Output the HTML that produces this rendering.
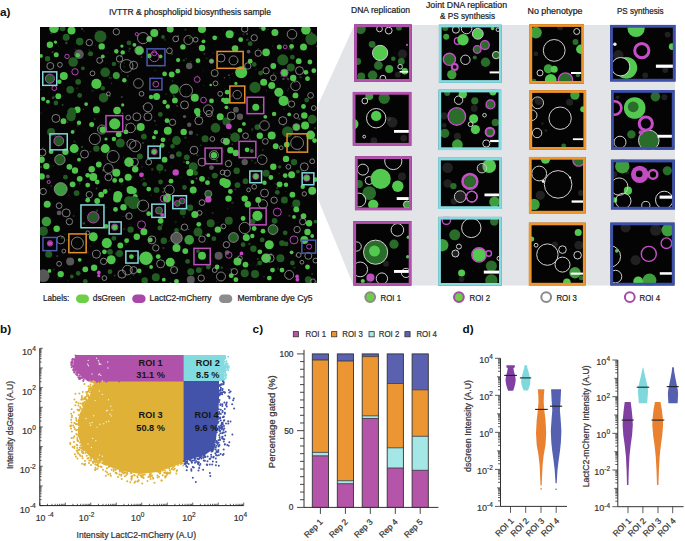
<!DOCTYPE html>
<html><head><meta charset="utf-8"><style>
html,body{margin:0;padding:0;background:#fff;width:685px;height:541px;overflow:hidden}
svg{display:block}
</style></head><body>
<svg width="685" height="541" viewBox="0 0 685 541" font-family="&apos;Liberation Sans&apos;, sans-serif"><text x="0" y="16" font-size="11.8" font-weight="bold" fill="#111" >a)</text>
<text x="109" y="14.5" font-size="8.8" textLength="162" lengthAdjust="spacingAndGlyphs" fill="#222" stroke="#222" stroke-width="0.22" >IVTTR &amp; phospholipid biosynthesis sample</text>
<polygon points="354.5,25 318,105 318,199 353.5,285.5 675,285.5 675,25" fill="#e3e4e8"/>
<text x="351" y="13.1" font-size="8.8" textLength="59" lengthAdjust="spacingAndGlyphs" fill="#222" stroke="#222" stroke-width="0.22" >DNA replication</text>
<text x="426" y="8" font-size="8.8" textLength="81" lengthAdjust="spacingAndGlyphs" fill="#222" stroke="#222" stroke-width="0.22" >Joint DNA replication</text>
<text x="440" y="19" font-size="8.8" textLength="55" lengthAdjust="spacingAndGlyphs" fill="#222" stroke="#222" stroke-width="0.22" >&amp; PS synthesis</text>
<text x="527.5" y="14" font-size="8.8" textLength="55" lengthAdjust="spacingAndGlyphs" fill="#222" stroke="#222" stroke-width="0.22" >No phenotype</text>
<text x="617" y="14" font-size="8.8" textLength="46.5" lengthAdjust="spacingAndGlyphs" fill="#222" stroke="#222" stroke-width="0.22" >PS synthesis</text>
<defs>
<clipPath id="tc00"><rect x="354.1" y="24.3" width="57.70" height="57.50"/></clipPath>
<clipPath id="tc01"><rect x="352.7" y="91.9" width="58.80" height="53.80"/></clipPath>
<clipPath id="tc02"><rect x="354.9" y="156.2" width="56.90" height="54.10"/></clipPath>
<clipPath id="tc03"><rect x="353.3" y="221.1" width="58.20" height="64.60"/></clipPath>
<clipPath id="tc10"><rect x="438.8" y="24.6" width="63.00" height="58.30"/></clipPath>
<clipPath id="tc11"><rect x="438.4" y="89.6" width="62.90" height="60.50"/></clipPath>
<clipPath id="tc12"><rect x="438.1" y="157.6" width="63.80" height="51.40"/></clipPath>
<clipPath id="tc13"><rect x="438.1" y="216.8" width="63.70" height="69.00"/></clipPath>
<clipPath id="tc20"><rect x="529.4" y="24.1" width="54.60" height="59.70"/></clipPath>
<clipPath id="tc21"><rect x="529.4" y="90.1" width="56.80" height="59.70"/></clipPath>
<clipPath id="tc22"><rect x="528.9" y="156.9" width="56.90" height="56.70"/></clipPath>
<clipPath id="tc23"><rect x="528.8" y="222.5" width="56.90" height="63.10"/></clipPath>
<clipPath id="tc30"><rect x="610.1" y="24.9" width="65.50" height="56.70"/></clipPath>
<clipPath id="tc31"><rect x="611.0" y="90.0" width="63.60" height="59.70"/></clipPath>
<clipPath id="tc32"><rect x="610.9" y="159.6" width="64.00" height="50.00"/></clipPath>
<clipPath id="tc33"><rect x="610.3" y="222.5" width="64.30" height="63.10"/></clipPath>
<filter id="blr" x="-20%" y="-20%" width="140%" height="140%"><feGaussianBlur stdDeviation="0.45"/></filter><filter id="blr2" x="0" y="0" width="100%" height="100%"><feGaussianBlur stdDeviation="0.35"/></filter>
</defs>
<g clip-path="url(#tc00)">
<rect x="354.1" y="24.3" width="57.70" height="57.50" fill="#040404"/>
<g filter="url(#blr)">
<circle cx="360.6" cy="28.9" r="5.2" fill="#2a6c2b"/>
<circle cx="372.1" cy="44.3" r="3.4" fill="#2a6c2b"/>
<circle cx="380.1" cy="52.9" r="7.4" fill="#52c94f"/>
<circle cx="380.1" cy="52.9" r="7.6" fill="none" stroke="#cfcfcf" stroke-width="1.0"/>
<circle cx="357.7" cy="61.5" r="3.4" fill="#2a6c2b"/>
<circle cx="378.4" cy="65.5" r="4.4" fill="#2a6c2b"/>
<circle cx="389.2" cy="69.0" r="4.0" fill="#3c9e3a"/>
<circle cx="372.6" cy="75.3" r="4.8" fill="#2a6c2b"/>
<circle cx="361.2" cy="76.4" r="4.0" fill="#2a6c2b"/>
<circle cx="404.7" cy="71.3" r="3.2" fill="#52c94f"/>
<circle cx="401.3" cy="61.5" r="3.4" fill="#2a6c2b"/>
<circle cx="393.3" cy="58.7" r="2.3" fill="#2a6c2b"/>
<circle cx="388.7" cy="30.6" r="3.4" fill="none" stroke="#cfcfcf" stroke-width="1.0"/>
<circle cx="379.5" cy="28.9" r="2.9" fill="none" stroke="#cfcfcf" stroke-width="1.0"/>
<circle cx="397.8" cy="74.7" r="2.9" fill="#8a8a8a" opacity="0.22"/>
<circle cx="407.0" cy="44.9" r="1.1" fill="#c24cc4"/>
<circle cx="402.4" cy="54.1" r="4.6" fill="#8a8a8a" opacity="0.22"/>
<circle cx="400.1" cy="66.7" r="2.3" fill="none" stroke="#cfcfcf" stroke-width="1.0"/>
<circle cx="382.9" cy="78.2" r="2.9" fill="none" stroke="#cfcfcf" stroke-width="1.0"/>
<circle cx="399.0" cy="27.7" r="2.9" fill="#2a6c2b"/>
</g>
<rect x="399.6" y="71.0" width="8.6" height="1.6" fill="#fff"/>
</g>
<rect x="355.50" y="25.70" width="54.90" height="54.70" fill="none" stroke="#b450ae" stroke-width="2.8"/>
<g clip-path="url(#tc01)">
<rect x="352.7" y="91.9" width="58.80" height="53.80" fill="#040404"/>
<g filter="url(#blr)">
<circle cx="369.3" cy="95.9" r="4.0" fill="#3c9e3a"/>
<circle cx="384.2" cy="98.2" r="5.7" fill="#2a6c2b"/>
<circle cx="364.8" cy="101.0" r="2.9" fill="none" stroke="#cfcfcf" stroke-width="1.0"/>
<circle cx="376.2" cy="118.2" r="9.7" fill="#060606"/>
<circle cx="376.2" cy="118.2" r="9.7" fill="none" stroke="#cfcfcf" stroke-width="1.0"/>
<circle cx="376.2" cy="115.9" r="5.2" fill="#52c94f"/>
<circle cx="353.3" cy="124.0" r="5.2" fill="#52c94f"/>
<circle cx="388.8" cy="118.8" r="2.3" fill="#8a8a8a" opacity="0.22"/>
<circle cx="392.3" cy="122.2" r="5.2" fill="#8a8a8a" opacity="0.22"/>
<circle cx="403.7" cy="138.3" r="3.4" fill="#8a8a8a" opacity="0.22"/>
<circle cx="364.2" cy="136.6" r="1.4" fill="none" stroke="#cfcfcf" stroke-width="1.0"/>
<circle cx="373.9" cy="140.6" r="3.4" fill="#8a8a8a" opacity="0.22"/>
</g>
<rect x="394.0" y="130.0" width="14.9" height="2.8" fill="#fff"/>
</g>
<rect x="354.10" y="93.30" width="56.00" height="51.00" fill="none" stroke="#b450ae" stroke-width="2.8"/>
<g clip-path="url(#tc02)">
<rect x="354.9" y="156.2" width="56.90" height="54.10" fill="#040404"/>
<g filter="url(#blr)">
<circle cx="362.9" cy="169.6" r="5.5" fill="none" stroke="#cfcfcf" stroke-width="1.0"/>
<circle cx="369.2" cy="180.5" r="4.0" fill="none" stroke="#cfcfcf" stroke-width="1.0"/>
<circle cx="358.9" cy="183.9" r="4.0" fill="#2a6c2b"/>
<circle cx="369.2" cy="193.1" r="6.9" fill="#2a6c2b"/>
<circle cx="380.7" cy="178.8" r="10.1" fill="#52c94f"/>
<circle cx="397.8" cy="186.2" r="5.7" fill="#52c94f"/>
<circle cx="393.3" cy="161.0" r="8.6" fill="none" stroke="#cfcfcf" stroke-width="1.0"/>
<circle cx="401.9" cy="176.5" r="4.0" fill="#8a8a8a" opacity="0.22"/>
<circle cx="358.9" cy="200.0" r="6.9" fill="none" stroke="#cfcfcf" stroke-width="1.0"/>
<circle cx="373.2" cy="204.6" r="5.2" fill="#52c94f"/>
<circle cx="407.0" cy="204.6" r="3.4" fill="#3c9e3a"/>
<circle cx="407.0" cy="204.6" r="3.6" fill="none" stroke="#cfcfcf" stroke-width="1.0"/>
</g>
<rect x="396.7" y="197.1" width="12.0" height="2.9" fill="#fff"/>
</g>
<rect x="356.30" y="157.60" width="54.10" height="51.30" fill="none" stroke="#b450ae" stroke-width="2.8"/>
<g clip-path="url(#tc03)">
<rect x="353.3" y="221.1" width="58.20" height="64.60" fill="#040404"/>
<g filter="url(#blr)">
<circle cx="375.6" cy="252.2" r="12.0" fill="#2a6c2b"/>
<circle cx="375.6" cy="252.2" r="12.1" fill="none" stroke="#cfcfcf" stroke-width="1.0"/>
<circle cx="374.5" cy="251.1" r="5.5" fill="#52c94f"/>
<circle cx="397.4" cy="229.9" r="6.3" fill="none" stroke="#cfcfcf" stroke-width="1.0"/>
<circle cx="394.0" cy="244.2" r="4.6" fill="#2a6c2b"/>
<circle cx="356.7" cy="246.5" r="4.6" fill="none" stroke="#cfcfcf" stroke-width="1.0"/>
<circle cx="408.3" cy="237.3" r="1.7" fill="#52c94f"/>
<circle cx="407.7" cy="256.8" r="1.7" fill="#52c94f"/>
<circle cx="360.2" cy="269.4" r="7.4" fill="none" stroke="#cfcfcf" stroke-width="1.0"/>
<circle cx="386.0" cy="263.7" r="2.9" fill="#8a8a8a" opacity="0.22"/>
<circle cx="406.0" cy="272.9" r="4.6" fill="none" stroke="#cfcfcf" stroke-width="1.0"/>
<circle cx="381.9" cy="278.6" r="5.7" fill="none" stroke="#cfcfcf" stroke-width="1.0"/>
<circle cx="370.5" cy="277.4" r="4.0" fill="#c24cc4"/>
<circle cx="369.3" cy="279.7" r="3.4" fill="#8a8a8a" opacity="0.22"/>
<circle cx="362.8" cy="281.0" r="2.1" fill="#52c94f"/>
</g>
<rect x="394.0" y="270.0" width="14.9" height="2.9" fill="#fff"/>
</g>
<rect x="354.70" y="222.50" width="55.40" height="61.80" fill="none" stroke="#b450ae" stroke-width="2.8"/>
<g clip-path="url(#tc10)">
<rect x="438.8" y="24.6" width="63.00" height="58.30" fill="#040404"/>
<g filter="url(#blr)">
<circle cx="445.3" cy="27.9" r="3.0" fill="#2a6c2b"/>
<circle cx="446.2" cy="36.8" r="3.0" fill="#3c9e3a"/>
<circle cx="457.7" cy="40.9" r="3.3" fill="none" stroke="#c64fc8" stroke-width="1.35"/>
<circle cx="463.0" cy="39.7" r="5.7" fill="#52c94f"/>
<circle cx="477.8" cy="33.8" r="5.3" fill="#52c94f"/>
<circle cx="477.8" cy="33.8" r="5.4" fill="none" stroke="#cfcfcf" stroke-width="1.0"/>
<circle cx="455.9" cy="29.7" r="3.5" fill="none" stroke="#cfcfcf" stroke-width="1.0"/>
<circle cx="466.6" cy="28.5" r="5.3" fill="none" stroke="#cfcfcf" stroke-width="1.0"/>
<circle cx="484.9" cy="45.1" r="4.1" fill="#2a6c2b"/>
<circle cx="484.9" cy="45.1" r="4.4" fill="none" stroke="#c64fc8" stroke-width="1.35"/>
<circle cx="477.2" cy="49.4" r="3.5" fill="#2a6c2b"/>
<circle cx="477.2" cy="49.4" r="3.8" fill="none" stroke="#c64fc8" stroke-width="1.35"/>
<circle cx="449.4" cy="59.3" r="5.9" fill="#2a6c2b"/>
<circle cx="449.4" cy="59.3" r="6.1" fill="none" stroke="#c64fc8" stroke-width="1.35"/>
<circle cx="454.7" cy="66.9" r="3.3" fill="none" stroke="#c64fc8" stroke-width="1.35"/>
<circle cx="454.7" cy="66.9" r="2.6" fill="none" stroke="#c64fc8" stroke-width="1.35"/>
<circle cx="451.8" cy="74.6" r="4.7" fill="#3c9e3a"/>
<circle cx="465.4" cy="59.8" r="4.7" fill="none" stroke="#cfcfcf" stroke-width="1.0"/>
<circle cx="485.5" cy="62.2" r="4.7" fill="#2a6c2b"/>
<circle cx="496.1" cy="55.1" r="3.5" fill="#2a6c2b"/>
<circle cx="496.1" cy="55.1" r="3.7" fill="none" stroke="#cfcfcf" stroke-width="1.0"/>
<circle cx="492.6" cy="28.5" r="1.8" fill="#52c94f"/>
<circle cx="497.9" cy="29.7" r="1.8" fill="none" stroke="#cfcfcf" stroke-width="1.0"/>
<circle cx="474.8" cy="57.5" r="2.1" fill="#2a6c2b"/>
</g>
<rect x="489.6" y="71.4" width="9.5" height="2.0" fill="#fff"/>
</g>
<rect x="440.20" y="26.00" width="60.20" height="55.50" fill="none" stroke="#84dbe0" stroke-width="2.8"/>
<g clip-path="url(#tc11)">
<rect x="438.4" y="89.6" width="62.90" height="60.50" fill="#040404"/>
<g filter="url(#blr)">
<circle cx="447.2" cy="93.0" r="3.0" fill="#2a6c2b"/>
<circle cx="462.8" cy="94.2" r="4.2" fill="#52c94f"/>
<circle cx="458.6" cy="100.2" r="4.2" fill="none" stroke="#cfcfcf" stroke-width="1.0"/>
<circle cx="474.8" cy="100.8" r="3.6" fill="#2a6c2b"/>
<circle cx="456.8" cy="116.4" r="8.6" fill="#2a6c2b"/>
<circle cx="456.8" cy="116.4" r="8.8" fill="none" stroke="#c64fc8" stroke-width="1.35"/>
<circle cx="474.2" cy="108.4" r="3.4" fill="#8a8a8a" opacity="0.22"/>
<circle cx="490.5" cy="104.4" r="4.2" fill="#2a6c2b"/>
<circle cx="490.5" cy="104.4" r="4.4" fill="none" stroke="#c64fc8" stroke-width="1.35"/>
<circle cx="487.5" cy="106.8" r="2.4" fill="#8a8a8a" opacity="0.22"/>
<circle cx="492.9" cy="91.8" r="3.6" fill="#52c94f"/>
<circle cx="444.2" cy="115.8" r="3.6" fill="#8a8a8a" opacity="0.22"/>
<circle cx="473.6" cy="118.8" r="4.6" fill="#52c94f"/>
<circle cx="475.4" cy="129.6" r="4.6" fill="#52c94f"/>
<circle cx="495.3" cy="122.4" r="3.6" fill="#2a6c2b"/>
<circle cx="489.9" cy="132.1" r="4.3" fill="#2a6c2b"/>
<circle cx="489.9" cy="132.1" r="4.6" fill="none" stroke="#c64fc8" stroke-width="1.35"/>
<circle cx="489.9" cy="132.1" r="4.1" fill="none" stroke="#c64fc8" stroke-width="1.35"/>
<circle cx="444.8" cy="133.3" r="4.6" fill="#2a6c2b"/>
<circle cx="444.2" cy="125.4" r="2.4" fill="#8a8a8a" opacity="0.22"/>
<circle cx="457.4" cy="136.3" r="3.6" fill="#8a8a8a" opacity="0.22"/>
<circle cx="457.4" cy="144.7" r="5.4" fill="#3c9e3a"/>
<circle cx="486.3" cy="143.5" r="3.6" fill="none" stroke="#cfcfcf" stroke-width="1.0"/>
<circle cx="484.5" cy="115.2" r="1.8" fill="none" stroke="#cfcfcf" stroke-width="1.0"/>
<circle cx="470.6" cy="124.2" r="2.4" fill="none" stroke="#cfcfcf" stroke-width="1.0"/>
</g>
<rect x="490.1" y="139.9" width="8.8" height="2.2" fill="#fff"/>
</g>
<rect x="439.80" y="91.00" width="60.10" height="57.70" fill="none" stroke="#84dbe0" stroke-width="2.8"/>
<g clip-path="url(#tc12)">
<rect x="438.1" y="157.6" width="63.80" height="51.40" fill="#040404"/>
<g filter="url(#blr)">
<circle cx="489.2" cy="166.1" r="6.9" fill="#52c94f"/>
<circle cx="481.9" cy="168.2" r="4.7" fill="none" stroke="#cfcfcf" stroke-width="1.0"/>
<circle cx="481.3" cy="168.7" r="4.2" fill="#8a8a8a" opacity="0.22"/>
<circle cx="447.6" cy="167.7" r="5.3" fill="#8a8a8a" opacity="0.22"/>
<circle cx="469.9" cy="181.4" r="7.2" fill="none" stroke="#c64fc8" stroke-width="3.0"/>
<circle cx="469.9" cy="181.4" r="5.8" fill="#2a6c2b"/>
<circle cx="447.6" cy="183.5" r="4.2" fill="#8a8a8a" opacity="0.22"/>
<circle cx="453.4" cy="186.1" r="3.2" fill="#2a6c2b"/>
<circle cx="460.2" cy="196.6" r="5.8" fill="none" stroke="#cfcfcf" stroke-width="1.0"/>
<circle cx="460.2" cy="196.6" r="5.3" fill="#8a8a8a" opacity="0.22"/>
<circle cx="471.8" cy="196.6" r="5.3" fill="none" stroke="#cfcfcf" stroke-width="1.0"/>
<circle cx="471.8" cy="196.6" r="5.4" fill="none" stroke="#c64fc8" stroke-width="1.35"/>
<circle cx="494.5" cy="201.9" r="5.3" fill="#3c9e3a"/>
<circle cx="453.9" cy="201.4" r="3.2" fill="#8a8a8a" opacity="0.22"/>
</g>
<rect x="484.5" y="193.5" width="14.5" height="2.8" fill="#fff"/>
</g>
<rect x="439.50" y="159.00" width="61.00" height="48.60" fill="none" stroke="#84dbe0" stroke-width="2.8"/>
<g clip-path="url(#tc13)">
<rect x="438.1" y="216.8" width="63.70" height="69.00" fill="#040404"/>
<g filter="url(#blr)">
<circle cx="471.3" cy="227.9" r="9.7" fill="none" stroke="#cfcfcf" stroke-width="1.0"/>
<circle cx="454.7" cy="234.8" r="5.5" fill="#2a6c2b"/>
<circle cx="442.2" cy="245.2" r="6.2" fill="#3c9e3a"/>
<circle cx="455.4" cy="253.5" r="3.5" fill="#8a8a8a" opacity="0.22"/>
<circle cx="455.4" cy="253.5" r="3.5" fill="none" stroke="#cfcfcf" stroke-width="1.0"/>
<circle cx="479.0" cy="254.9" r="6.9" fill="#52c94f"/>
<circle cx="479.0" cy="254.9" r="7.2" fill="none" stroke="#c64fc8" stroke-width="1.35"/>
<circle cx="488.7" cy="253.5" r="2.8" fill="none" stroke="#c64fc8" stroke-width="1.35"/>
<circle cx="491.4" cy="266.0" r="5.5" fill="#2a6c2b"/>
<circle cx="461.6" cy="272.9" r="3.5" fill="#52c94f"/>
<circle cx="461.6" cy="279.2" r="2.8" fill="#8a8a8a" opacity="0.22"/>
<circle cx="491.4" cy="280.5" r="6.2" fill="#2a6c2b"/>
<circle cx="494.2" cy="221.6" r="4.2" fill="#2a6c2b"/>
<circle cx="446.4" cy="220.2" r="4.2" fill="none" stroke="#c64fc8" stroke-width="1.35"/>
<circle cx="499.1" cy="258.4" r="2.1" fill="none" stroke="#cfcfcf" stroke-width="1.0"/>
<circle cx="458.9" cy="246.6" r="2.5" fill="none" stroke="#cfcfcf" stroke-width="1.0"/>
</g>
<rect x="483.8" y="270.6" width="15.7" height="3.0" fill="#fff"/>
</g>
<rect x="439.50" y="218.20" width="60.90" height="66.20" fill="none" stroke="#84dbe0" stroke-width="2.8"/>
<g clip-path="url(#tc20)">
<rect x="529.4" y="24.1" width="54.60" height="59.70" fill="#040404"/>
<g filter="url(#blr)">
<circle cx="535.9" cy="32.6" r="5.9" fill="#3c9e3a"/>
<circle cx="554.2" cy="50.4" r="10.9" fill="none" stroke="#cfcfcf" stroke-width="1.0"/>
<circle cx="580.8" cy="49.2" r="4.7" fill="#52c94f"/>
<circle cx="575.5" cy="42.1" r="3.0" fill="#2a6c2b"/>
<circle cx="548.3" cy="68.7" r="4.5" fill="#3c9e3a"/>
<circle cx="554.2" cy="69.3" r="3.5" fill="#52c94f"/>
<circle cx="550.7" cy="80.0" r="5.9" fill="#52c94f"/>
<circle cx="565.5" cy="80.0" r="7.1" fill="#2a6c2b"/>
<circle cx="565.5" cy="80.0" r="7.2" fill="none" stroke="#c64fc8" stroke-width="1.35"/>
<circle cx="560.1" cy="27.3" r="3.0" fill="#8a8a8a" opacity="0.22"/>
<circle cx="576.7" cy="31.5" r="3.0" fill="none" stroke="#cfcfcf" stroke-width="1.0"/>
<circle cx="540.0" cy="72.9" r="3.0" fill="none" stroke="#cfcfcf" stroke-width="1.0"/>
<circle cx="535.9" cy="53.9" r="2.4" fill="#8a8a8a" opacity="0.22"/>
<circle cx="577.9" cy="75.2" r="2.1" fill="#2a6c2b"/>
<circle cx="534.1" cy="81.2" r="2.4" fill="#2a6c2b"/>
</g>
<rect x="571.0" y="72.0" width="10.4" height="2.0" fill="#fff"/>
</g>
<rect x="530.80" y="25.50" width="51.80" height="56.90" fill="none" stroke="#f0952a" stroke-width="2.8"/>
<g clip-path="url(#tc21)">
<rect x="529.4" y="90.1" width="56.80" height="59.70" fill="#040404"/>
<g filter="url(#blr)">
<circle cx="560.1" cy="118.2" r="11.2" fill="none" stroke="#cfcfcf" stroke-width="1.0"/>
<circle cx="574.9" cy="95.1" r="4.7" fill="#3c9e3a"/>
<circle cx="583.2" cy="109.3" r="3.0" fill="#52c94f"/>
<circle cx="537.6" cy="102.8" r="5.9" fill="none" stroke="#cfcfcf" stroke-width="1.0"/>
<circle cx="538.8" cy="101.0" r="4.1" fill="#8a8a8a" opacity="0.22"/>
<circle cx="531.7" cy="115.2" r="5.3" fill="none" stroke="#cfcfcf" stroke-width="1.0"/>
<circle cx="537.1" cy="133.0" r="4.7" fill="none" stroke="#cfcfcf" stroke-width="1.0"/>
<circle cx="569.6" cy="102.2" r="3.5" fill="#8a8a8a" opacity="0.22"/>
<circle cx="563.7" cy="146.0" r="2.4" fill="#2a6c2b"/>
<circle cx="542.4" cy="123.5" r="1.2" fill="#8a8a8a" opacity="0.22"/>
<circle cx="545.9" cy="130.6" r="1.4" fill="#8a8a8a" opacity="0.22"/>
</g>
<rect x="572.9" y="138.3" width="10.3" height="1.8" fill="#fff"/>
</g>
<rect x="530.80" y="91.50" width="54.00" height="56.90" fill="none" stroke="#f0952a" stroke-width="2.8"/>
<g clip-path="url(#tc22)">
<rect x="528.9" y="156.9" width="56.90" height="56.70" fill="#040404"/>
<g filter="url(#blr)">
<circle cx="558.1" cy="184.4" r="13.8" fill="none" stroke="#cfcfcf" stroke-width="1.0"/>
<circle cx="539.2" cy="173.5" r="7.4" fill="none" stroke="#cfcfcf" stroke-width="1.0"/>
<circle cx="534.0" cy="204.4" r="5.7" fill="#3c9e3a"/>
<circle cx="545.5" cy="159.2" r="4.6" fill="#52c94f"/>
<circle cx="578.7" cy="160.3" r="5.7" fill="#2a6c2b"/>
<circle cx="578.7" cy="160.3" r="5.8" fill="none" stroke="#c64fc8" stroke-width="1.35"/>
<circle cx="540.3" cy="195.3" r="4.6" fill="#8a8a8a" opacity="0.22"/>
<circle cx="581.0" cy="193.0" r="2.9" fill="#8a8a8a" opacity="0.22"/>
<circle cx="543.2" cy="181.5" r="1.4" fill="#eeeeee"/>
<circle cx="570.1" cy="177.5" r="1.1" fill="#eeeeee"/>
</g>
<rect x="571.6" y="200.4" width="11.7" height="2.3" fill="#fff"/>
</g>
<rect x="530.30" y="158.30" width="54.10" height="53.90" fill="none" stroke="#f0952a" stroke-width="2.8"/>
<g clip-path="url(#tc23)">
<rect x="528.8" y="222.5" width="56.90" height="63.10" fill="#040404"/>
<g filter="url(#blr)">
<circle cx="547.4" cy="254.6" r="10.7" fill="none" stroke="#cfcfcf" stroke-width="1.0"/>
<circle cx="562.5" cy="264.6" r="7.5" fill="none" stroke="#cfcfcf" stroke-width="1.0"/>
<circle cx="562.5" cy="249.6" r="3.8" fill="none" stroke="#cfcfcf" stroke-width="1.0"/>
<circle cx="554.9" cy="244.5" r="3.1" fill="#8a8a8a" opacity="0.22"/>
<circle cx="578.2" cy="232.6" r="3.5" fill="#52c94f"/>
<circle cx="575.0" cy="272.8" r="5.7" fill="#3c9e3a"/>
<circle cx="573.8" cy="271.6" r="3.1" fill="#8a8a8a" opacity="0.22"/>
<circle cx="577.6" cy="255.2" r="3.8" fill="none" stroke="#cfcfcf" stroke-width="1.0"/>
<circle cx="578.8" cy="245.2" r="4.4" fill="#8a8a8a" opacity="0.22"/>
<circle cx="531.7" cy="238.9" r="2.5" fill="#52c94f"/>
<circle cx="566.9" cy="282.2" r="3.8" fill="#52c94f"/>
<circle cx="536.1" cy="245.2" r="1.9" fill="none" stroke="#cfcfcf" stroke-width="1.0"/>
<circle cx="581.3" cy="277.8" r="2.5" fill="#2a6c2b"/>
</g>
<rect x="570.6" y="272.6" width="12.6" height="2.1" fill="#fff"/>
</g>
<rect x="530.20" y="223.90" width="54.10" height="60.30" fill="none" stroke="#f0952a" stroke-width="2.8"/>
<g clip-path="url(#tc30)">
<rect x="610.1" y="24.9" width="65.50" height="56.70" fill="#040404"/>
<g filter="url(#blr)">
<circle cx="636.1" cy="28.3" r="8.6" fill="#52c94f"/>
<circle cx="618.3" cy="55.2" r="5.2" fill="#8a8a8a" opacity="0.22"/>
<circle cx="626.3" cy="67.8" r="10.9" fill="#52c94f"/>
<circle cx="620.6" cy="66.7" r="9.2" fill="#060606"/>
<circle cx="620.6" cy="66.7" r="9.2" fill="none" stroke="#cfcfcf" stroke-width="1.0"/>
<circle cx="641.8" cy="50.6" r="7.1" fill="none" stroke="#c64fc8" stroke-width="3.0"/>
<circle cx="614.9" cy="44.3" r="1.7" fill="#eeeeee"/>
<circle cx="672.2" cy="46.6" r="3.4" fill="#52c94f"/>
<circle cx="667.6" cy="34.6" r="2.9" fill="#8a8a8a" opacity="0.22"/>
<circle cx="645.2" cy="75.3" r="2.9" fill="#8a8a8a" opacity="0.22"/>
<circle cx="665.3" cy="70.1" r="2.9" fill="#8a8a8a" opacity="0.22"/>
</g>
<rect x="655.9" y="64.6" width="17.4" height="3.2" fill="#fff"/>
</g>
<rect x="611.50" y="26.30" width="62.70" height="53.90" fill="none" stroke="#3d50aa" stroke-width="2.8"/>
<g clip-path="url(#tc31)">
<rect x="611.0" y="90.0" width="63.60" height="59.70" fill="#040404"/>
<g filter="url(#blr)">
<circle cx="634.7" cy="108.0" r="10.8" fill="#52c94f"/>
<circle cx="633.2" cy="106.8" r="5.4" fill="#2a6c2b"/>
<circle cx="614.6" cy="108.0" r="6.6" fill="none" stroke="#c64fc8" stroke-width="3.0"/>
<circle cx="614.6" cy="108.0" r="5.4" fill="#060606"/>
<circle cx="655.4" cy="96.6" r="4.8" fill="#2a6c2b"/>
<circle cx="631.4" cy="134.4" r="4.2" fill="#2a6c2b"/>
<circle cx="648.8" cy="140.4" r="10.2" fill="#2a6c2b"/>
<circle cx="648.8" cy="140.4" r="10.3" fill="none" stroke="#cfcfcf" stroke-width="1.0"/>
<circle cx="620.0" cy="142.2" r="6.0" fill="none" stroke="#cfcfcf" stroke-width="1.0"/>
<circle cx="664.4" cy="97.2" r="3.0" fill="#8a8a8a" opacity="0.22"/>
<circle cx="641.0" cy="132.6" r="2.4" fill="#c24cc4"/>
<circle cx="617.6" cy="97.2" r="1.8" fill="#8a8a8a" opacity="0.22"/>
<circle cx="645.8" cy="123.6" r="6.6" fill="none" stroke="#c64fc8" stroke-width="3.0"/>
</g>
<rect x="657.5" y="134.8" width="14.8" height="2.9" fill="#fff"/>
</g>
<rect x="612.40" y="91.40" width="60.80" height="56.90" fill="none" stroke="#3d50aa" stroke-width="2.8"/>
<g clip-path="url(#tc32)">
<rect x="610.9" y="159.6" width="64.00" height="50.00" fill="#040404"/>
<g filter="url(#blr)">
<circle cx="622.3" cy="166.2" r="7.2" fill="#3c9e3a"/>
<circle cx="627.9" cy="190.7" r="4.1" fill="#52c94f"/>
<circle cx="614.6" cy="199.9" r="2.6" fill="#52c94f"/>
<circle cx="619.2" cy="186.6" r="8.7" fill="none" stroke="#cfcfcf" stroke-width="1.0"/>
<circle cx="623.3" cy="200.9" r="7.7" fill="none" stroke="#cfcfcf" stroke-width="1.0"/>
<circle cx="639.7" cy="174.4" r="8.7" fill="#c24cc4"/>
<circle cx="639.2" cy="173.9" r="3.3" fill="#060606"/>
<circle cx="653.0" cy="174.4" r="4.1" fill="none" stroke="#c64fc8" stroke-width="3.0"/>
<circle cx="653.0" cy="174.4" r="3.1" fill="#060606"/>
<circle cx="667.3" cy="170.8" r="4.6" fill="#2a6c2b"/>
<circle cx="664.2" cy="199.9" r="8.7" fill="none" stroke="#cfcfcf" stroke-width="1.0"/>
<circle cx="645.8" cy="205.5" r="4.1" fill="none" stroke="#cfcfcf" stroke-width="1.0"/>
<circle cx="614.1" cy="174.4" r="3.1" fill="#8a8a8a" opacity="0.22"/>
<circle cx="626.9" cy="172.3" r="2.0" fill="#8a8a8a" opacity="0.22"/>
</g>
<rect x="659.6" y="195.6" width="12.6" height="3.1" fill="#fff"/>
</g>
<rect x="612.30" y="161.00" width="61.20" height="47.20" fill="none" stroke="#3d50aa" stroke-width="2.8"/>
<g clip-path="url(#tc33)">
<rect x="610.3" y="222.5" width="64.30" height="63.10" fill="#040404"/>
<g filter="url(#blr)">
<circle cx="648.8" cy="253.9" r="7.5" fill="none" stroke="#c64fc8" stroke-width="1.4"/>
<circle cx="666.4" cy="243.2" r="5.3" fill="none" stroke="#c64fc8" stroke-width="1.35"/>
<circle cx="667.7" cy="230.1" r="6.3" fill="#3c9e3a"/>
<circle cx="609.9" cy="256.4" r="10.7" fill="none" stroke="#cfcfcf" stroke-width="1.0"/>
<circle cx="616.8" cy="250.8" r="1.9" fill="#52c94f"/>
<circle cx="615.5" cy="276.6" r="6.3" fill="none" stroke="#cfcfcf" stroke-width="1.0"/>
<circle cx="649.5" cy="280.3" r="6.9" fill="#3c9e3a"/>
<circle cx="638.2" cy="281.6" r="5.0" fill="#52c94f"/>
<circle cx="655.8" cy="230.1" r="5.7" fill="#8a8a8a" opacity="0.22"/>
<circle cx="625.6" cy="227.5" r="5.0" fill="#8a8a8a" opacity="0.22"/>
<circle cx="635.6" cy="260.2" r="5.0" fill="#8a8a8a" opacity="0.22"/>
</g>
<rect x="659.8" y="272.2" width="13.3" height="2.5" fill="#fff"/>
</g>
<rect x="611.70" y="223.90" width="61.50" height="60.30" fill="none" stroke="#3d50aa" stroke-width="2.8"/>
<svg x="40" y="27" width="277" height="256" viewBox="40 27 277 256" overflow="hidden">
<rect x="40" y="27" width="277" height="256" fill="#050505"/>
<g filter="url(#blr2)">
<circle cx="165.3" cy="170.3" r="1.2" fill="rgb(18,54,18)"/><circle cx="180.7" cy="177.4" r="0.6" fill="rgb(19,57,19)"/><circle cx="214.5" cy="230.0" r="0.5" fill="rgb(44,44,44)"/><circle cx="65.1" cy="234.3" r="1.0" fill="rgb(9,27,9)"/><circle cx="312.1" cy="274.0" r="1.0" fill="rgb(21,64,21)"/><circle cx="83.6" cy="30.8" r="0.9" fill="rgb(28,28,28)"/><circle cx="92.7" cy="88.9" r="0.4" fill="rgb(18,54,18)"/><circle cx="162.0" cy="242.7" r="0.9" fill="rgb(21,65,21)"/><circle cx="178.4" cy="196.6" r="0.8" fill="rgb(14,42,14)"/><circle cx="316.4" cy="281.9" r="1.2" fill="rgb(23,70,23)"/><circle cx="127.3" cy="85.8" r="0.7" fill="rgb(9,29,9)"/><circle cx="252.3" cy="129.5" r="1.2" fill="rgb(49,49,49)"/><circle cx="305.4" cy="243.9" r="0.4" fill="rgb(38,38,38)"/><circle cx="170.2" cy="278.0" r="0.8" fill="rgb(9,29,9)"/><circle cx="214.4" cy="226.3" r="0.6" fill="rgb(10,30,10)"/><circle cx="132.1" cy="273.8" r="1.1" fill="rgb(32,32,32)"/><circle cx="108.2" cy="52.9" r="0.5" fill="rgb(56,56,56)"/><circle cx="228.9" cy="75.2" r="0.9" fill="rgb(71,71,71)"/><circle cx="156.1" cy="125.2" r="0.8" fill="rgb(38,38,38)"/><circle cx="114.7" cy="275.6" r="1.1" fill="rgb(44,44,44)"/><circle cx="98.4" cy="127.9" r="1.2" fill="rgb(22,66,22)"/><circle cx="67.8" cy="280.3" r="0.6" fill="rgb(41,41,41)"/><circle cx="254.0" cy="111.2" r="0.7" fill="rgb(29,29,29)"/><circle cx="65.0" cy="176.2" r="0.6" fill="rgb(21,63,21)"/><circle cx="143.0" cy="143.0" r="1.3" fill="rgb(18,55,18)"/><circle cx="77.6" cy="125.8" r="1.0" fill="rgb(44,44,44)"/><circle cx="266.5" cy="90.9" r="0.6" fill="rgb(24,72,24)"/><circle cx="300.5" cy="77.3" r="1.3" fill="rgb(18,55,18)"/><circle cx="61.7" cy="39.1" r="0.5" fill="rgb(19,57,19)"/><circle cx="106.0" cy="207.4" r="0.6" fill="rgb(21,63,21)"/><circle cx="121.3" cy="71.9" r="1.0" fill="rgb(29,29,29)"/><circle cx="103.3" cy="170.2" r="1.2" fill="rgb(64,64,64)"/><circle cx="117.6" cy="261.8" r="0.6" fill="rgb(26,26,26)"/><circle cx="114.6" cy="141.1" r="0.5" fill="rgb(12,36,12)"/><circle cx="142.2" cy="173.5" r="0.5" fill="rgb(48,48,48)"/><circle cx="286.8" cy="278.0" r="1.0" fill="rgb(23,69,23)"/><circle cx="201.9" cy="62.9" r="0.4" fill="rgb(8,26,8)"/><circle cx="292.1" cy="206.4" r="1.3" fill="rgb(8,26,8)"/><circle cx="216.2" cy="150.5" r="1.1" fill="rgb(45,45,45)"/><circle cx="316.8" cy="46.3" r="0.9" fill="rgb(72,72,72)"/><circle cx="289.4" cy="215.7" r="1.0" fill="rgb(25,75,25)"/><circle cx="137.5" cy="202.4" r="1.2" fill="rgb(51,51,51)"/><circle cx="279.2" cy="173.6" r="1.0" fill="rgb(16,49,16)"/><circle cx="201.4" cy="182.9" r="0.5" fill="rgb(65,65,65)"/><circle cx="315.2" cy="252.2" r="1.1" fill="rgb(16,49,16)"/><circle cx="232.3" cy="144.2" r="0.8" fill="rgb(59,59,59)"/><circle cx="183.7" cy="158.7" r="0.7" fill="rgb(10,30,10)"/><circle cx="46.2" cy="272.1" r="0.5" fill="rgb(24,74,24)"/><circle cx="222.9" cy="151.5" r="1.2" fill="rgb(16,48,16)"/><circle cx="79.7" cy="183.6" r="0.9" fill="rgb(24,73,24)"/><circle cx="222.8" cy="140.1" r="1.2" fill="rgb(15,45,15)"/><circle cx="224.5" cy="77.8" r="0.8" fill="rgb(73,73,73)"/><circle cx="283.8" cy="125.4" r="0.9" fill="rgb(45,45,45)"/><circle cx="77.7" cy="154.1" r="1.2" fill="rgb(9,27,9)"/><circle cx="57.8" cy="278.0" r="1.1" fill="rgb(10,32,10)"/><circle cx="170.6" cy="264.0" r="1.1" fill="rgb(16,49,16)"/><circle cx="184.0" cy="199.1" r="1.0" fill="rgb(21,64,21)"/><circle cx="128.7" cy="239.2" r="0.7" fill="rgb(63,63,63)"/><circle cx="227.9" cy="99.0" r="0.7" fill="rgb(22,66,22)"/><circle cx="45.3" cy="61.8" r="0.8" fill="rgb(8,26,8)"/><circle cx="105.8" cy="63.1" r="0.4" fill="rgb(65,65,65)"/><circle cx="163.7" cy="188.3" r="1.0" fill="rgb(48,48,48)"/><circle cx="229.6" cy="78.0" r="0.8" fill="rgb(12,36,12)"/><circle cx="43.0" cy="147.9" r="1.0" fill="rgb(36,36,36)"/><circle cx="115.4" cy="115.5" r="1.0" fill="rgb(19,58,19)"/><circle cx="210.2" cy="220.6" r="0.8" fill="rgb(25,75,25)"/><circle cx="291.0" cy="49.3" r="1.2" fill="rgb(23,71,23)"/><circle cx="76.0" cy="143.1" r="1.0" fill="rgb(8,25,8)"/><circle cx="192.4" cy="194.1" r="0.9" fill="rgb(15,46,15)"/><circle cx="130.4" cy="278.5" r="0.5" fill="rgb(22,66,22)"/><circle cx="74.2" cy="89.0" r="0.8" fill="rgb(10,30,10)"/><circle cx="188.7" cy="229.4" r="0.7" fill="rgb(70,70,70)"/><circle cx="136.5" cy="48.2" r="0.8" fill="rgb(20,60,20)"/><circle cx="252.8" cy="151.8" r="0.4" fill="rgb(9,29,9)"/><circle cx="261.6" cy="71.3" r="0.7" fill="rgb(75,75,75)"/><circle cx="170.3" cy="283.0" r="1.2" fill="rgb(19,58,19)"/><circle cx="231.0" cy="269.1" r="0.8" fill="rgb(69,69,69)"/><circle cx="249.9" cy="139.5" r="0.9" fill="rgb(23,71,23)"/><circle cx="217.0" cy="160.8" r="1.2" fill="rgb(20,60,20)"/><circle cx="126.3" cy="124.6" r="1.2" fill="rgb(64,64,64)"/><circle cx="124.3" cy="63.1" r="0.9" fill="rgb(14,42,14)"/><circle cx="177.8" cy="132.2" r="0.5" fill="rgb(8,25,8)"/><circle cx="144.4" cy="164.8" r="0.4" fill="rgb(16,50,16)"/><circle cx="261.9" cy="171.1" r="0.8" fill="rgb(69,69,69)"/><circle cx="58.3" cy="164.9" r="0.8" fill="rgb(16,50,16)"/><circle cx="108.2" cy="153.2" r="0.7" fill="rgb(18,55,18)"/><circle cx="127.9" cy="76.0" r="1.0" fill="rgb(41,41,41)"/><circle cx="234.5" cy="277.2" r="0.4" fill="rgb(34,34,34)"/><circle cx="43.3" cy="99.7" r="1.1" fill="rgb(13,40,13)"/><circle cx="178.2" cy="154.9" r="0.9" fill="rgb(19,57,19)"/><circle cx="109.4" cy="77.6" r="0.9" fill="rgb(52,52,52)"/><circle cx="144.1" cy="132.8" r="0.9" fill="rgb(11,35,11)"/><circle cx="96.6" cy="188.6" r="1.0" fill="rgb(58,58,58)"/><circle cx="275.8" cy="183.6" r="1.2" fill="rgb(13,39,13)"/><circle cx="213.9" cy="116.0" r="0.6" fill="rgb(21,63,21)"/><circle cx="286.7" cy="76.8" r="1.1" fill="rgb(37,37,37)"/><circle cx="77.1" cy="88.3" r="1.1" fill="rgb(13,41,13)"/><circle cx="66.9" cy="240.0" r="0.8" fill="rgb(25,75,25)"/><circle cx="74.9" cy="130.1" r="1.0" fill="rgb(26,26,26)"/><circle cx="95.7" cy="201.7" r="1.2" fill="rgb(48,48,48)"/><circle cx="235.2" cy="189.5" r="0.7" fill="rgb(68,68,68)"/><circle cx="262.4" cy="150.4" r="0.4" fill="rgb(24,73,24)"/><circle cx="209.9" cy="258.7" r="0.8" fill="rgb(37,37,37)"/><circle cx="71.8" cy="71.2" r="0.5" fill="rgb(14,43,14)"/><circle cx="66.4" cy="42.9" r="1.3" fill="rgb(54,54,54)"/><circle cx="251.8" cy="110.7" r="0.8" fill="rgb(19,57,19)"/><circle cx="159.1" cy="180.8" r="0.4" fill="rgb(69,69,69)"/><circle cx="273.9" cy="73.4" r="0.8" fill="rgb(24,72,24)"/><circle cx="152.3" cy="77.0" r="0.5" fill="rgb(57,57,57)"/><circle cx="129.7" cy="48.7" r="1.2" fill="rgb(21,65,21)"/><circle cx="197.8" cy="75.9" r="0.9" fill="rgb(15,46,15)"/><circle cx="117.4" cy="56.8" r="1.1" fill="rgb(11,35,11)"/><circle cx="76.9" cy="111.5" r="0.9" fill="rgb(16,48,16)"/><circle cx="252.0" cy="130.9" r="1.1" fill="rgb(9,29,9)"/><circle cx="123.6" cy="52.8" r="1.2" fill="rgb(21,65,21)"/><circle cx="53.7" cy="96.9" r="1.3" fill="rgb(14,44,14)"/><circle cx="99.8" cy="131.0" r="0.6" fill="rgb(9,29,9)"/><circle cx="182.6" cy="154.4" r="0.6" fill="rgb(10,32,10)"/><circle cx="311.5" cy="32.8" r="1.0" fill="rgb(72,72,72)"/><circle cx="111.1" cy="129.8" r="0.4" fill="rgb(12,37,12)"/><circle cx="144.1" cy="52.2" r="0.6" fill="rgb(15,46,15)"/><circle cx="189.7" cy="133.4" r="0.9" fill="rgb(10,31,10)"/><circle cx="163.1" cy="192.0" r="0.9" fill="rgb(67,67,67)"/><circle cx="147.0" cy="267.3" r="0.7" fill="rgb(11,35,11)"/><circle cx="190.1" cy="179.7" r="0.8" fill="rgb(18,56,18)"/><circle cx="118.8" cy="129.0" r="0.7" fill="rgb(19,58,19)"/><circle cx="173.9" cy="96.1" r="1.2" fill="rgb(22,67,22)"/><circle cx="247.1" cy="33.9" r="1.1" fill="rgb(62,62,62)"/><circle cx="215.3" cy="131.7" r="1.0" fill="rgb(9,28,9)"/><circle cx="247.3" cy="39.8" r="1.3" fill="rgb(45,45,45)"/><circle cx="260.9" cy="84.3" r="1.0" fill="rgb(41,41,41)"/><circle cx="52.6" cy="52.2" r="1.1" fill="rgb(54,54,54)"/><circle cx="311.1" cy="236.1" r="0.9" fill="rgb(32,32,32)"/><circle cx="212.9" cy="143.7" r="0.6" fill="rgb(9,28,9)"/><circle cx="186.3" cy="58.8" r="0.8" fill="rgb(22,67,22)"/><circle cx="166.2" cy="94.1" r="0.9" fill="rgb(17,51,17)"/><circle cx="255.5" cy="162.9" r="1.3" fill="rgb(14,43,14)"/><circle cx="75.7" cy="150.2" r="0.9" fill="rgb(14,44,14)"/><circle cx="213.1" cy="119.0" r="0.6" fill="rgb(22,68,22)"/><circle cx="196.5" cy="178.5" r="1.0" fill="rgb(73,73,73)"/><circle cx="92.6" cy="90.7" r="1.3" fill="rgb(12,37,12)"/><circle cx="50.9" cy="42.6" r="0.6" fill="rgb(52,52,52)"/><circle cx="212.7" cy="53.2" r="0.9" fill="rgb(29,29,29)"/><circle cx="292.9" cy="68.2" r="0.6" fill="rgb(16,48,16)"/><circle cx="172.6" cy="80.9" r="0.7" fill="rgb(72,72,72)"/><circle cx="272.3" cy="46.0" r="0.5" fill="rgb(64,64,64)"/><circle cx="163.1" cy="218.3" r="0.8" fill="rgb(11,34,11)"/><circle cx="82.5" cy="241.1" r="0.9" fill="rgb(14,43,14)"/><circle cx="250.2" cy="238.5" r="0.6" fill="rgb(22,66,22)"/><circle cx="200.8" cy="145.3" r="0.7" fill="rgb(59,59,59)"/><circle cx="159.7" cy="172.4" r="1.1" fill="rgb(18,54,18)"/><circle cx="268.1" cy="29.4" r="0.7" fill="rgb(22,67,22)"/><circle cx="62.6" cy="104.8" r="1.1" fill="rgb(23,69,23)"/><circle cx="118.4" cy="63.6" r="0.7" fill="rgb(23,71,23)"/><circle cx="141.5" cy="57.0" r="1.0" fill="rgb(20,61,20)"/><circle cx="294.4" cy="267.6" r="1.2" fill="rgb(17,53,17)"/><circle cx="262.4" cy="105.0" r="0.7" fill="rgb(16,50,16)"/><circle cx="287.8" cy="90.6" r="0.7" fill="rgb(48,48,48)"/><circle cx="140.6" cy="128.3" r="0.7" fill="rgb(12,37,12)"/><circle cx="196.2" cy="231.1" r="0.9" fill="rgb(20,62,20)"/><circle cx="89.1" cy="50.0" r="0.8" fill="rgb(43,43,43)"/><circle cx="101.3" cy="41.8" r="0.5" fill="rgb(43,43,43)"/><circle cx="220.4" cy="232.9" r="0.5" fill="rgb(19,59,19)"/><circle cx="258.3" cy="48.5" r="0.5" fill="rgb(72,72,72)"/><circle cx="289.0" cy="48.7" r="1.0" fill="rgb(34,34,34)"/><circle cx="246.6" cy="193.1" r="0.6" fill="rgb(13,39,13)"/><circle cx="252.0" cy="160.5" r="1.1" fill="rgb(16,50,16)"/><circle cx="133.6" cy="274.9" r="1.0" fill="rgb(18,56,18)"/><circle cx="188.8" cy="211.6" r="1.0" fill="rgb(9,27,9)"/><circle cx="249.7" cy="279.3" r="0.7" fill="rgb(8,25,8)"/><circle cx="271.0" cy="254.5" r="1.3" fill="rgb(65,65,65)"/><circle cx="185.1" cy="208.8" r="1.1" fill="rgb(17,51,17)"/><circle cx="293.6" cy="89.9" r="0.5" fill="rgb(21,65,21)"/><circle cx="229.5" cy="109.1" r="0.8" fill="rgb(19,58,19)"/><circle cx="115.9" cy="253.8" r="0.8" fill="rgb(71,71,71)"/><circle cx="124.1" cy="66.8" r="1.2" fill="rgb(9,28,9)"/><circle cx="44.8" cy="150.2" r="1.1" fill="rgb(45,45,45)"/><circle cx="94.7" cy="119.0" r="0.9" fill="rgb(21,63,21)"/><circle cx="170.7" cy="157.2" r="0.8" fill="rgb(14,42,14)"/><circle cx="87.8" cy="220.9" r="0.7" fill="rgb(20,60,20)"/><circle cx="172.8" cy="93.7" r="1.2" fill="rgb(15,46,15)"/><circle cx="191.6" cy="272.0" r="0.8" fill="rgb(13,39,13)"/><circle cx="53.8" cy="269.6" r="1.1" fill="rgb(16,49,16)"/><circle cx="260.1" cy="225.2" r="1.1" fill="rgb(9,28,9)"/><circle cx="296.0" cy="255.4" r="1.2" fill="rgb(16,48,16)"/><circle cx="260.7" cy="209.6" r="0.9" fill="rgb(11,35,11)"/><circle cx="83.5" cy="109.4" r="0.6" fill="rgb(58,58,58)"/><circle cx="216.4" cy="281.2" r="0.6" fill="rgb(59,59,59)"/><circle cx="81.7" cy="224.2" r="0.4" fill="rgb(34,34,34)"/><circle cx="62.8" cy="96.1" r="1.0" fill="rgb(10,31,10)"/><circle cx="232.2" cy="48.2" r="1.1" fill="rgb(19,59,19)"/><circle cx="124.1" cy="229.1" r="0.8" fill="rgb(68,68,68)"/><circle cx="256.5" cy="139.7" r="0.4" fill="rgb(17,51,17)"/><circle cx="176.9" cy="269.3" r="1.3" fill="rgb(15,45,15)"/><circle cx="152.3" cy="169.4" r="1.3" fill="rgb(22,67,22)"/><circle cx="58.6" cy="46.0" r="0.5" fill="rgb(22,67,22)"/><circle cx="227.2" cy="218.1" r="1.1" fill="rgb(10,32,10)"/><circle cx="163.4" cy="248.1" r="1.0" fill="rgb(55,55,55)"/><circle cx="121.3" cy="56.0" r="1.1" fill="rgb(71,71,71)"/><circle cx="289.7" cy="65.9" r="1.0" fill="rgb(19,59,19)"/><circle cx="122.6" cy="113.4" r="0.8" fill="rgb(67,67,67)"/><circle cx="111.0" cy="78.2" r="1.1" fill="rgb(15,46,15)"/><circle cx="301.8" cy="171.1" r="1.1" fill="rgb(15,46,15)"/><circle cx="269.0" cy="50.6" r="0.5" fill="rgb(31,31,31)"/><circle cx="227.7" cy="208.3" r="0.6" fill="rgb(50,50,50)"/><circle cx="271.8" cy="178.7" r="0.5" fill="rgb(39,39,39)"/><circle cx="83.5" cy="58.8" r="0.8" fill="rgb(9,29,9)"/><circle cx="295.0" cy="136.3" r="0.9" fill="rgb(66,66,66)"/><circle cx="252.4" cy="237.2" r="0.7" fill="rgb(15,46,15)"/><circle cx="212.6" cy="213.1" r="1.0" fill="rgb(45,45,45)"/><circle cx="222.9" cy="182.8" r="0.4" fill="rgb(46,46,46)"/><circle cx="134.8" cy="193.6" r="0.5" fill="rgb(49,49,49)"/><circle cx="181.1" cy="228.9" r="1.1" fill="rgb(21,64,21)"/><circle cx="83.9" cy="223.2" r="1.2" fill="rgb(60,60,60)"/><circle cx="137.7" cy="155.1" r="0.5" fill="rgb(70,70,70)"/><circle cx="313.3" cy="159.1" r="1.0" fill="rgb(12,37,12)"/><circle cx="301.7" cy="187.5" r="0.6" fill="rgb(30,30,30)"/><circle cx="107.8" cy="174.6" r="1.0" fill="rgb(46,46,46)"/><circle cx="297.3" cy="119.5" r="0.8" fill="rgb(10,32,10)"/><circle cx="309.7" cy="61.7" r="1.2" fill="rgb(19,59,19)"/><circle cx="195.3" cy="170.4" r="0.6" fill="rgb(24,72,24)"/><circle cx="206.6" cy="58.4" r="1.1" fill="rgb(14,43,14)"/><circle cx="288.5" cy="88.7" r="0.9" fill="rgb(35,35,35)"/><circle cx="205.5" cy="234.7" r="0.8" fill="rgb(50,50,50)"/><circle cx="256.8" cy="265.1" r="1.3" fill="rgb(11,33,11)"/><circle cx="249.4" cy="243.9" r="1.2" fill="rgb(21,64,21)"/><circle cx="217.4" cy="222.4" r="0.5" fill="rgb(17,51,17)"/><circle cx="49.2" cy="162.1" r="0.5" fill="rgb(50,50,50)"/><circle cx="133.1" cy="60.7" r="0.6" fill="rgb(46,46,46)"/><circle cx="217.8" cy="36.7" r="1.0" fill="rgb(11,34,11)"/><circle cx="305.7" cy="180.6" r="0.8" fill="rgb(17,51,17)"/><circle cx="292.9" cy="171.6" r="0.8" fill="rgb(14,43,14)"/><circle cx="286.3" cy="145.7" r="1.2" fill="rgb(23,69,23)"/><circle cx="268.6" cy="57.0" r="0.5" fill="rgb(19,58,19)"/><circle cx="185.4" cy="137.6" r="1.2" fill="rgb(45,45,45)"/><circle cx="122.0" cy="184.7" r="0.8" fill="rgb(16,49,16)"/><circle cx="129.2" cy="229.1" r="1.2" fill="rgb(29,29,29)"/><circle cx="74.5" cy="141.4" r="0.9" fill="rgb(50,50,50)"/><circle cx="171.8" cy="54.0" r="1.2" fill="rgb(19,59,19)"/><circle cx="221.9" cy="267.7" r="1.2" fill="rgb(23,71,23)"/><circle cx="142.1" cy="166.8" r="0.9" fill="rgb(35,35,35)"/><circle cx="219.9" cy="134.9" r="0.5" fill="rgb(29,29,29)"/><circle cx="183.9" cy="60.3" r="1.2" fill="rgb(20,61,20)"/><circle cx="40.2" cy="89.4" r="0.7" fill="rgb(45,45,45)"/><circle cx="57.3" cy="256.2" r="1.1" fill="rgb(50,50,50)"/><circle cx="138.7" cy="176.9" r="0.4" fill="rgb(8,26,8)"/><circle cx="288.9" cy="105.8" r="0.8" fill="rgb(24,74,24)"/><circle cx="283.4" cy="78.9" r="1.2" fill="rgb(69,69,69)"/><circle cx="94.2" cy="241.5" r="0.7" fill="rgb(55,55,55)"/><circle cx="87.6" cy="252.2" r="1.3" fill="rgb(12,37,12)"/><circle cx="215.2" cy="76.0" r="1.2" fill="rgb(9,28,9)"/><circle cx="69.4" cy="212.8" r="0.7" fill="rgb(14,42,14)"/><circle cx="237.5" cy="61.5" r="1.0" fill="rgb(24,74,24)"/><circle cx="155.0" cy="70.4" r="1.2" fill="rgb(10,32,10)"/><circle cx="231.4" cy="95.9" r="1.0" fill="rgb(19,57,19)"/><circle cx="121.8" cy="97.0" r="1.1" fill="rgb(58,58,58)"/><circle cx="203.4" cy="85.6" r="0.7" fill="rgb(12,36,12)"/><circle cx="102.6" cy="60.9" r="1.0" fill="rgb(54,54,54)"/><circle cx="162.0" cy="162.2" r="0.9" fill="rgb(27,27,27)"/><circle cx="206.1" cy="99.8" r="0.6" fill="rgb(61,61,61)"/><circle cx="85.6" cy="280.0" r="0.6" fill="rgb(12,36,12)"/><circle cx="243.4" cy="34.4" r="1.1" fill="rgb(34,34,34)"/><circle cx="212.3" cy="261.6" r="0.9" fill="rgb(8,25,8)"/><circle cx="56.7" cy="43.4" r="1.1" fill="rgb(16,48,16)"/><circle cx="222.3" cy="227.4" r="0.9" fill="rgb(19,57,19)"/><circle cx="229.5" cy="160.3" r="1.3" fill="rgb(12,36,12)"/><circle cx="256.0" cy="69.3" r="0.9" fill="rgb(13,40,13)"/><circle cx="162.0" cy="224.9" r="1.1" fill="rgb(25,75,25)"/><circle cx="105.4" cy="152.2" r="0.6" fill="rgb(20,62,20)"/><circle cx="178.2" cy="36.0" r="0.9" fill="rgb(70,70,70)"/><circle cx="198.6" cy="250.5" r="0.6" fill="rgb(11,34,11)"/><circle cx="44.9" cy="154.0" r="0.8" fill="rgb(17,53,17)"/><circle cx="112.8" cy="231.4" r="0.5" fill="rgb(12,36,12)"/><circle cx="217.2" cy="175.3" r="1.0" fill="rgb(64,64,64)"/><circle cx="55.0" cy="135.9" r="1.0" fill="rgb(21,64,21)"/><circle cx="185.6" cy="94.8" r="0.9" fill="rgb(10,30,10)"/><circle cx="267.3" cy="70.9" r="0.6" fill="rgb(11,35,11)"/><circle cx="231.3" cy="239.7" r="1.1" fill="rgb(9,28,9)"/><circle cx="153.7" cy="120.3" r="0.6" fill="rgb(27,27,27)"/><circle cx="175.6" cy="221.9" r="1.3" fill="rgb(11,34,11)"/><circle cx="166.1" cy="217.7" r="0.4" fill="rgb(13,40,13)"/><circle cx="286.6" cy="63.2" r="0.8" fill="rgb(14,44,14)"/><circle cx="157.6" cy="46.6" r="0.4" fill="rgb(23,70,23)"/><circle cx="209.6" cy="102.7" r="0.5" fill="rgb(13,40,13)"/><circle cx="167.9" cy="265.7" r="0.7" fill="rgb(15,46,15)"/><circle cx="100.5" cy="68.1" r="0.9" fill="rgb(9,28,9)"/><circle cx="135.1" cy="204.8" r="1.2" fill="rgb(62,62,62)"/><circle cx="168.1" cy="127.6" r="1.2" fill="rgb(16,49,16)"/><circle cx="256.4" cy="82.1" r="0.7" fill="rgb(12,36,12)"/><circle cx="262.8" cy="149.9" r="0.8" fill="rgb(21,63,21)"/><circle cx="250.4" cy="148.0" r="0.8" fill="rgb(21,65,21)"/><circle cx="90.3" cy="151.7" r="0.9" fill="rgb(51,51,51)"/><circle cx="53.1" cy="97.8" r="1.3" fill="rgb(64,64,64)"/><circle cx="183.7" cy="216.9" r="0.9" fill="rgb(20,61,20)"/><circle cx="238.1" cy="95.8" r="0.7" fill="rgb(11,34,11)"/><circle cx="299.4" cy="119.1" r="1.1" fill="rgb(71,71,71)"/><circle cx="45.7" cy="109.5" r="0.7" fill="rgb(10,30,10)"/><circle cx="130.1" cy="224.3" r="0.9" fill="rgb(9,28,9)"/><circle cx="149.1" cy="88.0" r="0.4" fill="rgb(11,34,11)"/><circle cx="204.9" cy="35.1" r="0.7" fill="rgb(17,52,17)"/><circle cx="190.7" cy="61.8" r="1.0" fill="rgb(13,41,13)"/><circle cx="241.0" cy="197.5" r="0.5" fill="rgb(12,38,12)"/><circle cx="188.2" cy="142.0" r="0.5" fill="rgb(19,58,19)"/><circle cx="102.6" cy="101.8" r="0.7" fill="rgb(38,38,38)"/><circle cx="51.3" cy="33.3" r="1.0" fill="rgb(61,61,61)"/><circle cx="264.0" cy="276.8" r="0.7" fill="rgb(67,67,67)"/><circle cx="294.6" cy="82.3" r="1.0" fill="rgb(67,67,67)"/><circle cx="304.6" cy="249.3" r="0.6" fill="rgb(21,65,21)"/><circle cx="64.9" cy="136.5" r="0.8" fill="rgb(9,28,9)"/><circle cx="146.2" cy="111.0" r="0.8" fill="rgb(42,42,42)"/><circle cx="83.9" cy="130.0" r="0.8" fill="rgb(11,35,11)"/><circle cx="224.3" cy="88.4" r="0.5" fill="rgb(15,46,15)"/><circle cx="262.8" cy="149.4" r="0.6" fill="rgb(20,60,20)"/><circle cx="234.0" cy="32.9" r="0.8" fill="rgb(48,48,48)"/><circle cx="292.7" cy="96.6" r="0.7" fill="rgb(20,62,20)"/><circle cx="169.9" cy="110.3" r="0.6" fill="rgb(26,26,26)"/><circle cx="136.1" cy="255.3" r="0.9" fill="rgb(13,41,13)"/><circle cx="285.7" cy="191.4" r="0.7" fill="rgb(15,46,15)"/><circle cx="48.6" cy="208.1" r="0.6" fill="rgb(9,29,9)"/><circle cx="53.2" cy="166.0" r="1.0" fill="rgb(9,29,9)"/><circle cx="58.9" cy="145.8" r="0.8" fill="rgb(49,49,49)"/><circle cx="262.7" cy="202.0" r="0.6" fill="rgb(18,56,18)"/><circle cx="171.0" cy="32.4" r="0.9" fill="rgb(42,42,42)"/><circle cx="111.5" cy="83.3" r="0.9" fill="rgb(19,59,19)"/><circle cx="41.0" cy="167.0" r="1.2" fill="rgb(24,73,24)"/><circle cx="61.9" cy="237.8" r="1.2" fill="rgb(23,69,23)"/><circle cx="113.1" cy="53.6" r="0.4" fill="rgb(70,70,70)"/><circle cx="232.6" cy="202.8" r="1.3" fill="rgb(35,35,35)"/><circle cx="132.3" cy="203.5" r="1.1" fill="rgb(14,43,14)"/><circle cx="154.9" cy="120.9" r="1.0" fill="rgb(56,56,56)"/><circle cx="219.0" cy="119.7" r="1.0" fill="rgb(19,57,19)"/><circle cx="74.9" cy="43.2" r="0.5" fill="rgb(10,31,10)"/><circle cx="125.9" cy="244.3" r="0.9" fill="rgb(22,68,22)"/><circle cx="51.2" cy="186.1" r="0.8" fill="rgb(55,55,55)"/><circle cx="135.5" cy="128.7" r="1.1" fill="rgb(23,69,23)"/><circle cx="110.1" cy="189.5" r="0.7" fill="rgb(22,68,22)"/><circle cx="90.9" cy="246.1" r="0.6" fill="rgb(61,61,61)"/><circle cx="197.2" cy="134.7" r="1.0" fill="rgb(21,64,21)"/><circle cx="270.2" cy="232.1" r="0.5" fill="rgb(16,49,16)"/><circle cx="225.4" cy="86.1" r="0.6" fill="rgb(8,25,8)"/><circle cx="202.2" cy="267.9" r="1.3" fill="rgb(11,33,11)"/><circle cx="230.5" cy="134.3" r="1.0" fill="rgb(16,50,16)"/><circle cx="298.5" cy="280.1" r="0.4" fill="rgb(70,70,70)"/><circle cx="281.2" cy="76.6" r="0.7" fill="rgb(59,59,59)"/><circle cx="152.1" cy="258.6" r="1.1" fill="rgb(55,55,55)"/><circle cx="143.4" cy="106.2" r="1.1" fill="rgb(22,66,22)"/><circle cx="102.0" cy="211.8" r="0.8" fill="rgb(11,34,11)"/><circle cx="147.8" cy="204.7" r="0.9" fill="rgb(11,34,11)"/><circle cx="88.5" cy="54.4" r="1.2" fill="rgb(13,41,13)"/><circle cx="159.8" cy="65.9" r="1.2" fill="rgb(14,42,14)"/><circle cx="197.6" cy="97.1" r="0.8" fill="rgb(45,45,45)"/><circle cx="62.4" cy="78.5" r="0.9" fill="rgb(60,60,60)"/><circle cx="82.0" cy="28.8" r="1.1" fill="rgb(67,67,67)"/><circle cx="41.1" cy="113.1" r="0.5" fill="rgb(75,75,75)"/><circle cx="314.7" cy="131.6" r="0.4" fill="rgb(15,47,15)"/><circle cx="149.7" cy="41.8" r="0.9" fill="rgb(22,67,22)"/><circle cx="109.9" cy="75.3" r="0.7" fill="rgb(13,40,13)"/><circle cx="198.2" cy="267.8" r="0.4" fill="rgb(26,26,26)"/><circle cx="189.3" cy="199.8" r="0.6" fill="rgb(8,26,8)"/><circle cx="125.9" cy="158.6" r="0.4" fill="rgb(38,38,38)"/><circle cx="305.7" cy="29.8" r="0.9" fill="rgb(13,40,13)"/><circle cx="177.1" cy="105.8" r="0.9" fill="rgb(67,67,67)"/><circle cx="299.3" cy="150.4" r="1.2" fill="rgb(17,51,17)"/><circle cx="289.0" cy="186.7" r="0.4" fill="rgb(34,34,34)"/><circle cx="129.6" cy="212.4" r="0.9" fill="rgb(14,42,14)"/><circle cx="213.7" cy="142.1" r="0.7" fill="rgb(9,29,9)"/><circle cx="129.1" cy="51.1" r="0.7" fill="rgb(72,72,72)"/><circle cx="98.5" cy="217.3" r="0.9" fill="rgb(68,68,68)"/><circle cx="89.1" cy="54.1" r="0.5" fill="rgb(47,47,47)"/><circle cx="159.3" cy="29.4" r="0.9" fill="rgb(50,50,50)"/><circle cx="129.1" cy="164.5" r="1.3" fill="rgb(38,38,38)"/><circle cx="283.9" cy="109.1" r="1.1" fill="rgb(10,31,10)"/><circle cx="313.5" cy="137.1" r="1.3" fill="rgb(13,39,13)"/><circle cx="153.1" cy="207.7" r="0.6" fill="rgb(42,42,42)"/><circle cx="227.6" cy="269.6" r="0.7" fill="rgb(12,36,12)"/><circle cx="185.4" cy="29.6" r="1.1" fill="rgb(22,67,22)"/><circle cx="292.4" cy="41.2" r="1.0" fill="rgb(15,47,15)"/><circle cx="277.2" cy="187.9" r="0.9" fill="rgb(61,61,61)"/><circle cx="73.6" cy="216.1" r="1.1" fill="rgb(17,52,17)"/><circle cx="169.4" cy="241.2" r="0.9" fill="rgb(16,49,16)"/><circle cx="189.9" cy="37.9" r="1.2" fill="rgb(19,58,19)"/><circle cx="165.1" cy="99.7" r="0.4" fill="rgb(9,28,9)"/><circle cx="82.1" cy="147.0" r="1.3" fill="rgb(24,72,24)"/><circle cx="126.7" cy="215.6" r="1.3" fill="rgb(50,50,50)"/><circle cx="280.3" cy="59.4" r="1.3" fill="rgb(56,56,56)"/><circle cx="104.9" cy="242.1" r="1.0" fill="rgb(34,34,34)"/><circle cx="261.0" cy="158.0" r="1.3" fill="rgb(29,29,29)"/><circle cx="281.0" cy="209.2" r="0.6" fill="rgb(15,47,15)"/><circle cx="97.5" cy="30.7" r="0.8" fill="rgb(18,56,18)"/><circle cx="306.4" cy="88.1" r="0.5" fill="rgb(17,53,17)"/><circle cx="282.9" cy="45.5" r="0.8" fill="rgb(9,28,9)"/><circle cx="309.4" cy="43.8" r="1.2" fill="rgb(48,48,48)"/><circle cx="67.8" cy="36.4" r="0.7" fill="rgb(13,39,13)"/><circle cx="72.5" cy="73.5" r="0.7" fill="rgb(22,68,22)"/><circle cx="169.0" cy="152.2" r="0.5" fill="rgb(66,66,66)"/><circle cx="187.4" cy="108.0" r="1.3" fill="rgb(12,37,12)"/><circle cx="225.1" cy="137.3" r="0.4" fill="rgb(15,46,15)"/><circle cx="127.3" cy="188.2" r="0.7" fill="rgb(63,63,63)"/><circle cx="232.5" cy="73.3" r="0.5" fill="rgb(23,69,23)"/><circle cx="169.2" cy="60.1" r="0.5" fill="rgb(15,47,15)"/><circle cx="212.5" cy="105.7" r="0.4" fill="rgb(9,29,9)"/><circle cx="96.9" cy="210.7" r="1.2" fill="rgb(24,74,24)"/><circle cx="95.5" cy="45.3" r="0.6" fill="rgb(16,48,16)"/><circle cx="153.3" cy="143.9" r="0.9" fill="rgb(10,31,10)"/><circle cx="182.3" cy="134.0" r="0.8" fill="rgb(10,32,10)"/><circle cx="74.1" cy="251.5" r="1.3" fill="rgb(10,30,10)"/><circle cx="219.6" cy="84.8" r="0.8" fill="rgb(12,37,12)"/><circle cx="154.7" cy="83.4" r="1.0" fill="rgb(16,48,16)"/><circle cx="132.3" cy="176.6" r="1.0" fill="rgb(14,42,14)"/><circle cx="223.3" cy="30.2" r="0.9" fill="rgb(8,25,8)"/><circle cx="143.8" cy="178.9" r="1.2" fill="rgb(16,49,16)"/><circle cx="117.1" cy="53.1" r="1.2" fill="rgb(24,74,24)"/><circle cx="68.9" cy="195.3" r="0.8" fill="rgb(38,38,38)"/><circle cx="258.9" cy="31.1" r="0.4" fill="rgb(20,62,20)"/><circle cx="233.2" cy="280.4" r="1.1" fill="rgb(8,26,8)"/><circle cx="215.3" cy="147.1" r="0.7" fill="rgb(18,54,18)"/><circle cx="127.5" cy="198.7" r="0.9" fill="rgb(39,39,39)"/><circle cx="315.0" cy="128.2" r="1.1" fill="rgb(22,66,22)"/><circle cx="234.2" cy="282.4" r="0.5" fill="rgb(18,54,18)"/><circle cx="151.2" cy="195.0" r="0.6" fill="rgb(62,62,62)"/><circle cx="177.8" cy="239.6" r="0.9" fill="rgb(10,31,10)"/><circle cx="260.1" cy="27.9" r="1.3" fill="rgb(23,69,23)"/><circle cx="257.8" cy="259.0" r="1.0" fill="rgb(23,71,23)"/><circle cx="255.0" cy="57.6" r="0.8" fill="rgb(8,26,8)"/><circle cx="278.1" cy="268.8" r="1.2" fill="rgb(26,26,26)"/><circle cx="137.3" cy="164.2" r="0.9" fill="rgb(32,32,32)"/><circle cx="123.5" cy="156.9" r="0.5" fill="rgb(61,61,61)"/><circle cx="75.9" cy="49.6" r="0.9" fill="rgb(14,43,14)"/><circle cx="255.4" cy="90.2" r="0.8" fill="rgb(28,28,28)"/><circle cx="203.1" cy="70.6" r="0.5" fill="rgb(33,33,33)"/><circle cx="264.3" cy="156.0" r="0.5" fill="rgb(20,61,20)"/><circle cx="88.1" cy="185.2" r="1.3" fill="rgb(70,70,70)"/><circle cx="154.5" cy="29.7" r="0.5" fill="rgb(10,32,10)"/><circle cx="244.2" cy="123.4" r="0.7" fill="rgb(64,64,64)"/><circle cx="152.2" cy="153.3" r="1.2" fill="rgb(19,59,19)"/><circle cx="251.2" cy="225.6" r="0.8" fill="rgb(44,44,44)"/><circle cx="99.5" cy="164.4" r="1.0" fill="rgb(17,51,17)"/><circle cx="288.1" cy="79.1" r="1.3" fill="rgb(60,60,60)"/><circle cx="197.3" cy="155.2" r="1.2" fill="rgb(16,50,16)"/><circle cx="122.9" cy="216.3" r="0.6" fill="rgb(48,48,48)"/><circle cx="158.9" cy="149.1" r="0.7" fill="rgb(17,52,17)"/><circle cx="164.9" cy="39.7" r="1.2" fill="rgb(28,28,28)"/><circle cx="186.2" cy="167.2" r="0.8" fill="rgb(13,39,13)"/><circle cx="67.5" cy="122.2" r="0.7" fill="rgb(55,55,55)"/><circle cx="184.0" cy="161.9" r="1.1" fill="rgb(16,48,16)"/><circle cx="204.3" cy="53.9" r="1.0" fill="rgb(47,47,47)"/><circle cx="141.3" cy="180.1" r="0.7" fill="rgb(44,44,44)"/><circle cx="208.7" cy="177.9" r="0.7" fill="rgb(56,56,56)"/><circle cx="183.0" cy="220.0" r="0.4" fill="rgb(30,30,30)"/><circle cx="109.8" cy="96.2" r="1.1" fill="rgb(17,52,17)"/>
<g fill="#bbb" opacity="0.45"><circle cx="79.0" cy="54.3" r="4.8"/><circle cx="189.2" cy="66.0" r="3.2"/><circle cx="248.6" cy="51.6" r="1.9"/><circle cx="235.9" cy="109.7" r="2.9"/><circle cx="47.9" cy="176.4" r="1.9"/><circle cx="189.2" cy="124.7" r="2.2"/><circle cx="190.8" cy="132.7" r="2.2"/><circle cx="184.5" cy="116.5" r="1.6"/><circle cx="172.1" cy="156.5" r="2.5"/><circle cx="211.5" cy="167.6" r="2.4"/><circle cx="239.9" cy="116.8" r="3.2"/><circle cx="251.8" cy="151.0" r="1.9"/><circle cx="244.7" cy="162.1" r="3.2"/><circle cx="59.1" cy="212.9" r="2.4"/><circle cx="70.2" cy="261.4" r="4.0"/><circle cx="43.2" cy="275.7" r="6.4"/><circle cx="176.5" cy="238.0" r="5.6"/><circle cx="218.6" cy="255.8" r="4.0"/><circle cx="190.8" cy="279.7" r="4.0"/><circle cx="227.2" cy="252.6" r="2.4"/></g>
<circle cx="54.0" cy="28.3" r="4.8" fill="#4fc44c"/><circle cx="71.5" cy="30.5" r="4.0" fill="#4fc44c"/><circle cx="62.6" cy="28.3" r="2.9" fill="#235c24"/><circle cx="66.2" cy="37.3" r="3.5" fill="#235c24"/><circle cx="49.9" cy="44.8" r="3.2" fill="#4fc44c"/><circle cx="55.4" cy="42.1" r="1.7" fill="#4fc44c"/><circle cx="79.7" cy="41.6" r="3.8" fill="#235c24"/><circle cx="100.4" cy="36.5" r="6.0" fill="#235c24"/><circle cx="101.7" cy="46.4" r="3.2" fill="#4fc44c"/><circle cx="56.2" cy="54.8" r="2.5" fill="#4fc44c"/><circle cx="47.6" cy="58.8" r="2.7" fill="#235c24"/><circle cx="41.0" cy="55.9" r="1.9" fill="#4fc44c"/><circle cx="73.1" cy="62.0" r="4.8" fill="#235c24"/><circle cx="77.8" cy="55.3" r="2.2" fill="#4fc44c"/><circle cx="90.6" cy="53.7" r="2.5" fill="#235c24"/><circle cx="102.8" cy="56.4" r="1.9" fill="#4fc44c"/><circle cx="116.3" cy="51.2" r="2.2" fill="#4fc44c"/><circle cx="122.7" cy="52.4" r="2.2" fill="#4fc44c"/><circle cx="121.9" cy="46.1" r="1.6" fill="#4fc44c"/><circle cx="113.9" cy="63.9" r="2.2" fill="#235c24"/><circle cx="105.2" cy="72.3" r="4.8" fill="#235c24"/><circle cx="116.3" cy="75.5" r="3.5" fill="#3a9a3a"/><circle cx="63.8" cy="76.0" r="4.0" fill="#4fc44c"/><circle cx="49.9" cy="78.7" r="4.5" fill="#235c24"/><circle cx="59.4" cy="81.8" r="2.2" fill="#4fc44c"/><circle cx="78.2" cy="81.8" r="2.9" fill="#235c24"/><circle cx="96.4" cy="83.9" r="5.1" fill="#4fc44c"/><circle cx="124.3" cy="80.3" r="2.2" fill="#4fc44c"/><circle cx="70.2" cy="89.8" r="3.8" fill="#235c24"/><circle cx="102.8" cy="88.2" r="2.2" fill="#235c24"/><circle cx="58.3" cy="96.2" r="2.9" fill="#4fc44c"/><circle cx="43.2" cy="98.9" r="2.1" fill="#4fc44c"/><circle cx="47.9" cy="101.7" r="1.9" fill="#4fc44c"/><circle cx="55.9" cy="103.0" r="2.4" fill="#235c24"/><circle cx="103.6" cy="97.7" r="4.8" fill="#235c24"/><circle cx="79.7" cy="95.4" r="2.4" fill="#235c24"/><circle cx="86.1" cy="104.1" r="1.9" fill="#4fc44c"/><circle cx="77.4" cy="109.7" r="3.2" fill="#4fc44c"/><circle cx="96.4" cy="109.7" r="3.5" fill="#4fc44c"/><circle cx="117.1" cy="110.5" r="3.8" fill="#4fc44c"/><circle cx="71.8" cy="112.1" r="4.5" fill="#235c24"/><circle cx="122.7" cy="104.9" r="1.6" fill="#4fc44c"/><circle cx="129.0" cy="42.9" r="2.4" fill="#235c24"/><circle cx="82.9" cy="68.3" r="1.9" fill="#235c24"/><circle cx="170.2" cy="28.9" r="3.5" fill="#4fc44c"/><circle cx="202.0" cy="28.9" r="4.0" fill="#4fc44c"/><circle cx="154.3" cy="33.0" r="4.0" fill="#4fc44c"/><circle cx="149.2" cy="38.9" r="2.9" fill="#4fc44c"/><circle cx="134.4" cy="44.8" r="1.9" fill="#4fc44c"/><circle cx="139.2" cy="50.5" r="4.0" fill="#4fc44c"/><circle cx="163.0" cy="36.9" r="1.9" fill="#235c24"/><circle cx="203.5" cy="41.3" r="1.9" fill="#4fc44c"/><circle cx="214.7" cy="37.8" r="2.4" fill="#4fc44c"/><circle cx="182.9" cy="46.9" r="2.7" fill="#4fc44c"/><circle cx="202.0" cy="48.0" r="3.2" fill="#4fc44c"/><circle cx="149.2" cy="55.9" r="2.4" fill="#4fc44c"/><circle cx="160.6" cy="56.4" r="1.9" fill="#4fc44c"/><circle cx="178.1" cy="60.1" r="2.1" fill="#4fc44c"/><circle cx="198.0" cy="60.7" r="2.4" fill="#4fc44c"/><circle cx="211.5" cy="61.2" r="2.1" fill="#4fc44c"/><circle cx="164.6" cy="73.9" r="2.4" fill="#4fc44c"/><circle cx="171.7" cy="74.4" r="2.9" fill="#4fc44c"/><circle cx="177.8" cy="71.2" r="2.4" fill="#4fc44c"/><circle cx="174.1" cy="89.0" r="4.8" fill="#3a9a3a"/><circle cx="194.8" cy="97.7" r="4.0" fill="#4fc44c"/><circle cx="156.6" cy="96.6" r="3.5" fill="#4fc44c"/><circle cx="151.1" cy="97.0" r="2.2" fill="#4fc44c"/><circle cx="211.5" cy="100.9" r="2.4" fill="#4fc44c"/><circle cx="174.9" cy="100.4" r="2.9" fill="#4fc44c"/><circle cx="164.6" cy="102.0" r="2.2" fill="#4fc44c"/><circle cx="167.8" cy="106.5" r="2.2" fill="#4fc44c"/><circle cx="197.2" cy="111.3" r="3.2" fill="#4fc44c"/><circle cx="223.4" cy="100.1" r="2.4" fill="#4fc44c"/><circle cx="210.7" cy="85.0" r="1.3" fill="#4fc44c"/><circle cx="229.6" cy="34.2" r="4.0" fill="#4fc44c"/><circle cx="263.4" cy="28.6" r="2.4" fill="#4fc44c"/><circle cx="274.9" cy="32.6" r="3.5" fill="#4fc44c"/><circle cx="305.9" cy="29.9" r="4.8" fill="#4fc44c"/><circle cx="311.4" cy="38.9" r="6.0" fill="#235c24"/><circle cx="240.7" cy="39.7" r="2.4" fill="#4fc44c"/><circle cx="250.2" cy="43.7" r="2.4" fill="#235c24"/><circle cx="235.1" cy="48.5" r="3.2" fill="#4fc44c"/><circle cx="266.1" cy="52.4" r="3.8" fill="#4fc44c"/><circle cx="279.3" cy="46.9" r="2.5" fill="#4fc44c"/><circle cx="291.6" cy="46.4" r="2.4" fill="#4fc44c"/><circle cx="303.5" cy="46.9" r="3.5" fill="#4fc44c"/><circle cx="282.8" cy="59.9" r="5.6" fill="#235c24"/><circle cx="298.7" cy="61.2" r="2.9" fill="#4fc44c"/><circle cx="292.4" cy="57.2" r="2.4" fill="#235c24"/><circle cx="250.2" cy="61.2" r="2.4" fill="#4fc44c"/><circle cx="254.2" cy="64.4" r="2.4" fill="#235c24"/><circle cx="273.3" cy="66.0" r="2.9" fill="#4fc44c"/><circle cx="290.8" cy="67.5" r="4.0" fill="#235c24"/><circle cx="309.9" cy="62.0" r="2.4" fill="#4fc44c"/><circle cx="241.2" cy="72.3" r="6.0" fill="#4fc44c"/><circle cx="284.4" cy="72.8" r="3.5" fill="#4fc44c"/><circle cx="305.9" cy="72.3" r="2.4" fill="#4fc44c"/><circle cx="313.8" cy="70.7" r="2.4" fill="#4fc44c"/><circle cx="293.2" cy="77.9" r="3.2" fill="#4fc44c"/><circle cx="260.6" cy="73.1" r="2.4" fill="#235c24"/><circle cx="255.0" cy="87.4" r="5.6" fill="#235c24"/><circle cx="263.7" cy="82.3" r="3.5" fill="#4fc44c"/><circle cx="271.7" cy="85.5" r="3.5" fill="#4fc44c"/><circle cx="278.8" cy="92.2" r="4.5" fill="#4fc44c"/><circle cx="283.6" cy="100.9" r="5.1" fill="#4fc44c"/><circle cx="295.5" cy="95.4" r="2.9" fill="#4fc44c"/><circle cx="307.5" cy="78.7" r="2.4" fill="#4fc44c"/><circle cx="306.7" cy="100.1" r="2.4" fill="#235c24"/><circle cx="303.5" cy="106.5" r="2.4" fill="#4fc44c"/><circle cx="255.8" cy="107.3" r="3.5" fill="#4fc44c"/><circle cx="226.4" cy="100.9" r="3.2" fill="#4fc44c"/><circle cx="227.2" cy="92.2" r="2.4" fill="#4fc44c"/><circle cx="226.4" cy="107.3" r="1.9" fill="#4fc44c"/><circle cx="235.9" cy="83.4" r="1.6" fill="#4fc44c"/><circle cx="71.0" cy="116.5" r="4.8" fill="#235c24"/><circle cx="63.5" cy="121.2" r="2.9" fill="#4fc44c"/><circle cx="79.0" cy="122.8" r="2.2" fill="#4fc44c"/><circle cx="91.7" cy="124.4" r="2.5" fill="#4fc44c"/><circle cx="114.7" cy="123.9" r="5.6" fill="#4fc44c"/><circle cx="102.8" cy="129.8" r="3.2" fill="#4fc44c"/><circle cx="51.1" cy="131.9" r="4.0" fill="#235c24"/><circle cx="58.8" cy="140.9" r="4.8" fill="#235c24"/><circle cx="72.6" cy="131.9" r="1.9" fill="#4fc44c"/><circle cx="118.7" cy="134.3" r="2.9" fill="#4fc44c"/><circle cx="125.9" cy="131.9" r="2.4" fill="#4fc44c"/><circle cx="120.3" cy="143.0" r="4.5" fill="#235c24"/><circle cx="105.2" cy="148.6" r="4.5" fill="#4fc44c"/><circle cx="96.4" cy="148.6" r="3.2" fill="#235c24"/><circle cx="74.2" cy="148.6" r="4.5" fill="#4fc44c"/><circle cx="113.9" cy="139.0" r="2.2" fill="#4fc44c"/><circle cx="106.0" cy="139.0" r="1.6" fill="#4fc44c"/><circle cx="51.1" cy="151.7" r="2.4" fill="#4fc44c"/><circle cx="65.4" cy="151.7" r="3.2" fill="#4fc44c"/><circle cx="59.9" cy="159.7" r="5.1" fill="#235c24"/><circle cx="41.6" cy="159.7" r="3.2" fill="#4fc44c"/><circle cx="129.0" cy="162.1" r="4.8" fill="#4fc44c"/><circle cx="79.0" cy="159.7" r="1.9" fill="#4fc44c"/><circle cx="46.4" cy="166.1" r="3.2" fill="#4fc44c"/><circle cx="69.4" cy="166.8" r="2.9" fill="#4fc44c"/><circle cx="75.0" cy="170.5" r="3.2" fill="#4fc44c"/><circle cx="91.7" cy="169.2" r="3.2" fill="#4fc44c"/><circle cx="98.8" cy="164.5" r="2.9" fill="#4fc44c"/><circle cx="116.3" cy="172.7" r="4.0" fill="#4fc44c"/><circle cx="93.3" cy="176.9" r="4.0" fill="#4fc44c"/><circle cx="79.7" cy="178.8" r="2.9" fill="#4fc44c"/><circle cx="87.7" cy="175.3" r="2.4" fill="#4fc44c"/><circle cx="41.6" cy="176.4" r="3.2" fill="#4fc44c"/><circle cx="65.4" cy="177.2" r="2.4" fill="#235c24"/><circle cx="128.2" cy="177.2" r="3.5" fill="#4fc44c"/><circle cx="114.7" cy="180.4" r="2.4" fill="#4fc44c"/><circle cx="121.1" cy="180.4" r="2.4" fill="#4fc44c"/><circle cx="60.7" cy="189.1" r="6.4" fill="#3a9a3a"/><circle cx="72.6" cy="184.3" r="2.9" fill="#4fc44c"/><circle cx="87.7" cy="185.1" r="2.4" fill="#4fc44c"/><circle cx="97.2" cy="182.0" r="2.4" fill="#4fc44c"/><circle cx="105.2" cy="191.5" r="2.4" fill="#4fc44c"/><circle cx="117.9" cy="195.5" r="4.5" fill="#4fc44c"/><circle cx="130.6" cy="189.9" r="4.0" fill="#4fc44c"/><circle cx="101.2" cy="194.7" r="2.9" fill="#4fc44c"/><circle cx="76.6" cy="193.1" r="2.9" fill="#235c24"/><circle cx="160.3" cy="114.4" r="2.4" fill="#235c24"/><circle cx="140.7" cy="127.1" r="4.0" fill="#4fc44c"/><circle cx="167.0" cy="120.7" r="2.4" fill="#4fc44c"/><circle cx="220.2" cy="116.8" r="3.5" fill="#4fc44c"/><circle cx="198.0" cy="114.4" r="2.4" fill="#4fc44c"/><circle cx="167.8" cy="130.8" r="4.0" fill="#4fc44c"/><circle cx="155.8" cy="132.3" r="2.2" fill="#4fc44c"/><circle cx="143.9" cy="136.6" r="2.9" fill="#235c24"/><circle cx="153.9" cy="137.4" r="1.9" fill="#4fc44c"/><circle cx="163.0" cy="139.8" r="2.4" fill="#4fc44c"/><circle cx="183.7" cy="131.9" r="3.2" fill="#4fc44c"/><circle cx="176.5" cy="140.6" r="4.5" fill="#235c24"/><circle cx="215.5" cy="127.9" r="4.8" fill="#235c24"/><circle cx="205.1" cy="138.7" r="3.5" fill="#235c24"/><circle cx="154.3" cy="151.7" r="2.5" fill="#4fc44c"/><circle cx="162.2" cy="145.4" r="2.4" fill="#4fc44c"/><circle cx="172.5" cy="146.2" r="2.2" fill="#235c24"/><circle cx="178.9" cy="154.1" r="2.9" fill="#235c24"/><circle cx="186.8" cy="157.3" r="2.9" fill="#235c24"/><circle cx="213.9" cy="155.2" r="3.2" fill="#4fc44c"/><circle cx="139.9" cy="156.5" r="2.9" fill="#235c24"/><circle cx="164.6" cy="159.7" r="2.9" fill="#4fc44c"/><circle cx="187.6" cy="162.6" r="1.9" fill="#4fc44c"/><circle cx="193.2" cy="166.8" r="4.5" fill="#235c24"/><circle cx="135.2" cy="169.2" r="3.2" fill="#4fc44c"/><circle cx="159.8" cy="167.6" r="3.5" fill="#235c24"/><circle cx="175.7" cy="172.4" r="3.2" fill="#c048c0"/><circle cx="141.5" cy="174.8" r="2.4" fill="#c048c0"/><circle cx="190.0" cy="172.4" r="3.5" fill="#4fc44c"/><circle cx="195.6" cy="173.2" r="2.4" fill="#235c24"/><circle cx="202.0" cy="178.8" r="2.9" fill="#4fc44c"/><circle cx="214.7" cy="175.6" r="2.9" fill="#235c24"/><circle cx="223.4" cy="182.0" r="4.0" fill="#4fc44c"/><circle cx="207.5" cy="182.7" r="2.4" fill="#4fc44c"/><circle cx="144.7" cy="184.3" r="2.4" fill="#235c24"/><circle cx="160.6" cy="182.0" r="2.4" fill="#235c24"/><circle cx="171.0" cy="181.2" r="2.4" fill="#4fc44c"/><circle cx="192.4" cy="182.0" r="1.9" fill="#4fc44c"/><circle cx="148.7" cy="189.1" r="2.4" fill="#4fc44c"/><circle cx="156.6" cy="189.9" r="2.9" fill="#235c24"/><circle cx="193.2" cy="189.9" r="3.5" fill="#4fc44c"/><circle cx="208.3" cy="193.9" r="3.2" fill="#235c24"/><circle cx="133.6" cy="190.7" r="3.2" fill="#4fc44c"/><circle cx="167.8" cy="196.3" r="2.9" fill="#4fc44c"/><circle cx="184.5" cy="187.5" r="2.4" fill="#235c24"/><circle cx="135.2" cy="196.3" r="2.4" fill="#4fc44c"/><circle cx="226.4" cy="121.5" r="4.0" fill="#235c24"/><circle cx="228.8" cy="126.3" r="2.9" fill="#c048c0"/><circle cx="265.3" cy="116.8" r="1.9" fill="#4fc44c"/><circle cx="274.1" cy="113.9" r="2.2" fill="#4fc44c"/><circle cx="257.4" cy="127.1" r="2.9" fill="#235c24"/><circle cx="239.9" cy="130.3" r="2.4" fill="#4fc44c"/><circle cx="243.9" cy="123.9" r="1.9" fill="#4fc44c"/><circle cx="289.2" cy="114.4" r="1.9" fill="#4fc44c"/><circle cx="304.3" cy="115.5" r="3.2" fill="#4fc44c"/><circle cx="312.2" cy="119.2" r="4.5" fill="#235c24"/><circle cx="296.3" cy="127.1" r="3.2" fill="#4fc44c"/><circle cx="305.1" cy="125.5" r="4.0" fill="#4fc44c"/><circle cx="287.6" cy="131.9" r="5.6" fill="#235c24"/><circle cx="310.6" cy="135.1" r="4.5" fill="#4fc44c"/><circle cx="314.6" cy="140.6" r="2.4" fill="#4fc44c"/><circle cx="259.8" cy="135.8" r="3.2" fill="#4fc44c"/><circle cx="271.7" cy="135.5" r="4.0" fill="#4fc44c"/><circle cx="235.1" cy="137.4" r="4.8" fill="#235c24"/><circle cx="226.4" cy="141.4" r="3.5" fill="#4fc44c"/><circle cx="275.7" cy="146.2" r="2.9" fill="#4fc44c"/><circle cx="286.8" cy="144.6" r="2.9" fill="#4fc44c"/><circle cx="230.4" cy="150.2" r="3.2" fill="#4fc44c"/><circle cx="235.9" cy="153.0" r="3.2" fill="#4fc44c"/><circle cx="247.1" cy="149.8" r="2.4" fill="#4fc44c"/><circle cx="286.0" cy="158.9" r="3.2" fill="#4fc44c"/><circle cx="294.0" cy="162.1" r="3.2" fill="#235c24"/><circle cx="273.3" cy="166.8" r="3.2" fill="#4fc44c"/><circle cx="236.7" cy="170.8" r="3.2" fill="#235c24"/><circle cx="255.8" cy="176.4" r="2.7" fill="#4fc44c"/><circle cx="266.1" cy="173.2" r="3.5" fill="#235c24"/><circle cx="279.6" cy="166.8" r="1.6" fill="#235c24"/><circle cx="291.6" cy="174.8" r="3.5" fill="#4fc44c"/><circle cx="285.2" cy="175.6" r="2.4" fill="#4fc44c"/><circle cx="297.9" cy="171.6" r="1.9" fill="#235c24"/><circle cx="306.7" cy="178.0" r="2.9" fill="#4fc44c"/><circle cx="315.4" cy="179.6" r="2.4" fill="#4fc44c"/><circle cx="226.4" cy="183.5" r="4.5" fill="#4fc44c"/><circle cx="245.5" cy="181.2" r="2.9" fill="#235c24"/><circle cx="270.9" cy="177.5" r="2.4" fill="#4fc44c"/><circle cx="279.6" cy="184.3" r="2.9" fill="#4fc44c"/><circle cx="264.5" cy="182.7" r="2.2" fill="#4fc44c"/><circle cx="286.0" cy="184.8" r="2.2" fill="#4fc44c"/><circle cx="237.5" cy="185.1" r="2.9" fill="#235c24"/><circle cx="230.4" cy="191.5" r="2.4" fill="#4fc44c"/><circle cx="277.3" cy="192.3" r="2.4" fill="#235c24"/><circle cx="292.4" cy="194.7" r="2.9" fill="#4fc44c"/><circle cx="312.2" cy="190.7" r="4.0" fill="#4fc44c"/><circle cx="302.7" cy="186.7" r="2.2" fill="#4fc44c"/><circle cx="47.2" cy="204.2" r="3.5" fill="#4fc44c"/><circle cx="46.4" cy="221.6" r="4.8" fill="#3a9a3a"/><circle cx="56.7" cy="228.8" r="3.2" fill="#4fc44c"/><circle cx="43.2" cy="231.2" r="4.8" fill="#235c24"/><circle cx="87.7" cy="200.2" r="2.4" fill="#4fc44c"/><circle cx="97.2" cy="201.0" r="2.9" fill="#4fc44c"/><circle cx="93.3" cy="217.3" r="5.6" fill="#235c24"/><circle cx="117.1" cy="198.6" r="4.0" fill="#4fc44c"/><circle cx="129.0" cy="201.0" r="4.8" fill="#235c24"/><circle cx="123.5" cy="207.3" r="3.2" fill="#4fc44c"/><circle cx="115.5" cy="209.4" r="2.4" fill="#4fc44c"/><circle cx="114.7" cy="227.2" r="2.7" fill="#4fc44c"/><circle cx="106.0" cy="226.4" r="2.4" fill="#4fc44c"/><circle cx="130.6" cy="229.6" r="3.2" fill="#235c24"/><circle cx="50.0" cy="243.4" r="2.2" fill="#c048c0"/><circle cx="93.3" cy="236.7" r="4.5" fill="#4fc44c"/><circle cx="106.8" cy="243.1" r="5.1" fill="#4fc44c"/><circle cx="120.3" cy="245.5" r="2.9" fill="#4fc44c"/><circle cx="126.6" cy="240.7" r="2.4" fill="#4fc44c"/><circle cx="113.9" cy="238.3" r="2.4" fill="#235c24"/><circle cx="104.4" cy="251.8" r="2.4" fill="#4fc44c"/><circle cx="110.0" cy="251.8" r="2.9" fill="#235c24"/><circle cx="119.5" cy="253.4" r="3.5" fill="#235c24"/><circle cx="111.2" cy="259.8" r="4.5" fill="#4fc44c"/><circle cx="131.4" cy="256.6" r="2.4" fill="#4fc44c"/><circle cx="48.7" cy="254.2" r="3.5" fill="#235c24"/><circle cx="79.7" cy="259.8" r="1.9" fill="#4fc44c"/><circle cx="85.3" cy="269.3" r="2.9" fill="#4fc44c"/><circle cx="94.1" cy="267.7" r="3.2" fill="#4fc44c"/><circle cx="98.8" cy="272.5" r="1.9" fill="#c048c0"/><circle cx="98.8" cy="275.7" r="1.6" fill="#c048c0"/><circle cx="60.7" cy="274.1" r="3.2" fill="#4fc44c"/><circle cx="78.2" cy="273.3" r="2.4" fill="#235c24"/><circle cx="110.0" cy="271.7" r="2.4" fill="#235c24"/><circle cx="49.5" cy="270.9" r="1.9" fill="#4fc44c"/><circle cx="71.8" cy="276.5" r="1.9" fill="#235c24"/><circle cx="85.3" cy="281.3" r="2.4" fill="#235c24"/><circle cx="133.6" cy="202.6" r="6.4" fill="#235c24"/><circle cx="167.0" cy="198.6" r="4.0" fill="#4fc44c"/><circle cx="159.0" cy="210.5" r="3.2" fill="#235c24"/><circle cx="162.2" cy="214.8" r="1.9" fill="#c048c0"/><circle cx="177.3" cy="203.4" r="2.5" fill="#235c24"/><circle cx="182.1" cy="201.0" r="2.5" fill="#235c24"/><circle cx="208.3" cy="199.4" r="3.2" fill="#c048c0"/><circle cx="148.7" cy="213.7" r="2.4" fill="#4fc44c"/><circle cx="160.6" cy="220.8" r="2.9" fill="#4fc44c"/><circle cx="159.8" cy="228.0" r="2.4" fill="#235c24"/><circle cx="190.0" cy="207.8" r="3.2" fill="#235c24"/><circle cx="182.9" cy="212.1" r="3.2" fill="#235c24"/><circle cx="194.8" cy="214.5" r="3.5" fill="#4fc44c"/><circle cx="210.7" cy="223.2" r="4.0" fill="#235c24"/><circle cx="198.8" cy="224.3" r="2.4" fill="#4fc44c"/><circle cx="217.9" cy="229.6" r="3.2" fill="#4fc44c"/><circle cx="176.5" cy="230.4" r="2.4" fill="#235c24"/><circle cx="198.0" cy="232.0" r="4.5" fill="#235c24"/><circle cx="143.9" cy="231.7" r="3.5" fill="#4fc44c"/><circle cx="136.8" cy="236.7" r="3.2" fill="#4fc44c"/><circle cx="150.3" cy="239.9" r="2.4" fill="#4fc44c"/><circle cx="189.2" cy="239.9" r="4.8" fill="#3a9a3a"/><circle cx="163.8" cy="240.7" r="3.2" fill="#235c24"/><circle cx="213.9" cy="238.7" r="2.4" fill="#235c24"/><circle cx="208.3" cy="235.2" r="1.9" fill="#4fc44c"/><circle cx="176.5" cy="247.9" r="4.0" fill="#4fc44c"/><circle cx="185.3" cy="251.1" r="2.9" fill="#4fc44c"/><circle cx="146.0" cy="258.2" r="6.7" fill="#4fc44c"/><circle cx="158.2" cy="256.6" r="2.4" fill="#4fc44c"/><circle cx="170.2" cy="262.2" r="4.5" fill="#4fc44c"/><circle cx="187.6" cy="261.4" r="2.4" fill="#235c24"/><circle cx="202.0" cy="255.8" r="4.0" fill="#4fc44c"/><circle cx="198.0" cy="251.1" r="1.9" fill="#235c24"/><circle cx="217.1" cy="267.0" r="2.4" fill="#4fc44c"/><circle cx="151.1" cy="267.0" r="1.9" fill="#4fc44c"/><circle cx="139.2" cy="270.9" r="2.4" fill="#4fc44c"/><circle cx="190.8" cy="271.7" r="3.5" fill="#235c24"/><circle cx="198.8" cy="270.1" r="2.9" fill="#235c24"/><circle cx="208.3" cy="267.0" r="2.4" fill="#235c24"/><circle cx="155.8" cy="277.3" r="4.0" fill="#235c24"/><circle cx="144.7" cy="280.5" r="3.2" fill="#235c24"/><circle cx="163.8" cy="279.7" r="1.9" fill="#4fc44c"/><circle cx="176.5" cy="281.3" r="2.4" fill="#4fc44c"/><circle cx="228.5" cy="198.6" r="3.2" fill="#4fc44c"/><circle cx="244.7" cy="198.6" r="3.2" fill="#4fc44c"/><circle cx="258.2" cy="199.9" r="2.9" fill="#4fc44c"/><circle cx="247.8" cy="204.2" r="3.2" fill="#4fc44c"/><circle cx="284.4" cy="199.9" r="3.5" fill="#235c24"/><circle cx="296.3" cy="203.4" r="4.0" fill="#235c24"/><circle cx="296.3" cy="209.4" r="2.9" fill="#4fc44c"/><circle cx="257.4" cy="215.8" r="5.1" fill="#4fc44c"/><circle cx="252.6" cy="221.6" r="2.9" fill="#235c24"/><circle cx="228.8" cy="220.8" r="4.0" fill="#235c24"/><circle cx="243.1" cy="218.5" r="2.4" fill="#4fc44c"/><circle cx="274.6" cy="220.8" r="2.9" fill="#235c24"/><circle cx="294.0" cy="216.9" r="1.9" fill="#4fc44c"/><circle cx="303.5" cy="216.1" r="2.9" fill="#4fc44c"/><circle cx="309.1" cy="223.2" r="3.2" fill="#4fc44c"/><circle cx="315.4" cy="221.6" r="1.9" fill="#235c24"/><circle cx="273.0" cy="229.6" r="4.8" fill="#235c24"/><circle cx="263.0" cy="231.2" r="2.4" fill="#4fc44c"/><circle cx="254.2" cy="228.5" r="2.4" fill="#4fc44c"/><circle cx="285.2" cy="232.8" r="2.4" fill="#235c24"/><circle cx="307.5" cy="232.0" r="3.2" fill="#4fc44c"/><circle cx="233.5" cy="237.5" r="4.8" fill="#235c24"/><circle cx="246.3" cy="237.5" r="3.5" fill="#4fc44c"/><circle cx="252.3" cy="236.0" r="2.2" fill="#4fc44c"/><circle cx="304.3" cy="239.9" r="4.0" fill="#4fc44c"/><circle cx="269.3" cy="244.7" r="4.5" fill="#4fc44c"/><circle cx="262.2" cy="239.9" r="2.4" fill="#235c24"/><circle cx="282.0" cy="243.1" r="2.9" fill="#235c24"/><circle cx="286.0" cy="243.9" r="2.4" fill="#235c24"/><circle cx="243.1" cy="244.7" r="2.4" fill="#235c24"/><circle cx="253.4" cy="248.7" r="3.2" fill="#235c24"/><circle cx="259.8" cy="251.8" r="2.4" fill="#4fc44c"/><circle cx="241.5" cy="253.4" r="1.9" fill="#c048c0"/><circle cx="266.1" cy="258.2" r="4.8" fill="#4fc44c"/><circle cx="280.4" cy="258.2" r="4.0" fill="#235c24"/><circle cx="291.6" cy="252.3" r="1.9" fill="#4fc44c"/><circle cx="237.5" cy="261.4" r="4.0" fill="#4fc44c"/><circle cx="245.5" cy="264.6" r="2.9" fill="#4fc44c"/><circle cx="259.8" cy="263.0" r="2.4" fill="#235c24"/><circle cx="292.4" cy="263.0" r="2.4" fill="#235c24"/><circle cx="307.5" cy="267.0" r="2.4" fill="#4fc44c"/><circle cx="244.7" cy="273.3" r="4.0" fill="#235c24"/><circle cx="255.0" cy="274.1" r="4.0" fill="#235c24"/><circle cx="272.5" cy="270.1" r="2.4" fill="#4fc44c"/><circle cx="282.0" cy="270.1" r="2.4" fill="#4fc44c"/><circle cx="297.1" cy="276.5" r="1.9" fill="#c048c0"/><circle cx="297.4" cy="279.7" r="1.9" fill="#c048c0"/><circle cx="231.2" cy="275.7" r="2.4" fill="#4fc44c"/><circle cx="235.9" cy="279.7" r="2.4" fill="#4fc44c"/><circle cx="269.3" cy="278.1" r="2.4" fill="#4fc44c"/><circle cx="308.3" cy="279.7" r="3.5" fill="#235c24"/><circle cx="312.2" cy="236.0" r="1.9" fill="#4fc44c"/>
<g fill="none" stroke="#9a9a9a" stroke-width="0.8"><circle cx="89.3" cy="42.6" r="3.2"/><circle cx="116.3" cy="31.8" r="3.2"/><circle cx="126.6" cy="66.0" r="6.4"/><circle cx="50.3" cy="66.0" r="3.5"/><circle cx="59.9" cy="64.8" r="2.4"/><circle cx="92.5" cy="73.4" r="2.4"/><circle cx="99.6" cy="60.4" r="2.9"/><circle cx="119.5" cy="58.8" r="3.2"/><circle cx="108.4" cy="93.8" r="1.9"/><circle cx="143.1" cy="38.1" r="5.6"/><circle cx="139.2" cy="50.5" r="4.3"/><circle cx="175.7" cy="38.9" r="2.9"/><circle cx="188.4" cy="40.0" r="4.5"/><circle cx="195.6" cy="39.7" r="2.4"/><circle cx="169.4" cy="50.8" r="2.9"/><circle cx="133.6" cy="65.2" r="4.0"/><circle cx="221.0" cy="58.0" r="4.0"/><circle cx="214.7" cy="73.1" r="3.5"/><circle cx="138.4" cy="83.4" r="4.8"/><circle cx="186.1" cy="90.6" r="6.4"/><circle cx="147.9" cy="107.3" r="4.5"/><circle cx="184.5" cy="104.9" r="4.0"/><circle cx="208.3" cy="109.7" r="4.8"/><circle cx="220.2" cy="93.8" r="2.4"/><circle cx="215.5" cy="83.4" r="2.4"/><circle cx="141.5" cy="93.8" r="2.4"/><circle cx="244.7" cy="28.9" r="3.2"/><circle cx="292.0" cy="34.2" r="4.8"/><circle cx="254.2" cy="37.8" r="3.2"/><circle cx="258.2" cy="53.2" r="3.2"/><circle cx="247.8" cy="66.0" r="3.2"/><circle cx="299.5" cy="70.7" r="4.0"/><circle cx="266.1" cy="70.7" r="3.2"/><circle cx="273.3" cy="77.9" r="2.9"/><circle cx="295.5" cy="85.8" r="4.8"/><circle cx="310.6" cy="95.4" r="2.9"/><circle cx="291.6" cy="104.1" r="3.2"/><circle cx="313.8" cy="108.1" r="2.4"/><circle cx="233.5" cy="60.4" r="4.5"/><circle cx="237.2" cy="94.7" r="4.3"/><circle cx="55.9" cy="118.4" r="4.0"/><circle cx="102.0" cy="129.5" r="4.5"/><circle cx="128.2" cy="117.6" r="2.4"/><circle cx="94.8" cy="139.0" r="5.6"/><circle cx="42.4" cy="152.5" r="3.5"/><circle cx="59.9" cy="159.7" r="5.2"/><circle cx="84.5" cy="154.1" r="4.0"/><circle cx="113.1" cy="156.5" r="6.0"/><circle cx="131.4" cy="143.8" r="4.5"/><circle cx="108.4" cy="168.4" r="4.8"/><circle cx="108.4" cy="177.2" r="3.5"/><circle cx="60.7" cy="189.1" r="6.5"/><circle cx="89.3" cy="194.7" r="3.2"/><circle cx="43.2" cy="191.5" r="3.2"/><circle cx="130.6" cy="127.9" r="4.8"/><circle cx="136.8" cy="116.8" r="4.0"/><circle cx="147.9" cy="116.8" r="4.0"/><circle cx="172.5" cy="122.3" r="3.2"/><circle cx="198.8" cy="120.7" r="4.0"/><circle cx="209.1" cy="113.6" r="3.2"/><circle cx="212.3" cy="139.0" r="2.4"/><circle cx="223.4" cy="140.6" r="2.4"/><circle cx="135.2" cy="146.2" r="5.6"/><circle cx="194.0" cy="150.2" r="4.0"/><circle cx="213.9" cy="155.2" r="4.5"/><circle cx="148.7" cy="162.1" r="2.9"/><circle cx="134.4" cy="162.1" r="4.0"/><circle cx="202.0" cy="162.1" r="4.0"/><circle cx="222.6" cy="172.4" r="2.4"/><circle cx="169.4" cy="189.9" r="4.8"/><circle cx="208.3" cy="193.9" r="3.5"/><circle cx="231.2" cy="116.0" r="4.0"/><circle cx="264.5" cy="125.5" r="4.8"/><circle cx="282.8" cy="120.7" r="4.0"/><circle cx="296.3" cy="116.0" r="2.4"/><circle cx="296.3" cy="127.1" r="3.5"/><circle cx="245.5" cy="135.8" r="2.9"/><circle cx="297.1" cy="143.0" r="6.4"/><circle cx="265.3" cy="141.4" r="2.9"/><circle cx="281.2" cy="147.8" r="1.9"/><circle cx="262.2" cy="159.7" r="4.8"/><circle cx="228.5" cy="163.7" r="3.2"/><circle cx="288.4" cy="166.8" r="2.4"/><circle cx="304.3" cy="166.8" r="4.0"/><circle cx="312.2" cy="161.3" r="2.4"/><circle cx="227.2" cy="173.2" r="3.2"/><circle cx="254.2" cy="186.7" r="2.4"/><circle cx="248.6" cy="189.9" r="1.9"/><circle cx="264.5" cy="193.1" r="4.0"/><circle cx="304.3" cy="193.9" r="2.2"/><circle cx="59.1" cy="205.7" r="2.9"/><circle cx="66.2" cy="212.9" r="4.0"/><circle cx="69.4" cy="221.6" r="3.2"/><circle cx="129.0" cy="216.1" r="3.2"/><circle cx="60.7" cy="239.9" r="4.0"/><circle cx="77.4" cy="243.1" r="6.0"/><circle cx="87.7" cy="232.8" r="1.9"/><circle cx="96.4" cy="254.2" r="4.0"/><circle cx="103.6" cy="261.4" r="3.2"/><circle cx="63.8" cy="251.1" r="1.9"/><circle cx="59.1" cy="263.8" r="2.4"/><circle cx="121.9" cy="274.1" r="4.0"/><circle cx="127.4" cy="270.1" r="4.8"/><circle cx="104.4" cy="278.1" r="2.4"/><circle cx="143.1" cy="205.7" r="5.6"/><circle cx="199.6" cy="212.9" r="2.4"/><circle cx="202.0" cy="202.6" r="2.9"/><circle cx="223.4" cy="226.4" r="2.4"/><circle cx="184.5" cy="227.2" r="3.2"/><circle cx="151.9" cy="239.9" r="4.0"/><circle cx="176.5" cy="238.0" r="5.7"/><circle cx="202.0" cy="239.1" r="3.2"/><circle cx="155.8" cy="247.9" r="3.2"/><circle cx="160.6" cy="263.8" r="4.0"/><circle cx="174.1" cy="270.1" r="3.5"/><circle cx="133.6" cy="270.1" r="3.5"/><circle cx="201.2" cy="278.1" r="3.2"/><circle cx="214.7" cy="270.1" r="2.4"/><circle cx="221.0" cy="276.5" r="4.5"/><circle cx="263.0" cy="204.2" r="4.5"/><circle cx="274.1" cy="200.2" r="3.2"/><circle cx="244.7" cy="228.0" r="5.6"/><circle cx="302.7" cy="221.6" r="3.2"/><circle cx="273.0" cy="229.6" r="4.9"/><circle cx="297.1" cy="229.6" r="3.2"/><circle cx="233.5" cy="237.5" r="4.9"/><circle cx="226.4" cy="244.7" r="3.2"/><circle cx="270.1" cy="258.2" r="4.0"/><circle cx="298.7" cy="255.0" r="2.4"/><circle cx="308.3" cy="255.8" r="3.5"/><circle cx="239.9" cy="258.2" r="2.4"/><circle cx="301.9" cy="262.2" r="1.9"/><circle cx="315.4" cy="260.6" r="2.4"/><circle cx="234.3" cy="271.7" r="3.2"/><circle cx="289.2" cy="274.9" r="4.5"/><circle cx="313.0" cy="281.3" r="2.4"/></g>
<g fill="none" stroke="#c24bc2" stroke-width="0.9"><circle cx="67.0" cy="56.4" r="2.2"/><circle cx="49.9" cy="78.7" r="4.6"/><circle cx="75.0" cy="71.8" r="3.2"/><circle cx="54.3" cy="88.2" r="2.4"/><circle cx="136.8" cy="34.2" r="1.6"/><circle cx="154.3" cy="56.9" r="4.8"/><circle cx="154.3" cy="53.2" r="2.5"/><circle cx="211.5" cy="61.2" r="2.2"/><circle cx="197.2" cy="79.5" r="2.9"/><circle cx="155.8" cy="84.2" r="2.9"/><circle cx="203.5" cy="100.1" r="2.9"/><circle cx="285.2" cy="46.9" r="1.9"/><circle cx="284.4" cy="72.8" r="3.7"/><circle cx="58.8" cy="140.9" r="4.9"/><circle cx="48.7" cy="182.0" r="1.6"/><circle cx="154.3" cy="151.7" r="2.9"/><circle cx="255.8" cy="176.4" r="3.0"/><circle cx="306.7" cy="178.0" r="3.2"/><circle cx="93.3" cy="217.3" r="5.7"/><circle cx="114.7" cy="227.2" r="3.2"/><circle cx="50.0" cy="243.4" r="2.7"/><circle cx="163.8" cy="198.6" r="3.5"/><circle cx="159.0" cy="210.5" r="3.5"/><circle cx="177.3" cy="203.4" r="2.9"/><circle cx="182.1" cy="201.0" r="2.9"/><circle cx="141.5" cy="224.8" r="4.0"/><circle cx="277.3" cy="212.1" r="4.0"/><circle cx="294.0" cy="239.9" r="4.0"/><circle cx="309.1" cy="246.6" r="2.5"/><circle cx="228.8" cy="255.0" r="3.2"/></g>
</g>
<rect x="147.05" y="48.85" width="17.90" height="16.80" fill="none" stroke="#4a58b0" stroke-width="1.5"/>
<rect x="149.95" y="78.35" width="12.00" height="11.50" fill="none" stroke="#4a58b0" stroke-width="1.5"/>
<rect x="42.95" y="237.45" width="13.80" height="13.20" fill="none" stroke="#4a58b0" stroke-width="1.5"/>
<rect x="301.85" y="240.15" width="13.90" height="13.00" fill="none" stroke="#4a58b0" stroke-width="1.5"/>
<rect x="217.05" y="51.45" width="26.10" height="16.90" fill="none" stroke="#e8912c" stroke-width="1.5"/>
<rect x="229.85" y="86.05" width="14.90" height="16.80" fill="none" stroke="#e8912c" stroke-width="1.5"/>
<rect x="287.05" y="133.85" width="20.50" height="18.30" fill="none" stroke="#e8912c" stroke-width="1.5"/>
<rect x="68.85" y="233.95" width="17.30" height="18.70" fill="none" stroke="#e8912c" stroke-width="1.5"/>
<rect x="105.95" y="115.65" width="16.80" height="16.00" fill="none" stroke="#bc4fbc" stroke-width="1.5"/>
<rect x="247.05" y="97.25" width="16.70" height="16.40" fill="none" stroke="#bc4fbc" stroke-width="1.5"/>
<rect x="205.05" y="148.05" width="16.80" height="15.70" fill="none" stroke="#bc4fbc" stroke-width="1.5"/>
<rect x="239.05" y="141.35" width="16.80" height="16.30" fill="none" stroke="#bc4fbc" stroke-width="1.5"/>
<rect x="249.75" y="208.05" width="16.40" height="16.80" fill="none" stroke="#bc4fbc" stroke-width="1.5"/>
<rect x="193.95" y="248.35" width="16.30" height="16.30" fill="none" stroke="#bc4fbc" stroke-width="1.5"/>
<rect x="42.75" y="71.85" width="14.00" height="13.50" fill="none" stroke="#84d8dc" stroke-width="1.5"/>
<rect x="49.95" y="133.85" width="17.30" height="16.00" fill="none" stroke="#84d8dc" stroke-width="1.5"/>
<rect x="148.05" y="146.15" width="12.10" height="12.00" fill="none" stroke="#84d8dc" stroke-width="1.5"/>
<rect x="249.85" y="171.05" width="11.70" height="11.70" fill="none" stroke="#84d8dc" stroke-width="1.5"/>
<rect x="302.15" y="172.85" width="11.70" height="11.90" fill="none" stroke="#84d8dc" stroke-width="1.5"/>
<rect x="172.85" y="195.75" width="13.60" height="12.90" fill="none" stroke="#84d8dc" stroke-width="1.5"/>
<rect x="151.85" y="204.15" width="13.30" height="13.20" fill="none" stroke="#84d8dc" stroke-width="1.5"/>
<rect x="80.95" y="204.95" width="23.00" height="22.80" fill="none" stroke="#84d8dc" stroke-width="1.5"/>
<rect x="109.15" y="221.95" width="12.00" height="12.00" fill="none" stroke="#84d8dc" stroke-width="1.5"/>
<rect x="125.85" y="251.05" width="12.20" height="12.00" fill="none" stroke="#84d8dc" stroke-width="1.5"/>
</svg>
<text x="43" y="301.2" font-size="8.8" textLength="26.3" lengthAdjust="spacingAndGlyphs" fill="#222" stroke="#222" stroke-width="0.22" >Labels:</text>
<rect x="76" y="294.4" width="13" height="8.5" rx="4.25" fill="#6fce47"/>
<text x="92.8" y="301.2" font-size="8.8" textLength="32" lengthAdjust="spacingAndGlyphs" fill="#222" stroke="#222" stroke-width="0.22" >dsGreen</text>
<rect x="132.2" y="294.4" width="13.4" height="8.5" rx="4.25" fill="#a847a8"/>
<text x="149.5" y="301.2" font-size="8.8" textLength="62" lengthAdjust="spacingAndGlyphs" fill="#222" stroke="#222" stroke-width="0.22" >LactC2-mCherry</text>
<rect x="219" y="294.4" width="13.3" height="8.5" rx="4.25" fill="#8c8c8c"/>
<text x="237.4" y="301.2" font-size="8.8" textLength="75.2" lengthAdjust="spacingAndGlyphs" fill="#222" stroke="#222" stroke-width="0.22" >Membrane dye Cy5</text>
<circle cx="370.2" cy="297.1" r="4.9" fill="#6fce47" stroke="#8a8a8a" stroke-width="2"/>
<text x="380.6" y="301.2" font-size="8.8" textLength="20.5" lengthAdjust="spacingAndGlyphs" fill="#222" stroke="#222" stroke-width="0.22" >ROI 1</text>
<circle cx="458.9" cy="297.1" r="4.9" fill="#6fce47" stroke="#a847a8" stroke-width="2"/>
<text x="469.6" y="301.2" font-size="8.8" textLength="20.5" lengthAdjust="spacingAndGlyphs" fill="#222" stroke="#222" stroke-width="0.22" >ROI 2</text>
<circle cx="546.2" cy="297.1" r="4.9" fill="#ffffff" stroke="#8a8a8a" stroke-width="2"/>
<text x="556.4" y="301.2" font-size="8.8" textLength="20.5" lengthAdjust="spacingAndGlyphs" fill="#222" stroke="#222" stroke-width="0.22" >ROI 3</text>
<circle cx="629.8" cy="297.1" r="4.9" fill="#ffffff" stroke="#a847a8" stroke-width="2"/>
<text x="639.6" y="301.2" font-size="8.8" textLength="20.5" lengthAdjust="spacingAndGlyphs" fill="#222" stroke="#222" stroke-width="0.22" >ROI 4</text>
<text x="0" y="332.8" font-size="11.8" font-weight="bold" fill="#111" >b)</text>
<text x="252.6" y="332.6" font-size="11.8" font-weight="bold" fill="#111" >c)</text>
<text x="462.6" y="332.8" font-size="11.8" font-weight="bold" fill="#111" >d)</text>
<polygon points="95.0,381.0 184.2,381.0 184.2,462.0 172.0,467.0 158.0,472.0 140.0,474.0 122.0,471.0 104.0,465.0 90.0,457.0 82.0,448.0 78.0,435.0 78.0,420.0 80.0,413.0 84.0,405.0 90.0,395.0" fill="#dfb136"/>
<polygon points="76.0,355.0 184.2,355.0 184.2,381.5 88.0,381.5 82.0,377.0 77.0,372.0 73.5,366.0 73.5,360.0" fill="#b052a9"/>
<polygon points="183.6,355.0 224.0,355.0 225.0,368.0 224.0,381.0 183.6,381.0" fill="#82dbe0"/>
<polygon points="183.6,381.0 219.0,381.0 219.0,400.0 218.0,420.0 216.0,440.0 212.0,450.0 205.0,455.0 195.0,458.0 185.0,461.0 183.6,461.0" fill="#4253a9"/>
<circle cx="73.8" cy="367.0" r="1.0" fill="#b052a9"/>
<circle cx="75.5" cy="355.6" r="1.0" fill="#b052a9"/>
<circle cx="72.7" cy="363.0" r="1.0" fill="#b052a9"/>
<circle cx="71.6" cy="367.2" r="1.0" fill="#b052a9"/>
<circle cx="77.8" cy="373.3" r="1.0" fill="#b052a9"/>
<circle cx="79.1" cy="378.2" r="1.0" fill="#b052a9"/>
<circle cx="71.6" cy="362.2" r="1.0" fill="#b052a9"/>
<circle cx="77.6" cy="375.2" r="1.0" fill="#b052a9"/>
<circle cx="72.1" cy="363.6" r="1.0" fill="#b052a9"/>
<circle cx="81.5" cy="377.7" r="1.0" fill="#b052a9"/>
<circle cx="77.0" cy="375.1" r="1.0" fill="#b052a9"/>
<circle cx="81.1" cy="377.6" r="1.0" fill="#b052a9"/>
<circle cx="72.3" cy="361.8" r="1.0" fill="#b052a9"/>
<circle cx="73.4" cy="370.2" r="1.0" fill="#b052a9"/>
<circle cx="74.2" cy="372.4" r="1.0" fill="#b052a9"/>
<circle cx="91.6" cy="381.5" r="1.0" fill="#b052a9"/>
<circle cx="99.7" cy="381.7" r="1.0" fill="#b052a9"/>
<circle cx="73.4" cy="359.5" r="1.0" fill="#b052a9"/>
<circle cx="71.2" cy="362.5" r="1.0" fill="#b052a9"/>
<circle cx="79.9" cy="377.2" r="1.0" fill="#b052a9"/>
<circle cx="79.3" cy="379.1" r="1.0" fill="#b052a9"/>
<circle cx="73.9" cy="369.9" r="1.0" fill="#b052a9"/>
<circle cx="83.2" cy="380.9" r="1.0" fill="#b052a9"/>
<circle cx="119.2" cy="381.5" r="1.0" fill="#b052a9"/>
<circle cx="74.5" cy="371.5" r="1.0" fill="#b052a9"/>
<circle cx="106.4" cy="381.7" r="1.0" fill="#b052a9"/>
<circle cx="72.1" cy="359.9" r="1.0" fill="#b052a9"/>
<circle cx="74.7" cy="372.1" r="1.0" fill="#b052a9"/>
<circle cx="72.7" cy="359.1" r="1.0" fill="#b052a9"/>
<circle cx="97.2" cy="381.5" r="1.0" fill="#b052a9"/>
<circle cx="77.0" cy="372.6" r="1.0" fill="#b052a9"/>
<circle cx="74.4" cy="369.0" r="1.0" fill="#b052a9"/>
<circle cx="82.8" cy="377.9" r="1.0" fill="#b052a9"/>
<circle cx="78.3" cy="377.2" r="1.0" fill="#b052a9"/>
<circle cx="79.6" cy="375.5" r="1.0" fill="#b052a9"/>
<circle cx="75.4" cy="369.8" r="1.0" fill="#b052a9"/>
<circle cx="76.0" cy="374.0" r="1.0" fill="#b052a9"/>
<circle cx="73.3" cy="365.6" r="1.0" fill="#b052a9"/>
<circle cx="73.3" cy="369.2" r="1.0" fill="#b052a9"/>
<circle cx="80.2" cy="378.8" r="1.0" fill="#b052a9"/>
<circle cx="73.0" cy="366.0" r="1.0" fill="#b052a9"/>
<circle cx="76.7" cy="372.2" r="1.0" fill="#b052a9"/>
<circle cx="96.7" cy="381.7" r="1.0" fill="#b052a9"/>
<circle cx="75.7" cy="370.0" r="1.0" fill="#b052a9"/>
<circle cx="71.2" cy="365.1" r="1.0" fill="#b052a9"/>
<circle cx="73.6" cy="367.2" r="1.0" fill="#b052a9"/>
<circle cx="72.1" cy="365.5" r="1.0" fill="#b052a9"/>
<circle cx="71.5" cy="363.2" r="1.0" fill="#b052a9"/>
<circle cx="75.1" cy="369.2" r="1.0" fill="#b052a9"/>
<circle cx="83.7" cy="379.7" r="1.0" fill="#b052a9"/>
<circle cx="150.3" cy="476.8" r="1.0" fill="#dfb136"/>
<circle cx="165.1" cy="476.3" r="1.0" fill="#dfb136"/>
<circle cx="85.6" cy="398.4" r="1.0" fill="#dfb136"/>
<circle cx="141.2" cy="475.8" r="1.0" fill="#dfb136"/>
<circle cx="153.2" cy="478.8" r="1.0" fill="#dfb136"/>
<circle cx="132.1" cy="476.0" r="1.0" fill="#dfb136"/>
<circle cx="91.1" cy="458.0" r="1.0" fill="#dfb136"/>
<circle cx="137.4" cy="481.6" r="1.0" fill="#dfb136"/>
<circle cx="75.4" cy="393.8" r="1.0" fill="#dfb136"/>
<circle cx="81.9" cy="397.7" r="1.0" fill="#dfb136"/>
<circle cx="118.0" cy="477.1" r="1.0" fill="#dfb136"/>
<circle cx="82.6" cy="458.2" r="1.0" fill="#dfb136"/>
<circle cx="97.5" cy="464.9" r="1.0" fill="#dfb136"/>
<circle cx="166.6" cy="473.0" r="1.0" fill="#dfb136"/>
<circle cx="84.7" cy="464.9" r="1.0" fill="#dfb136"/>
<circle cx="88.2" cy="395.1" r="1.0" fill="#dfb136"/>
<circle cx="110.1" cy="473.7" r="1.0" fill="#dfb136"/>
<circle cx="85.2" cy="397.3" r="1.0" fill="#dfb136"/>
<circle cx="89.7" cy="388.2" r="1.0" fill="#dfb136"/>
<circle cx="91.7" cy="390.0" r="1.0" fill="#dfb136"/>
<circle cx="135.3" cy="481.6" r="1.0" fill="#dfb136"/>
<circle cx="95.8" cy="461.8" r="1.0" fill="#dfb136"/>
<circle cx="76.0" cy="418.1" r="1.0" fill="#dfb136"/>
<circle cx="150.6" cy="473.2" r="1.0" fill="#dfb136"/>
<circle cx="174.7" cy="468.8" r="1.0" fill="#dfb136"/>
<circle cx="166.6" cy="472.7" r="1.0" fill="#dfb136"/>
<circle cx="91.0" cy="460.6" r="1.0" fill="#dfb136"/>
<circle cx="167.0" cy="474.7" r="1.0" fill="#dfb136"/>
<circle cx="83.0" cy="402.9" r="1.0" fill="#dfb136"/>
<circle cx="93.4" cy="381.2" r="1.0" fill="#dfb136"/>
<circle cx="111.6" cy="469.7" r="1.0" fill="#dfb136"/>
<circle cx="95.7" cy="462.4" r="1.0" fill="#dfb136"/>
<circle cx="72.0" cy="415.7" r="1.0" fill="#dfb136"/>
<circle cx="77.3" cy="445.3" r="1.0" fill="#dfb136"/>
<circle cx="85.4" cy="453.0" r="1.0" fill="#dfb136"/>
<circle cx="79.8" cy="409.4" r="1.0" fill="#dfb136"/>
<circle cx="86.1" cy="399.8" r="1.0" fill="#dfb136"/>
<circle cx="93.9" cy="461.5" r="1.0" fill="#dfb136"/>
<circle cx="165.1" cy="470.7" r="1.0" fill="#dfb136"/>
<circle cx="94.6" cy="381.9" r="1.0" fill="#dfb136"/>
<circle cx="115.6" cy="472.8" r="1.0" fill="#dfb136"/>
<circle cx="83.7" cy="450.0" r="1.0" fill="#dfb136"/>
<circle cx="82.2" cy="456.3" r="1.0" fill="#dfb136"/>
<circle cx="71.2" cy="419.7" r="1.0" fill="#dfb136"/>
<circle cx="116.2" cy="472.9" r="1.0" fill="#dfb136"/>
<circle cx="88.5" cy="397.0" r="1.0" fill="#dfb136"/>
<circle cx="89.0" cy="388.8" r="1.0" fill="#dfb136"/>
<circle cx="174.4" cy="466.1" r="1.0" fill="#dfb136"/>
<circle cx="105.7" cy="471.3" r="1.0" fill="#dfb136"/>
<circle cx="157.7" cy="477.4" r="1.0" fill="#dfb136"/>
<circle cx="131.8" cy="476.6" r="1.0" fill="#dfb136"/>
<circle cx="167.5" cy="472.6" r="1.0" fill="#dfb136"/>
<circle cx="87.3" cy="392.0" r="1.0" fill="#dfb136"/>
<circle cx="77.4" cy="458.5" r="1.0" fill="#dfb136"/>
<circle cx="165.2" cy="472.9" r="1.0" fill="#dfb136"/>
<circle cx="76.9" cy="434.4" r="1.0" fill="#dfb136"/>
<circle cx="92.7" cy="386.5" r="1.0" fill="#dfb136"/>
<circle cx="95.4" cy="467.8" r="1.0" fill="#dfb136"/>
<circle cx="120.0" cy="470.5" r="1.0" fill="#dfb136"/>
<circle cx="92.9" cy="461.8" r="1.0" fill="#dfb136"/>
<circle cx="80.1" cy="406.9" r="1.0" fill="#dfb136"/>
<circle cx="82.7" cy="399.5" r="1.0" fill="#dfb136"/>
<circle cx="89.0" cy="462.9" r="1.0" fill="#dfb136"/>
<circle cx="83.5" cy="403.4" r="1.0" fill="#dfb136"/>
<circle cx="131.5" cy="477.9" r="1.0" fill="#dfb136"/>
<circle cx="71.9" cy="431.4" r="1.0" fill="#dfb136"/>
<circle cx="93.7" cy="382.7" r="1.0" fill="#dfb136"/>
<circle cx="75.9" cy="456.4" r="1.0" fill="#dfb136"/>
<circle cx="119.3" cy="474.5" r="1.0" fill="#dfb136"/>
<circle cx="81.7" cy="398.9" r="1.0" fill="#dfb136"/>
<circle cx="71.1" cy="413.8" r="1.0" fill="#dfb136"/>
<circle cx="84.3" cy="398.0" r="1.0" fill="#dfb136"/>
<circle cx="160.2" cy="471.7" r="1.0" fill="#dfb136"/>
<circle cx="115.3" cy="469.7" r="1.0" fill="#dfb136"/>
<circle cx="148.4" cy="476.9" r="1.0" fill="#dfb136"/>
<circle cx="173.2" cy="467.3" r="1.0" fill="#dfb136"/>
<circle cx="71.7" cy="409.2" r="1.0" fill="#dfb136"/>
<circle cx="79.6" cy="454.5" r="1.0" fill="#dfb136"/>
<circle cx="71.1" cy="425.4" r="1.0" fill="#dfb136"/>
<circle cx="77.6" cy="452.5" r="1.0" fill="#dfb136"/>
<circle cx="80.6" cy="445.6" r="1.0" fill="#dfb136"/>
<circle cx="73.2" cy="425.5" r="1.0" fill="#dfb136"/>
<circle cx="95.9" cy="469.3" r="1.0" fill="#dfb136"/>
<circle cx="141.5" cy="477.1" r="1.0" fill="#dfb136"/>
<circle cx="95.5" cy="461.5" r="1.0" fill="#dfb136"/>
<circle cx="84.2" cy="402.2" r="1.0" fill="#dfb136"/>
<circle cx="93.1" cy="463.0" r="1.0" fill="#dfb136"/>
<circle cx="123.1" cy="472.8" r="1.0" fill="#dfb136"/>
<circle cx="76.9" cy="421.0" r="1.0" fill="#dfb136"/>
<circle cx="70.3" cy="443.9" r="1.0" fill="#dfb136"/>
<circle cx="82.8" cy="391.9" r="1.0" fill="#dfb136"/>
<circle cx="159.9" cy="473.4" r="1.0" fill="#dfb136"/>
<circle cx="94.6" cy="459.8" r="1.0" fill="#dfb136"/>
<circle cx="80.8" cy="403.4" r="1.0" fill="#dfb136"/>
<circle cx="78.3" cy="453.5" r="1.0" fill="#dfb136"/>
<circle cx="168.5" cy="473.2" r="1.0" fill="#dfb136"/>
<circle cx="113.5" cy="469.1" r="1.0" fill="#dfb136"/>
<circle cx="74.2" cy="447.9" r="1.0" fill="#dfb136"/>
<circle cx="81.9" cy="396.1" r="1.0" fill="#dfb136"/>
<circle cx="100.7" cy="466.6" r="1.0" fill="#dfb136"/>
<circle cx="77.6" cy="440.8" r="1.0" fill="#dfb136"/>
<circle cx="150.6" cy="478.9" r="1.0" fill="#dfb136"/>
<circle cx="169.9" cy="470.2" r="1.0" fill="#dfb136"/>
<circle cx="131.5" cy="479.8" r="1.0" fill="#dfb136"/>
<circle cx="76.3" cy="402.2" r="1.0" fill="#dfb136"/>
<circle cx="76.2" cy="423.9" r="1.0" fill="#dfb136"/>
<circle cx="87.5" cy="458.5" r="1.0" fill="#dfb136"/>
<circle cx="98.2" cy="465.9" r="1.0" fill="#dfb136"/>
<circle cx="74.1" cy="427.3" r="1.0" fill="#dfb136"/>
<circle cx="76.2" cy="430.3" r="1.0" fill="#dfb136"/>
<circle cx="90.1" cy="392.6" r="1.0" fill="#dfb136"/>
<circle cx="86.7" cy="393.7" r="1.0" fill="#dfb136"/>
<circle cx="79.4" cy="393.6" r="1.0" fill="#dfb136"/>
<circle cx="160.6" cy="471.6" r="1.0" fill="#dfb136"/>
<circle cx="79.8" cy="447.6" r="1.0" fill="#dfb136"/>
<circle cx="93.5" cy="381.5" r="1.0" fill="#dfb136"/>
<circle cx="149.2" cy="476.2" r="1.0" fill="#dfb136"/>
<circle cx="73.5" cy="437.8" r="1.0" fill="#dfb136"/>
<circle cx="87.3" cy="395.5" r="1.0" fill="#dfb136"/>
<circle cx="86.7" cy="455.7" r="1.0" fill="#dfb136"/>
<circle cx="142.4" cy="474.7" r="1.0" fill="#dfb136"/>
<circle cx="77.5" cy="424.2" r="1.0" fill="#dfb136"/>
<circle cx="84.1" cy="464.3" r="1.0" fill="#dfb136"/>
<circle cx="81.7" cy="450.7" r="1.0" fill="#dfb136"/>
<circle cx="74.5" cy="399.6" r="1.0" fill="#dfb136"/>
<circle cx="77.6" cy="409.8" r="1.0" fill="#dfb136"/>
<circle cx="82.5" cy="404.2" r="1.0" fill="#dfb136"/>
<circle cx="99.5" cy="462.5" r="1.0" fill="#dfb136"/>
<circle cx="180.7" cy="464.0" r="1.0" fill="#dfb136"/>
<circle cx="83.0" cy="406.0" r="1.0" fill="#dfb136"/>
<circle cx="158.2" cy="472.1" r="1.0" fill="#dfb136"/>
<circle cx="83.8" cy="404.2" r="1.0" fill="#dfb136"/>
<circle cx="170.3" cy="472.2" r="1.0" fill="#dfb136"/>
<circle cx="76.7" cy="444.7" r="1.0" fill="#dfb136"/>
<circle cx="131.5" cy="476.6" r="1.0" fill="#dfb136"/>
<circle cx="89.3" cy="460.4" r="1.0" fill="#dfb136"/>
<circle cx="164.2" cy="472.7" r="1.0" fill="#dfb136"/>
<circle cx="90.2" cy="381.4" r="1.0" fill="#dfb136"/>
<circle cx="81.2" cy="408.6" r="1.0" fill="#dfb136"/>
<circle cx="121.7" cy="478.9" r="1.0" fill="#dfb136"/>
<circle cx="140.4" cy="475.2" r="1.0" fill="#dfb136"/>
<circle cx="124.4" cy="472.8" r="1.0" fill="#dfb136"/>
<circle cx="101.5" cy="466.9" r="1.0" fill="#dfb136"/>
<circle cx="91.2" cy="390.8" r="1.0" fill="#dfb136"/>
<circle cx="167.7" cy="472.9" r="1.0" fill="#dfb136"/>
<circle cx="82.4" cy="448.9" r="1.0" fill="#dfb136"/>
<circle cx="181.6" cy="463.5" r="1.0" fill="#dfb136"/>
<circle cx="80.3" cy="455.8" r="1.0" fill="#dfb136"/>
<circle cx="80.0" cy="442.6" r="1.0" fill="#dfb136"/>
<circle cx="116.7" cy="473.6" r="1.0" fill="#dfb136"/>
<circle cx="78.8" cy="415.0" r="1.0" fill="#dfb136"/>
<circle cx="134.1" cy="475.1" r="1.0" fill="#dfb136"/>
<circle cx="121.7" cy="471.8" r="1.0" fill="#dfb136"/>
<circle cx="130.2" cy="482.2" r="1.0" fill="#dfb136"/>
<circle cx="107.1" cy="472.4" r="1.0" fill="#dfb136"/>
<circle cx="121.2" cy="475.7" r="1.0" fill="#dfb136"/>
<circle cx="130.7" cy="473.3" r="1.0" fill="#dfb136"/>
<circle cx="95.3" cy="464.6" r="1.0" fill="#dfb136"/>
<circle cx="119.8" cy="471.4" r="1.0" fill="#dfb136"/>
<circle cx="162.7" cy="475.2" r="1.0" fill="#dfb136"/>
<circle cx="85.0" cy="460.9" r="1.0" fill="#dfb136"/>
<circle cx="152.0" cy="475.4" r="1.0" fill="#dfb136"/>
<circle cx="160.0" cy="473.1" r="1.0" fill="#dfb136"/>
<circle cx="74.3" cy="436.3" r="1.0" fill="#dfb136"/>
<circle cx="162.9" cy="470.4" r="1.0" fill="#dfb136"/>
<circle cx="157.4" cy="475.5" r="1.0" fill="#dfb136"/>
<circle cx="134.7" cy="475.5" r="1.0" fill="#dfb136"/>
<circle cx="81.3" cy="399.8" r="1.0" fill="#dfb136"/>
<circle cx="79.2" cy="410.3" r="1.0" fill="#dfb136"/>
<circle cx="74.8" cy="423.3" r="1.0" fill="#dfb136"/>
<circle cx="78.7" cy="403.2" r="1.0" fill="#dfb136"/>
<circle cx="78.9" cy="410.5" r="1.0" fill="#dfb136"/>
<circle cx="144.7" cy="474.5" r="1.0" fill="#dfb136"/>
<circle cx="183.3" cy="465.5" r="1.0" fill="#dfb136"/>
<circle cx="161.6" cy="480.5" r="1.0" fill="#dfb136"/>
<circle cx="86.5" cy="400.4" r="1.0" fill="#dfb136"/>
<circle cx="93.5" cy="381.9" r="1.0" fill="#dfb136"/>
<circle cx="108.3" cy="474.5" r="1.0" fill="#dfb136"/>
<circle cx="90.3" cy="386.6" r="1.0" fill="#dfb136"/>
<circle cx="127.2" cy="481.2" r="1.0" fill="#dfb136"/>
<circle cx="76.3" cy="420.0" r="1.0" fill="#dfb136"/>
<circle cx="173.8" cy="469.8" r="1.0" fill="#dfb136"/>
<circle cx="84.8" cy="402.3" r="1.0" fill="#dfb136"/>
<circle cx="88.8" cy="391.4" r="1.0" fill="#dfb136"/>
<circle cx="149.8" cy="474.4" r="1.0" fill="#dfb136"/>
<circle cx="137.9" cy="481.2" r="1.0" fill="#dfb136"/>
<circle cx="73.8" cy="412.3" r="1.0" fill="#dfb136"/>
<circle cx="76.7" cy="450.7" r="1.0" fill="#dfb136"/>
<circle cx="77.2" cy="447.9" r="1.0" fill="#dfb136"/>
<circle cx="88.7" cy="458.0" r="1.0" fill="#dfb136"/>
<circle cx="93.5" cy="462.6" r="1.0" fill="#dfb136"/>
<circle cx="91.2" cy="388.2" r="1.0" fill="#dfb136"/>
<circle cx="81.1" cy="448.2" r="1.0" fill="#dfb136"/>
<circle cx="91.6" cy="387.7" r="1.0" fill="#dfb136"/>
<circle cx="92.4" cy="381.8" r="1.0" fill="#dfb136"/>
<circle cx="84.0" cy="399.2" r="1.0" fill="#dfb136"/>
<circle cx="115.7" cy="469.7" r="1.0" fill="#dfb136"/>
<circle cx="150.4" cy="473.9" r="1.0" fill="#dfb136"/>
<circle cx="77.2" cy="429.8" r="1.0" fill="#dfb136"/>
<circle cx="142.3" cy="476.8" r="1.0" fill="#dfb136"/>
<circle cx="150.5" cy="476.6" r="1.0" fill="#dfb136"/>
<circle cx="88.4" cy="386.3" r="1.0" fill="#dfb136"/>
<circle cx="86.9" cy="395.7" r="1.0" fill="#dfb136"/>
<circle cx="93.3" cy="385.4" r="1.0" fill="#dfb136"/>
<circle cx="137.6" cy="477.5" r="1.0" fill="#dfb136"/>
<circle cx="98.4" cy="463.7" r="1.0" fill="#dfb136"/>
<circle cx="78.1" cy="441.3" r="1.0" fill="#dfb136"/>
<circle cx="151.3" cy="475.4" r="1.0" fill="#dfb136"/>
<circle cx="76.5" cy="402.2" r="1.0" fill="#dfb136"/>
<circle cx="77.3" cy="437.9" r="1.0" fill="#dfb136"/>
<circle cx="147.5" cy="480.9" r="1.0" fill="#dfb136"/>
<circle cx="124.8" cy="476.3" r="1.0" fill="#dfb136"/>
<circle cx="169.8" cy="473.6" r="1.0" fill="#dfb136"/>
<circle cx="71.0" cy="428.4" r="1.0" fill="#dfb136"/>
<circle cx="85.2" cy="402.2" r="1.0" fill="#dfb136"/>
<circle cx="165.3" cy="477.4" r="1.0" fill="#dfb136"/>
<circle cx="182.0" cy="463.0" r="1.0" fill="#dfb136"/>
<circle cx="76.3" cy="433.9" r="1.0" fill="#dfb136"/>
<circle cx="127.4" cy="474.1" r="1.0" fill="#dfb136"/>
<circle cx="98.6" cy="466.5" r="1.0" fill="#dfb136"/>
<circle cx="123.6" cy="473.4" r="1.0" fill="#dfb136"/>
<circle cx="70.3" cy="426.3" r="1.0" fill="#dfb136"/>
<circle cx="97.7" cy="462.7" r="1.0" fill="#dfb136"/>
<circle cx="91.9" cy="388.9" r="1.0" fill="#dfb136"/>
<circle cx="78.3" cy="436.1" r="1.0" fill="#dfb136"/>
<circle cx="134.5" cy="482.7" r="1.0" fill="#dfb136"/>
<circle cx="83.1" cy="453.2" r="1.0" fill="#dfb136"/>
<circle cx="176.6" cy="471.1" r="1.0" fill="#dfb136"/>
<circle cx="97.5" cy="468.7" r="1.0" fill="#dfb136"/>
<circle cx="137.4" cy="476.3" r="1.0" fill="#dfb136"/>
<circle cx="94.1" cy="459.7" r="1.0" fill="#dfb136"/>
<circle cx="142.2" cy="483.5" r="1.0" fill="#dfb136"/>
<circle cx="178.0" cy="465.1" r="1.0" fill="#dfb136"/>
<circle cx="103.0" cy="469.7" r="1.0" fill="#dfb136"/>
<circle cx="74.4" cy="422.9" r="1.0" fill="#dfb136"/>
<circle cx="91.0" cy="465.0" r="1.0" fill="#dfb136"/>
<circle cx="86.2" cy="392.0" r="1.0" fill="#dfb136"/>
<circle cx="126.2" cy="475.2" r="1.0" fill="#dfb136"/>
<circle cx="131.6" cy="473.0" r="1.0" fill="#dfb136"/>
<circle cx="81.4" cy="447.8" r="1.0" fill="#dfb136"/>
<circle cx="85.2" cy="464.1" r="1.0" fill="#dfb136"/>
<circle cx="74.5" cy="446.4" r="1.0" fill="#dfb136"/>
<circle cx="75.4" cy="405.2" r="1.0" fill="#dfb136"/>
<circle cx="82.1" cy="452.2" r="1.0" fill="#dfb136"/>
<circle cx="123.3" cy="471.8" r="1.0" fill="#dfb136"/>
<circle cx="159.0" cy="476.8" r="1.0" fill="#dfb136"/>
<circle cx="85.7" cy="397.0" r="1.0" fill="#dfb136"/>
<circle cx="79.0" cy="449.7" r="1.0" fill="#dfb136"/>
<circle cx="125.9" cy="472.7" r="1.0" fill="#dfb136"/>
<circle cx="88.9" cy="396.7" r="1.0" fill="#dfb136"/>
<circle cx="176.4" cy="473.4" r="1.0" fill="#dfb136"/>
<circle cx="77.6" cy="450.6" r="1.0" fill="#dfb136"/>
<circle cx="79.5" cy="449.8" r="1.0" fill="#dfb136"/>
<circle cx="74.8" cy="428.9" r="1.0" fill="#dfb136"/>
<circle cx="82.8" cy="452.8" r="1.0" fill="#dfb136"/>
<circle cx="106.9" cy="468.2" r="1.0" fill="#dfb136"/>
<circle cx="90.9" cy="458.8" r="1.0" fill="#dfb136"/>
<circle cx="74.9" cy="454.2" r="1.0" fill="#dfb136"/>
<circle cx="120.2" cy="470.8" r="1.0" fill="#dfb136"/>
<circle cx="131.6" cy="478.2" r="1.0" fill="#dfb136"/>
<circle cx="78.2" cy="409.9" r="1.0" fill="#dfb136"/>
<circle cx="113.6" cy="470.9" r="1.0" fill="#dfb136"/>
<circle cx="177.1" cy="470.3" r="1.0" fill="#dfb136"/>
<circle cx="172.1" cy="468.5" r="1.0" fill="#dfb136"/>
<circle cx="88.6" cy="390.4" r="1.0" fill="#dfb136"/>
<circle cx="143.5" cy="478.1" r="1.0" fill="#dfb136"/>
<circle cx="90.5" cy="384.6" r="1.0" fill="#dfb136"/>
<circle cx="121.3" cy="474.4" r="1.0" fill="#dfb136"/>
<circle cx="138.8" cy="480.3" r="1.0" fill="#dfb136"/>
<circle cx="110.9" cy="475.7" r="1.0" fill="#dfb136"/>
<circle cx="96.9" cy="464.7" r="1.0" fill="#dfb136"/>
<circle cx="78.4" cy="405.5" r="1.0" fill="#dfb136"/>
<circle cx="71.8" cy="417.2" r="1.0" fill="#dfb136"/>
<circle cx="108.8" cy="466.9" r="1.0" fill="#dfb136"/>
<circle cx="82.0" cy="463.7" r="1.0" fill="#dfb136"/>
<circle cx="165.9" cy="476.2" r="1.0" fill="#dfb136"/>
<circle cx="76.2" cy="424.2" r="1.0" fill="#dfb136"/>
<circle cx="143.1" cy="475.1" r="1.0" fill="#dfb136"/>
<circle cx="72.7" cy="446.9" r="1.0" fill="#dfb136"/>
<circle cx="74.0" cy="441.9" r="1.0" fill="#dfb136"/>
<circle cx="96.9" cy="461.1" r="1.0" fill="#dfb136"/>
<circle cx="95.0" cy="469.9" r="1.0" fill="#dfb136"/>
<circle cx="71.7" cy="437.9" r="1.0" fill="#dfb136"/>
<circle cx="154.5" cy="482.8" r="1.0" fill="#dfb136"/>
<circle cx="143.3" cy="477.5" r="1.0" fill="#dfb136"/>
<circle cx="70.2" cy="442.9" r="1.0" fill="#dfb136"/>
<circle cx="77.3" cy="439.8" r="1.0" fill="#dfb136"/>
<circle cx="152.8" cy="477.5" r="1.0" fill="#dfb136"/>
<circle cx="71.5" cy="422.4" r="1.0" fill="#dfb136"/>
<circle cx="85.8" cy="398.9" r="1.0" fill="#dfb136"/>
<circle cx="84.4" cy="384.0" r="1.0" fill="#dfb136"/>
<circle cx="70.8" cy="425.8" r="1.0" fill="#dfb136"/>
<circle cx="161.5" cy="480.5" r="1.0" fill="#dfb136"/>
<circle cx="169.2" cy="468.4" r="1.0" fill="#dfb136"/>
<circle cx="90.0" cy="389.7" r="1.0" fill="#dfb136"/>
<circle cx="138.7" cy="474.5" r="1.0" fill="#dfb136"/>
<circle cx="105.9" cy="475.8" r="1.0" fill="#dfb136"/>
<circle cx="171.9" cy="469.1" r="1.0" fill="#dfb136"/>
<circle cx="83.0" cy="452.0" r="1.0" fill="#dfb136"/>
<circle cx="127.0" cy="472.7" r="1.0" fill="#dfb136"/>
<circle cx="218.8" cy="409.3" r="1.0" fill="#4253a9"/>
<circle cx="220.7" cy="394.2" r="1.0" fill="#4253a9"/>
<circle cx="225.2" cy="435.4" r="1.0" fill="#4253a9"/>
<circle cx="223.7" cy="416.4" r="1.0" fill="#4253a9"/>
<circle cx="219.0" cy="426.4" r="1.0" fill="#4253a9"/>
<circle cx="233.8" cy="398.4" r="1.0" fill="#4253a9"/>
<circle cx="201.4" cy="458.4" r="1.0" fill="#4253a9"/>
<circle cx="212.7" cy="450.0" r="1.0" fill="#4253a9"/>
<circle cx="218.5" cy="417.3" r="1.0" fill="#4253a9"/>
<circle cx="222.4" cy="404.3" r="1.0" fill="#4253a9"/>
<circle cx="224.8" cy="444.2" r="1.0" fill="#4253a9"/>
<circle cx="217.7" cy="444.1" r="1.0" fill="#4253a9"/>
<circle cx="185.5" cy="462.1" r="1.0" fill="#4253a9"/>
<circle cx="222.6" cy="422.7" r="1.0" fill="#4253a9"/>
<circle cx="220.1" cy="417.9" r="1.0" fill="#4253a9"/>
<circle cx="191.3" cy="469.3" r="1.0" fill="#4253a9"/>
<circle cx="211.7" cy="450.5" r="1.0" fill="#4253a9"/>
<circle cx="209.9" cy="473.1" r="1.0" fill="#4253a9"/>
<circle cx="223.8" cy="441.6" r="1.0" fill="#4253a9"/>
<circle cx="228.9" cy="390.1" r="1.0" fill="#4253a9"/>
<circle cx="184.9" cy="463.7" r="1.0" fill="#4253a9"/>
<circle cx="203.1" cy="469.8" r="1.0" fill="#4253a9"/>
<circle cx="222.6" cy="428.3" r="1.0" fill="#4253a9"/>
<circle cx="220.8" cy="420.5" r="1.0" fill="#4253a9"/>
<circle cx="197.4" cy="458.8" r="1.0" fill="#4253a9"/>
<circle cx="218.4" cy="451.7" r="1.0" fill="#4253a9"/>
<circle cx="198.1" cy="463.9" r="1.0" fill="#4253a9"/>
<circle cx="222.3" cy="406.0" r="1.0" fill="#4253a9"/>
<circle cx="198.9" cy="462.3" r="1.0" fill="#4253a9"/>
<circle cx="186.3" cy="462.1" r="1.0" fill="#4253a9"/>
<circle cx="221.5" cy="427.7" r="1.0" fill="#4253a9"/>
<circle cx="220.9" cy="387.8" r="1.0" fill="#4253a9"/>
<circle cx="218.6" cy="446.4" r="1.0" fill="#4253a9"/>
<circle cx="224.8" cy="392.8" r="1.0" fill="#4253a9"/>
<circle cx="228.1" cy="421.3" r="1.0" fill="#4253a9"/>
<circle cx="217.5" cy="429.3" r="1.0" fill="#4253a9"/>
<circle cx="195.8" cy="482.1" r="1.0" fill="#4253a9"/>
<circle cx="196.0" cy="461.1" r="1.0" fill="#4253a9"/>
<circle cx="220.6" cy="384.4" r="1.0" fill="#4253a9"/>
<circle cx="212.5" cy="451.3" r="1.0" fill="#4253a9"/>
<circle cx="226.7" cy="402.4" r="1.0" fill="#4253a9"/>
<circle cx="218.4" cy="440.2" r="1.0" fill="#4253a9"/>
<circle cx="220.1" cy="427.9" r="1.0" fill="#4253a9"/>
<circle cx="212.2" cy="464.5" r="1.0" fill="#4253a9"/>
<circle cx="224.4" cy="402.4" r="1.0" fill="#4253a9"/>
<circle cx="224.8" cy="413.7" r="1.0" fill="#4253a9"/>
<circle cx="223.6" cy="416.9" r="1.0" fill="#4253a9"/>
<circle cx="222.8" cy="417.2" r="1.0" fill="#4253a9"/>
<circle cx="222.9" cy="455.0" r="1.0" fill="#4253a9"/>
<circle cx="219.8" cy="390.8" r="1.0" fill="#4253a9"/>
<circle cx="232.1" cy="404.2" r="1.0" fill="#4253a9"/>
<circle cx="216.9" cy="432.3" r="1.0" fill="#4253a9"/>
<circle cx="228.3" cy="396.2" r="1.0" fill="#4253a9"/>
<circle cx="221.8" cy="384.6" r="1.0" fill="#4253a9"/>
<circle cx="219.6" cy="430.7" r="1.0" fill="#4253a9"/>
<circle cx="211.5" cy="451.5" r="1.0" fill="#4253a9"/>
<circle cx="217.8" cy="422.6" r="1.0" fill="#4253a9"/>
<circle cx="192.8" cy="466.9" r="1.0" fill="#4253a9"/>
<circle cx="222.1" cy="438.3" r="1.0" fill="#4253a9"/>
<circle cx="209.6" cy="459.1" r="1.0" fill="#4253a9"/>
<circle cx="213.7" cy="456.8" r="1.0" fill="#4253a9"/>
<circle cx="189.6" cy="459.8" r="1.0" fill="#4253a9"/>
<circle cx="217.1" cy="441.9" r="1.0" fill="#4253a9"/>
<circle cx="220.2" cy="431.0" r="1.0" fill="#4253a9"/>
<circle cx="226.4" cy="404.0" r="1.0" fill="#4253a9"/>
<circle cx="221.8" cy="384.3" r="1.0" fill="#4253a9"/>
<circle cx="216.6" cy="451.3" r="1.0" fill="#4253a9"/>
<circle cx="219.3" cy="430.2" r="1.0" fill="#4253a9"/>
<circle cx="220.6" cy="404.3" r="1.0" fill="#4253a9"/>
<circle cx="218.4" cy="450.1" r="1.0" fill="#4253a9"/>
<circle cx="198.5" cy="458.9" r="1.0" fill="#4253a9"/>
<circle cx="224.3" cy="420.3" r="1.0" fill="#4253a9"/>
<circle cx="195.2" cy="458.8" r="1.0" fill="#4253a9"/>
<circle cx="198.4" cy="459.2" r="1.0" fill="#4253a9"/>
<circle cx="199.6" cy="465.4" r="1.0" fill="#4253a9"/>
<circle cx="213.7" cy="447.9" r="1.0" fill="#4253a9"/>
<circle cx="219.5" cy="395.6" r="1.0" fill="#4253a9"/>
<circle cx="234.1" cy="408.4" r="1.0" fill="#4253a9"/>
<circle cx="212.8" cy="461.5" r="1.0" fill="#4253a9"/>
<circle cx="219.2" cy="402.1" r="1.0" fill="#4253a9"/>
<circle cx="222.1" cy="392.8" r="1.0" fill="#4253a9"/>
<circle cx="226.0" cy="404.9" r="1.0" fill="#4253a9"/>
<circle cx="219.6" cy="437.2" r="1.0" fill="#4253a9"/>
<circle cx="185.8" cy="463.7" r="1.0" fill="#4253a9"/>
<circle cx="211.4" cy="456.7" r="1.0" fill="#4253a9"/>
<circle cx="220.1" cy="418.6" r="1.0" fill="#4253a9"/>
<circle cx="216.9" cy="452.3" r="1.0" fill="#4253a9"/>
<circle cx="220.6" cy="425.7" r="1.0" fill="#4253a9"/>
<circle cx="194.7" cy="458.6" r="1.0" fill="#4253a9"/>
<circle cx="192.8" cy="477.8" r="1.0" fill="#4253a9"/>
<circle cx="220.8" cy="409.8" r="1.0" fill="#4253a9"/>
<circle cx="224.8" cy="392.2" r="1.0" fill="#4253a9"/>
<circle cx="214.5" cy="444.6" r="1.0" fill="#4253a9"/>
<circle cx="211.1" cy="454.8" r="1.0" fill="#4253a9"/>
<circle cx="199.2" cy="468.1" r="1.0" fill="#4253a9"/>
<circle cx="221.5" cy="424.7" r="1.0" fill="#4253a9"/>
<circle cx="223.8" cy="420.7" r="1.0" fill="#4253a9"/>
<circle cx="204.6" cy="455.5" r="1.0" fill="#4253a9"/>
<circle cx="203.8" cy="460.6" r="1.0" fill="#4253a9"/>
<circle cx="224.3" cy="439.3" r="1.0" fill="#4253a9"/>
<circle cx="219.2" cy="435.3" r="1.0" fill="#4253a9"/>
<circle cx="193.7" cy="467.4" r="1.0" fill="#4253a9"/>
<circle cx="219.9" cy="427.5" r="1.0" fill="#4253a9"/>
<circle cx="226.0" cy="423.5" r="1.0" fill="#4253a9"/>
<circle cx="209.8" cy="464.6" r="1.0" fill="#4253a9"/>
<circle cx="219.1" cy="412.0" r="1.0" fill="#4253a9"/>
<circle cx="213.6" cy="449.2" r="1.0" fill="#4253a9"/>
<circle cx="222.1" cy="433.3" r="1.0" fill="#4253a9"/>
<circle cx="220.2" cy="392.9" r="1.0" fill="#4253a9"/>
<circle cx="215.8" cy="447.6" r="1.0" fill="#4253a9"/>
<circle cx="216.0" cy="455.1" r="1.0" fill="#4253a9"/>
<circle cx="192.9" cy="460.6" r="1.0" fill="#4253a9"/>
<circle cx="229.5" cy="398.3" r="1.0" fill="#4253a9"/>
<circle cx="224.0" cy="426.1" r="1.0" fill="#4253a9"/>
<circle cx="213.9" cy="446.4" r="1.0" fill="#4253a9"/>
<circle cx="233.1" cy="400.3" r="1.0" fill="#4253a9"/>
<circle cx="220.4" cy="393.6" r="1.0" fill="#4253a9"/>
<circle cx="220.8" cy="413.9" r="1.0" fill="#4253a9"/>
<circle cx="220.2" cy="417.5" r="1.0" fill="#4253a9"/>
<circle cx="191.6" cy="461.8" r="1.0" fill="#4253a9"/>
<circle cx="215.9" cy="465.2" r="1.0" fill="#4253a9"/>
<circle cx="190.7" cy="459.9" r="1.0" fill="#4253a9"/>
<circle cx="223.6" cy="454.1" r="1.0" fill="#4253a9"/>
<circle cx="216.6" cy="445.7" r="1.0" fill="#4253a9"/>
<circle cx="223.0" cy="432.5" r="1.0" fill="#4253a9"/>
<circle cx="212.7" cy="448.8" r="1.0" fill="#4253a9"/>
<circle cx="220.8" cy="388.9" r="1.0" fill="#4253a9"/>
<circle cx="207.7" cy="456.4" r="1.0" fill="#4253a9"/>
<circle cx="222.7" cy="388.9" r="1.0" fill="#4253a9"/>
<circle cx="221.6" cy="429.2" r="1.0" fill="#4253a9"/>
<circle cx="187.3" cy="461.1" r="1.0" fill="#4253a9"/>
<circle cx="190.6" cy="460.4" r="1.0" fill="#4253a9"/>
<circle cx="219.5" cy="400.1" r="1.0" fill="#4253a9"/>
<circle cx="215.3" cy="453.3" r="1.0" fill="#4253a9"/>
<circle cx="223.5" cy="384.3" r="1.0" fill="#4253a9"/>
<circle cx="184.5" cy="463.8" r="1.0" fill="#4253a9"/>
<circle cx="216.4" cy="462.1" r="1.0" fill="#4253a9"/>
<circle cx="232.4" cy="434.6" r="1.0" fill="#4253a9"/>
<circle cx="199.2" cy="458.6" r="1.0" fill="#4253a9"/>
<circle cx="220.2" cy="385.4" r="1.0" fill="#4253a9"/>
<circle cx="206.8" cy="464.4" r="1.0" fill="#4253a9"/>
<circle cx="228.3" cy="423.6" r="1.0" fill="#4253a9"/>
<circle cx="207.5" cy="461.2" r="1.0" fill="#4253a9"/>
<circle cx="216.1" cy="442.3" r="1.0" fill="#4253a9"/>
<circle cx="216.4" cy="442.7" r="1.0" fill="#4253a9"/>
<circle cx="187.3" cy="463.0" r="1.0" fill="#4253a9"/>
<circle cx="220.0" cy="440.1" r="1.0" fill="#4253a9"/>
<circle cx="203.9" cy="455.6" r="1.0" fill="#4253a9"/>
<circle cx="214.6" cy="446.2" r="1.0" fill="#4253a9"/>
<circle cx="218.6" cy="421.6" r="1.0" fill="#4253a9"/>
<circle cx="224.9" cy="444.5" r="1.0" fill="#4253a9"/>
<circle cx="218.8" cy="455.2" r="1.0" fill="#4253a9"/>
<circle cx="222.5" cy="412.2" r="1.0" fill="#4253a9"/>
<circle cx="223.9" cy="432.4" r="1.0" fill="#4253a9"/>
<circle cx="224.8" cy="408.9" r="1.0" fill="#4253a9"/>
<circle cx="222.2" cy="394.3" r="1.0" fill="#4253a9"/>
<circle cx="214.6" cy="444.9" r="1.0" fill="#4253a9"/>
<circle cx="217.0" cy="455.5" r="1.0" fill="#4253a9"/>
<circle cx="224.9" cy="412.8" r="1.0" fill="#4253a9"/>
<circle cx="218.9" cy="426.7" r="1.0" fill="#4253a9"/>
<circle cx="221.9" cy="422.9" r="1.0" fill="#4253a9"/>
<circle cx="191.9" cy="462.7" r="1.0" fill="#4253a9"/>
<circle cx="222.5" cy="426.5" r="1.0" fill="#4253a9"/>
<circle cx="219.4" cy="394.3" r="1.0" fill="#4253a9"/>
<circle cx="220.6" cy="453.9" r="1.0" fill="#4253a9"/>
<circle cx="228.7" cy="445.7" r="1.0" fill="#4253a9"/>
<circle cx="205.5" cy="457.0" r="1.0" fill="#4253a9"/>
<circle cx="217.7" cy="423.2" r="1.0" fill="#4253a9"/>
<circle cx="207.2" cy="464.9" r="1.0" fill="#4253a9"/>
<circle cx="210.3" cy="476.1" r="1.0" fill="#4253a9"/>
<circle cx="224.3" cy="428.6" r="1.0" fill="#4253a9"/>
<circle cx="219.2" cy="385.9" r="1.0" fill="#4253a9"/>
<circle cx="216.4" cy="441.0" r="1.0" fill="#4253a9"/>
<circle cx="220.3" cy="433.3" r="1.0" fill="#4253a9"/>
<circle cx="223.7" cy="382.2" r="1.0" fill="#4253a9"/>
<circle cx="219.5" cy="445.0" r="1.0" fill="#4253a9"/>
<circle cx="223.6" cy="383.0" r="1.0" fill="#4253a9"/>
<circle cx="200.4" cy="457.5" r="1.0" fill="#4253a9"/>
<circle cx="201.1" cy="456.2" r="1.0" fill="#4253a9"/>
<circle cx="213.1" cy="447.5" r="1.0" fill="#4253a9"/>
<circle cx="223.1" cy="438.9" r="1.0" fill="#4253a9"/>
<circle cx="223.0" cy="381.3" r="1.0" fill="#4253a9"/>
<circle cx="222.3" cy="390.3" r="1.0" fill="#4253a9"/>
<circle cx="187.2" cy="467.1" r="1.0" fill="#4253a9"/>
<circle cx="213.3" cy="457.5" r="1.0" fill="#4253a9"/>
<circle cx="221.7" cy="423.4" r="1.0" fill="#4253a9"/>
<circle cx="219.4" cy="428.8" r="1.0" fill="#4253a9"/>
<circle cx="203.5" cy="457.6" r="1.0" fill="#4253a9"/>
<circle cx="184.1" cy="461.3" r="1.0" fill="#4253a9"/>
<circle cx="229.4" cy="392.4" r="1.0" fill="#4253a9"/>
<circle cx="219.3" cy="413.5" r="1.0" fill="#4253a9"/>
<circle cx="222.5" cy="436.7" r="1.0" fill="#4253a9"/>
<circle cx="218.3" cy="418.9" r="1.0" fill="#4253a9"/>
<circle cx="229.3" cy="442.2" r="1.0" fill="#4253a9"/>
<circle cx="219.3" cy="412.7" r="1.0" fill="#4253a9"/>
<circle cx="218.8" cy="465.7" r="1.0" fill="#4253a9"/>
<circle cx="223.7" cy="449.6" r="1.0" fill="#4253a9"/>
<circle cx="219.8" cy="439.3" r="1.0" fill="#4253a9"/>
<circle cx="200.3" cy="464.1" r="1.0" fill="#4253a9"/>
<circle cx="222.9" cy="424.2" r="1.0" fill="#4253a9"/>
<circle cx="220.0" cy="385.0" r="1.0" fill="#4253a9"/>
<circle cx="215.8" cy="458.4" r="1.0" fill="#4253a9"/>
<circle cx="214.3" cy="446.5" r="1.0" fill="#4253a9"/>
<circle cx="222.3" cy="437.0" r="1.0" fill="#4253a9"/>
<circle cx="222.0" cy="426.5" r="1.0" fill="#4253a9"/>
<circle cx="191.4" cy="470.8" r="1.0" fill="#4253a9"/>
<circle cx="220.5" cy="390.3" r="1.0" fill="#4253a9"/>
<circle cx="186.2" cy="466.1" r="1.0" fill="#4253a9"/>
<circle cx="212.3" cy="449.9" r="1.0" fill="#4253a9"/>
<circle cx="230.5" cy="421.5" r="1.0" fill="#4253a9"/>
<circle cx="195.0" cy="462.7" r="1.0" fill="#4253a9"/>
<circle cx="220.4" cy="404.9" r="1.0" fill="#4253a9"/>
<circle cx="204.9" cy="460.8" r="1.0" fill="#4253a9"/>
<circle cx="215.7" cy="449.5" r="1.0" fill="#4253a9"/>
<circle cx="186.7" cy="470.2" r="1.0" fill="#4253a9"/>
<circle cx="219.1" cy="445.4" r="1.0" fill="#4253a9"/>
<circle cx="223.5" cy="391.9" r="1.0" fill="#4253a9"/>
<circle cx="204.6" cy="456.7" r="1.0" fill="#4253a9"/>
<circle cx="197.2" cy="462.0" r="1.0" fill="#4253a9"/>
<circle cx="198.1" cy="463.3" r="1.0" fill="#4253a9"/>
<circle cx="230.6" cy="391.5" r="1.0" fill="#4253a9"/>
<circle cx="201.7" cy="456.6" r="1.0" fill="#4253a9"/>
<circle cx="188.6" cy="464.0" r="1.0" fill="#4253a9"/>
<circle cx="194.9" cy="458.5" r="1.0" fill="#4253a9"/>
<circle cx="227.3" cy="445.1" r="1.0" fill="#4253a9"/>
<circle cx="229.4" cy="396.9" r="1.0" fill="#4253a9"/>
<circle cx="199.7" cy="457.0" r="1.0" fill="#4253a9"/>
<circle cx="222.6" cy="410.9" r="1.0" fill="#4253a9"/>
<circle cx="198.5" cy="470.4" r="1.0" fill="#4253a9"/>
<circle cx="225.7" cy="431.8" r="1.0" fill="#4253a9"/>
<circle cx="217.5" cy="451.4" r="1.0" fill="#4253a9"/>
<circle cx="223.5" cy="430.1" r="1.0" fill="#4253a9"/>
<circle cx="218.6" cy="442.7" r="1.0" fill="#4253a9"/>
<circle cx="194.3" cy="460.4" r="1.0" fill="#4253a9"/>
<circle cx="203.4" cy="457.7" r="1.0" fill="#4253a9"/>
<circle cx="218.6" cy="414.4" r="1.0" fill="#4253a9"/>
<circle cx="210.4" cy="458.5" r="1.0" fill="#4253a9"/>
<circle cx="221.5" cy="392.4" r="1.0" fill="#4253a9"/>
<circle cx="220.0" cy="390.6" r="1.0" fill="#4253a9"/>
<circle cx="226.8" cy="406.5" r="1.0" fill="#4253a9"/>
<circle cx="225.4" cy="358.1" r="1.0" fill="#82dbe0"/>
<circle cx="225.0" cy="361.6" r="1.0" fill="#82dbe0"/>
<circle cx="224.6" cy="356.0" r="1.0" fill="#82dbe0"/>
<circle cx="224.8" cy="357.9" r="1.0" fill="#82dbe0"/>
<circle cx="224.1" cy="356.6" r="1.0" fill="#82dbe0"/>
<circle cx="225.3" cy="367.3" r="1.0" fill="#82dbe0"/>
<circle cx="225.4" cy="368.7" r="1.0" fill="#82dbe0"/>
<circle cx="227.6" cy="366.0" r="1.0" fill="#82dbe0"/>
<circle cx="227.2" cy="366.5" r="1.0" fill="#82dbe0"/>
<circle cx="224.5" cy="359.1" r="1.0" fill="#82dbe0"/>
<circle cx="225.8" cy="364.2" r="1.0" fill="#82dbe0"/>
<circle cx="226.3" cy="374.9" r="1.0" fill="#82dbe0"/>
<circle cx="225.3" cy="372.8" r="1.0" fill="#82dbe0"/>
<circle cx="228.7" cy="366.2" r="1.0" fill="#82dbe0"/>
<circle cx="224.7" cy="357.8" r="1.0" fill="#82dbe0"/>
<circle cx="225.9" cy="378.1" r="1.0" fill="#82dbe0"/>
<circle cx="228.7" cy="367.7" r="1.0" fill="#82dbe0"/>
<circle cx="224.4" cy="378.7" r="1.0" fill="#82dbe0"/>
<circle cx="224.4" cy="379.8" r="1.0" fill="#82dbe0"/>
<circle cx="225.1" cy="366.7" r="1.0" fill="#82dbe0"/>
<circle cx="226.8" cy="367.0" r="1.0" fill="#82dbe0"/>
<circle cx="226.5" cy="363.3" r="1.0" fill="#82dbe0"/>
<circle cx="224.8" cy="375.6" r="1.0" fill="#82dbe0"/>
<circle cx="225.6" cy="374.0" r="1.0" fill="#82dbe0"/>
<circle cx="224.3" cy="356.3" r="1.0" fill="#82dbe0"/>
<circle cx="225.0" cy="369.9" r="1.0" fill="#82dbe0"/>
<circle cx="224.4" cy="358.6" r="1.0" fill="#82dbe0"/>
<circle cx="227.6" cy="368.8" r="1.0" fill="#82dbe0"/>
<circle cx="226.5" cy="361.3" r="1.0" fill="#82dbe0"/>
<circle cx="225.4" cy="365.7" r="1.0" fill="#82dbe0"/>
<circle cx="228.2" cy="370.2" r="1.0" fill="#82dbe0"/>
<circle cx="228.2" cy="356.8" r="1.0" fill="#82dbe0"/>
<circle cx="224.9" cy="371.7" r="1.0" fill="#82dbe0"/>
<circle cx="225.6" cy="370.4" r="1.0" fill="#82dbe0"/>
<circle cx="227.6" cy="363.7" r="1.0" fill="#82dbe0"/>
<circle cx="227.1" cy="366.9" r="1.0" fill="#82dbe0"/>
<circle cx="225.3" cy="356.2" r="1.0" fill="#82dbe0"/>
<circle cx="226.2" cy="364.6" r="1.0" fill="#82dbe0"/>
<circle cx="225.5" cy="376.6" r="1.0" fill="#82dbe0"/>
<circle cx="225.9" cy="369.8" r="1.0" fill="#82dbe0"/>
<circle cx="86.1" cy="418.5" r="0.7" fill="#fff" opacity="0.8"/>
<circle cx="90.6" cy="425.2" r="0.7" fill="#fff" opacity="0.8"/>
<circle cx="99.3" cy="364.4" r="0.7" fill="#fff" opacity="0.8"/>
<circle cx="111.9" cy="410.1" r="0.7" fill="#fff" opacity="0.8"/>
<circle cx="106.4" cy="410.8" r="0.7" fill="#fff" opacity="0.8"/>
<circle cx="99.7" cy="374.0" r="0.7" fill="#fff" opacity="0.8"/>
<circle cx="99.6" cy="455.1" r="0.7" fill="#fff" opacity="0.8"/>
<circle cx="95.8" cy="440.8" r="0.7" fill="#fff" opacity="0.8"/>
<circle cx="100.8" cy="364.2" r="0.7" fill="#fff" opacity="0.8"/>
<circle cx="103.8" cy="423.8" r="0.7" fill="#fff" opacity="0.8"/>
<circle cx="88.2" cy="360.5" r="0.7" fill="#fff" opacity="0.8"/>
<circle cx="107.4" cy="410.4" r="0.7" fill="#fff" opacity="0.8"/>
<circle cx="102.4" cy="456.3" r="0.7" fill="#fff" opacity="0.8"/>
<circle cx="102.3" cy="461.1" r="0.7" fill="#fff" opacity="0.8"/>
<circle cx="91.4" cy="447.5" r="0.7" fill="#fff" opacity="0.8"/>
<circle cx="107.9" cy="368.0" r="0.7" fill="#fff" opacity="0.8"/>
<circle cx="110.8" cy="406.3" r="0.7" fill="#fff" opacity="0.8"/>
<circle cx="99.3" cy="391.0" r="0.7" fill="#fff" opacity="0.8"/>
<circle cx="95.2" cy="400.6" r="0.7" fill="#fff" opacity="0.8"/>
<circle cx="89.9" cy="423.1" r="0.7" fill="#fff" opacity="0.8"/>
<circle cx="97.9" cy="459.2" r="0.7" fill="#fff" opacity="0.8"/>
<circle cx="101.2" cy="462.0" r="0.7" fill="#fff" opacity="0.8"/>
<circle cx="100.8" cy="375.4" r="0.7" fill="#fff" opacity="0.8"/>
<circle cx="107.3" cy="466.0" r="0.7" fill="#fff" opacity="0.8"/>
<circle cx="108.8" cy="421.3" r="0.7" fill="#fff" opacity="0.8"/>
<circle cx="102.3" cy="380.9" r="0.7" fill="#fff" opacity="0.8"/>
<circle cx="106.3" cy="421.8" r="0.7" fill="#fff" opacity="0.8"/>
<circle cx="87.7" cy="364.2" r="0.7" fill="#fff" opacity="0.8"/>
<circle cx="92.0" cy="374.0" r="0.7" fill="#fff" opacity="0.8"/>
<circle cx="88.0" cy="443.9" r="0.7" fill="#fff" opacity="0.8"/>
<circle cx="107.7" cy="362.0" r="0.7" fill="#fff" opacity="0.8"/>
<circle cx="98.9" cy="362.1" r="0.7" fill="#fff" opacity="0.8"/>
<circle cx="102.4" cy="394.4" r="0.7" fill="#fff" opacity="0.8"/>
<circle cx="88.5" cy="365.7" r="0.7" fill="#fff" opacity="0.8"/>
<circle cx="98.4" cy="360.5" r="0.7" fill="#fff" opacity="0.8"/>
<circle cx="98.8" cy="374.7" r="0.7" fill="#fff" opacity="0.8"/>
<circle cx="108.5" cy="399.7" r="0.7" fill="#fff" opacity="0.8"/>
<circle cx="93.7" cy="415.8" r="0.7" fill="#fff" opacity="0.8"/>
<circle cx="99.9" cy="424.3" r="0.7" fill="#fff" opacity="0.8"/>
<circle cx="97.0" cy="427.1" r="0.7" fill="#fff" opacity="0.8"/>
<circle cx="110.0" cy="414.3" r="0.7" fill="#fff" opacity="0.8"/>
<circle cx="92.7" cy="438.4" r="0.7" fill="#fff" opacity="0.8"/>
<circle cx="111.2" cy="415.9" r="0.7" fill="#fff" opacity="0.8"/>
<circle cx="96.6" cy="358.3" r="0.7" fill="#fff" opacity="0.8"/>
<circle cx="92.1" cy="422.5" r="0.7" fill="#fff" opacity="0.8"/>
<circle cx="78.7" cy="426.6" r="0.7" fill="#fff" opacity="0.8"/>
<circle cx="99.5" cy="363.8" r="0.7" fill="#fff" opacity="0.8"/>
<path d="M39.8,348.3 V505.6 H243.7" fill="none" stroke="#222" stroke-width="1"/>
<path d="M39.8,505.60h3M39.80,505.6v-3M39.8,499.68h1.8M47.47,505.6v-1.8M39.8,496.22h1.8M51.96,505.6v-1.8M39.8,493.76h1.8M55.15,505.6v-1.8M39.8,491.86h1.8M57.61,505.6v-1.8M39.8,490.30h1.8M59.63,505.6v-1.8M39.8,488.98h1.8M61.34,505.6v-1.8M39.8,487.84h1.8M62.82,505.6v-1.8M39.8,486.84h1.8M64.12,505.6v-1.8M39.8,485.94h3M65.29,505.6v-3M39.8,480.02h1.8M72.96,505.6v-1.8M39.8,476.56h1.8M77.45,505.6v-1.8M39.8,474.10h1.8M80.63,505.6v-1.8M39.8,472.19h1.8M83.10,505.6v-1.8M39.8,470.64h1.8M85.12,505.6v-1.8M39.8,469.32h1.8M86.83,505.6v-1.8M39.8,468.18h1.8M88.31,505.6v-1.8M39.8,467.17h1.8M89.61,505.6v-1.8M39.8,466.28h3M90.77,505.6v-3M39.8,460.36h1.8M98.45,505.6v-1.8M39.8,456.89h1.8M102.94,505.6v-1.8M39.8,454.44h1.8M106.12,505.6v-1.8M39.8,452.53h1.8M108.59,505.6v-1.8M39.8,450.97h1.8M110.61,505.6v-1.8M39.8,449.66h1.8M112.31,505.6v-1.8M39.8,448.52h1.8M113.79,505.6v-1.8M39.8,447.51h1.8M115.10,505.6v-1.8M39.8,446.61h3M116.26,505.6v-3M39.8,440.69h1.8M123.94,505.6v-1.8M39.8,437.23h1.8M128.42,505.6v-1.8M39.8,434.77h1.8M131.61,505.6v-1.8M39.8,432.87h1.8M134.08,505.6v-1.8M39.8,431.31h1.8M136.10,505.6v-1.8M39.8,430.00h1.8M137.80,505.6v-1.8M39.8,428.86h1.8M139.28,505.6v-1.8M39.8,427.85h1.8M140.58,505.6v-1.8M39.8,426.95h3M141.75,505.6v-3M39.8,421.03h1.8M149.42,505.6v-1.8M39.8,417.57h1.8M153.91,505.6v-1.8M39.8,415.11h1.8M157.10,505.6v-1.8M39.8,413.21h1.8M159.56,505.6v-1.8M39.8,411.65h1.8M161.58,505.6v-1.8M39.8,410.33h1.8M163.29,505.6v-1.8M39.8,409.19h1.8M164.77,505.6v-1.8M39.8,408.19h1.8M166.07,505.6v-1.8M39.8,407.29h3M167.24,505.6v-3M39.8,401.37h1.8M174.91,505.6v-1.8M39.8,397.91h1.8M179.40,505.6v-1.8M39.8,395.45h1.8M182.58,505.6v-1.8M39.8,393.54h1.8M185.05,505.6v-1.8M39.8,391.99h1.8M187.07,505.6v-1.8M39.8,390.67h1.8M188.78,505.6v-1.8M39.8,389.53h1.8M190.26,505.6v-1.8M39.8,388.52h1.8M191.56,505.6v-1.8M39.8,387.62h3M192.72,505.6v-3M39.8,381.71h1.8M200.40,505.6v-1.8M39.8,378.24h1.8M204.89,505.6v-1.8M39.8,375.79h1.8M208.07,505.6v-1.8M39.8,373.88h1.8M210.54,505.6v-1.8M39.8,372.32h1.8M212.56,505.6v-1.8M39.8,371.01h1.8M214.26,505.6v-1.8M39.8,369.87h1.8M215.74,505.6v-1.8M39.8,368.86h1.8M217.05,505.6v-1.8M39.8,367.96h3M218.21,505.6v-3M39.8,362.04h1.8M225.89,505.6v-1.8M39.8,358.58h1.8M230.37,505.6v-1.8M39.8,356.12h1.8M233.56,505.6v-1.8M39.8,354.22h1.8M236.03,505.6v-1.8M39.8,352.66h1.8M238.05,505.6v-1.8M39.8,351.35h1.8M239.75,505.6v-1.8M39.8,350.21h1.8M241.23,505.6v-1.8M39.8,349.20h1.8M242.53,505.6v-1.8M39.8,348.30h3M243.70,505.6v-3" stroke="#222" stroke-width="0.7" fill="none"/>
<text x="35.8" y="512.5" font-size="9.2" text-anchor="end" fill="#333" stroke="#333" stroke-width="0.18">10<tspan dy="-4.2" font-size="6.6">-4</tspan></text>
<text x="35.8" y="473.2" font-size="9.2" text-anchor="end" fill="#333" stroke="#333" stroke-width="0.18">10<tspan dy="-4.2" font-size="6.6">-2</tspan></text>
<text x="35.8" y="433.9" font-size="9.2" text-anchor="end" fill="#333" stroke="#333" stroke-width="0.18">10<tspan dy="-4.2" font-size="6.6">0</tspan></text>
<text x="35.8" y="394.5" font-size="9.2" text-anchor="end" fill="#333" stroke="#333" stroke-width="0.18">10<tspan dy="-4.2" font-size="6.6">2</tspan></text>
<text x="35.8" y="355.2" font-size="9.2" text-anchor="end" fill="#333" stroke="#333" stroke-width="0.18">10<tspan dy="-4.2" font-size="6.6">4</tspan></text>
<text x="44.7" y="521.2" font-size="8.8" text-anchor="middle" fill="#333" stroke="#333" stroke-width="0.18">10 <tspan dy="-4.6" font-size="6.5">-4</tspan></text>
<text x="86.6" y="521.2" font-size="8.8" text-anchor="middle" fill="#333" stroke="#333" stroke-width="0.18">10<tspan dy="-4.6" font-size="6.5">-2</tspan></text>
<text x="137.7" y="521.2" font-size="8.8" text-anchor="middle" fill="#333" stroke="#333" stroke-width="0.18">10<tspan dy="-4.6" font-size="6.5">0</tspan></text>
<text x="189.0" y="521.2" font-size="8.8" text-anchor="middle" fill="#333" stroke="#333" stroke-width="0.18">10<tspan dy="-4.6" font-size="6.5">2</tspan></text>
<text x="240.4" y="521.2" font-size="8.8" text-anchor="middle" fill="#333" stroke="#333" stroke-width="0.18">10<tspan dy="-4.6" font-size="6.5">4</tspan></text>
<text x="76.6" y="538.2" font-size="8.6" textLength="119.4" lengthAdjust="spacingAndGlyphs" fill="#333" stroke="#333" stroke-width="0.22" >Intensity LactC2-mCherry (A.U)</text>
<text x="12.7" y="425" font-size="8.6" text-anchor="middle" textLength="88" lengthAdjust="spacingAndGlyphs" transform="rotate(-90 12.7 425)" fill="#333" stroke="#333" stroke-width="0.22" >Intensity dsGreen (A.U)</text>
<text x="150.6" y="365.8" font-size="9.2" text-anchor="middle" font-weight="bold" fill="#151515" >ROI 1</text>
<text x="150.6" y="378" font-size="9.2" text-anchor="middle" font-weight="bold" fill="#151515" >31.1 %</text>
<text x="207.8" y="365.8" font-size="9.2" text-anchor="middle" font-weight="bold" fill="#151515" >ROI 2</text>
<text x="207.8" y="378" font-size="9.2" text-anchor="middle" font-weight="bold" fill="#151515" >8.5 %</text>
<text x="150.6" y="417.9" font-size="9.2" text-anchor="middle" font-weight="bold" fill="#151515" >ROI 3</text>
<text x="150.6" y="431" font-size="9.2" text-anchor="middle" font-weight="bold" fill="#151515" >50.8 %</text>
<text x="206.6" y="417.9" font-size="9.2" text-anchor="middle" font-weight="bold" fill="#151515" >ROI 4</text>
<text x="206.6" y="431" font-size="9.2" text-anchor="middle" font-weight="bold" fill="#151515" >9.6 %</text>
<rect x="312.3" y="353.9" width="16.2" height="6.1" fill="#5a61af"/>
<rect x="312.3" y="360" width="16.2" height="92.4" fill="#eb9632"/>
<rect x="312.3" y="452.4" width="16.2" height="3.4" fill="#a5e6e6"/>
<rect x="312.3" y="455.8" width="16.2" height="51.6" fill="#b455aa"/>
<path d="M312.3,360h16.2M312.3,452.4h16.2M312.3,455.8h16.2" stroke="#333" stroke-width="0.8"/>
<rect x="312.3" y="353.9" width="16.2" height="153.5" fill="none" stroke="#333" stroke-width="0.9"/>
<rect x="337.3" y="353.9" width="16.2" height="7.1" fill="#5a61af"/>
<rect x="337.3" y="361" width="16.2" height="119.7" fill="#eb9632"/>
<rect x="337.3" y="480.7" width="16.2" height="3.0" fill="#a5e6e6"/>
<rect x="337.3" y="483.7" width="16.2" height="23.7" fill="#b455aa"/>
<path d="M337.3,361h16.2M337.3,480.7h16.2M337.3,483.7h16.2" stroke="#333" stroke-width="0.8"/>
<rect x="337.3" y="353.9" width="16.2" height="153.5" fill="none" stroke="#333" stroke-width="0.9"/>
<rect x="362.2" y="353.9" width="16.2" height="2.7" fill="#5a61af"/>
<rect x="362.2" y="356.6" width="16.2" height="59.2" fill="#eb9632"/>
<rect x="362.2" y="415.8" width="16.2" height="2.7" fill="#a5e6e6"/>
<rect x="362.2" y="418.5" width="16.2" height="88.9" fill="#b455aa"/>
<path d="M362.2,356.6h16.2M362.2,415.8h16.2M362.2,418.5h16.2" stroke="#333" stroke-width="0.8"/>
<rect x="362.2" y="353.9" width="16.2" height="153.5" fill="none" stroke="#333" stroke-width="0.9"/>
<rect x="387.2" y="353.9" width="16.2" height="29.6" fill="#5a61af"/>
<rect x="387.2" y="383.5" width="16.2" height="64.3" fill="#eb9632"/>
<rect x="387.2" y="447.8" width="16.2" height="20.2" fill="#a5e6e6"/>
<rect x="387.2" y="468.0" width="16.2" height="39.4" fill="#b455aa"/>
<path d="M387.2,383.5h16.2M387.2,447.8h16.2M387.2,468.0h16.2" stroke="#333" stroke-width="0.8"/>
<rect x="387.2" y="353.9" width="16.2" height="153.5" fill="none" stroke="#333" stroke-width="0.9"/>
<rect x="412.1" y="353.9" width="16.2" height="35.9" fill="#5a61af"/>
<rect x="412.1" y="389.8" width="16.2" height="46.5" fill="#eb9632"/>
<rect x="412.1" y="436.3" width="16.2" height="34.0" fill="#a5e6e6"/>
<rect x="412.1" y="470.3" width="16.2" height="37.1" fill="#b455aa"/>
<path d="M412.1,389.8h16.2M412.1,436.3h16.2M412.1,470.3h16.2" stroke="#333" stroke-width="0.8"/>
<rect x="412.1" y="353.9" width="16.2" height="153.5" fill="none" stroke="#333" stroke-width="0.9"/>
<path d="M304.0,349.9 V507.4 H438.4" fill="none" stroke="#333" stroke-width="1"/>
<path d="M304.0,507.40h-7M304.0,499.72h-4M304.0,492.05h-4M304.0,484.38h-4M304.0,476.70h-4M304.0,469.02h-4M304.0,461.35h-4M304.0,453.67h-4M304.0,446.00h-4M304.0,438.32h-4M304.0,430.65h-7M304.0,422.97h-4M304.0,415.30h-4M304.0,407.62h-4M304.0,399.95h-4M304.0,392.27h-4M304.0,384.60h-4M304.0,376.92h-4M304.0,369.25h-4M304.0,361.57h-4M304.0,353.90h-7M320.40000000000003,507.4v6.5M345.40000000000003,507.4v6.5M370.3,507.4v6.5M395.3,507.4v6.5M420.20000000000005,507.4v6.5" stroke="#333" stroke-width="0.9" fill="none"/>
<text x="293.5" y="356.9" font-size="8.4" text-anchor="end" fill="#333" stroke="#333" stroke-width="0.22" >100</text>
<text x="293.5" y="433.9" font-size="8.4" text-anchor="end" fill="#333" stroke="#333" stroke-width="0.22" >50</text>
<text x="293.5" y="510.4" font-size="8.4" text-anchor="end" fill="#333" stroke="#333" stroke-width="0.22" >0</text>
<text x="274.7" y="421.7" font-size="8.4" text-anchor="middle" textLength="93" lengthAdjust="spacingAndGlyphs" transform="rotate(-90 274.7 421.7)" fill="#333" stroke="#333" stroke-width="0.22" >Percentage gated (%)</text>
<text x="323.40000000000003" y="522.5" font-size="8.4" text-anchor="end" transform="rotate(-45 323.40000000000003 522.5)" fill="#333" stroke="#333" stroke-width="0.22" >Rep 1</text>
<text x="348.40000000000003" y="522.5" font-size="8.4" text-anchor="end" transform="rotate(-45 348.40000000000003 522.5)" fill="#333" stroke="#333" stroke-width="0.22" >Rep 2</text>
<text x="373.3" y="522.5" font-size="8.4" text-anchor="end" transform="rotate(-45 373.3 522.5)" fill="#333" stroke="#333" stroke-width="0.22" >Rep 3</text>
<text x="398.3" y="522.5" font-size="8.4" text-anchor="end" transform="rotate(-45 398.3 522.5)" fill="#333" stroke="#333" stroke-width="0.22" >Rep 4</text>
<text x="423.20000000000005" y="522.5" font-size="8.4" text-anchor="end" transform="rotate(-45 423.20000000000005 522.5)" fill="#333" stroke="#333" stroke-width="0.22" >Rep 5</text>
<rect x="293.29999999999995" y="331.6" width="5.2" height="5.2" fill="#b455aa" stroke="#333" stroke-width="0.8"/>
<text x="305.5" y="337.2" font-size="8.4" textLength="20.5" lengthAdjust="spacingAndGlyphs" fill="#333" stroke="#333" stroke-width="0.22" >ROI 1</text>
<rect x="331.59999999999997" y="331.6" width="5.2" height="5.2" fill="#eb9632" stroke="#333" stroke-width="0.8"/>
<text x="342.3" y="337.2" font-size="8.4" textLength="20.5" lengthAdjust="spacingAndGlyphs" fill="#333" stroke="#333" stroke-width="0.22" >ROI 3</text>
<rect x="369.0" y="331.6" width="5.2" height="5.2" fill="#a5e6e6" stroke="#333" stroke-width="0.8"/>
<text x="378.8" y="337.2" font-size="8.4" textLength="20.5" lengthAdjust="spacingAndGlyphs" fill="#333" stroke="#333" stroke-width="0.22" >ROI 2</text>
<rect x="404.9" y="331.6" width="5.2" height="5.2" fill="#5a61af" stroke="#333" stroke-width="0.8"/>
<text x="416.4" y="337.2" font-size="8.4" textLength="20.5" lengthAdjust="spacingAndGlyphs" fill="#333" stroke="#333" stroke-width="0.22" >ROI 4</text>
<path d="M500.5,358.3 V506.4 H567" fill="none" stroke="#333" stroke-width="1"/>
<path d="M500.5,506.40h-5.5M500.5,500.83h-2.5M500.5,497.57h-2.5M500.5,495.25h-2.5M500.5,493.46h-2.5M500.5,491.99h-2.5M500.5,490.76h-2.5M500.5,489.68h-2.5M500.5,488.73h-2.5M500.5,487.89h-3.5M500.5,482.31h-2.5M500.5,479.05h-2.5M500.5,476.74h-2.5M500.5,474.95h-2.5M500.5,473.48h-2.5M500.5,472.24h-2.5M500.5,471.17h-2.5M500.5,470.22h-2.5M500.5,469.38h-5.5M500.5,463.80h-2.5M500.5,460.54h-2.5M500.5,458.23h-2.5M500.5,456.44h-2.5M500.5,454.97h-2.5M500.5,453.73h-2.5M500.5,452.66h-2.5M500.5,451.71h-2.5M500.5,450.86h-3.5M500.5,445.29h-2.5M500.5,442.03h-2.5M500.5,439.72h-2.5M500.5,437.92h-2.5M500.5,436.46h-2.5M500.5,435.22h-2.5M500.5,434.14h-2.5M500.5,433.20h-2.5M500.5,432.35h-5.5M500.5,426.78h-2.5M500.5,423.52h-2.5M500.5,421.20h-2.5M500.5,419.41h-2.5M500.5,417.94h-2.5M500.5,416.71h-2.5M500.5,415.63h-2.5M500.5,414.68h-2.5M500.5,413.84h-3.5M500.5,408.26h-2.5M500.5,405.00h-2.5M500.5,402.69h-2.5M500.5,400.90h-2.5M500.5,399.43h-2.5M500.5,398.19h-2.5M500.5,397.12h-2.5M500.5,396.17h-2.5M500.5,395.32h-5.5M500.5,389.75h-2.5M500.5,386.49h-2.5M500.5,384.18h-2.5M500.5,382.39h-2.5M500.5,380.92h-2.5M500.5,379.68h-2.5M500.5,378.61h-2.5M500.5,377.66h-2.5M500.5,376.81h-3.5M500.5,371.24h-2.5M500.5,367.98h-2.5M500.5,365.67h-2.5M500.5,363.87h-2.5M500.5,362.41h-2.5M500.5,361.17h-2.5M500.5,360.09h-2.5M500.5,359.15h-2.5M500.5,358.30h-5.5M510.5,506.4v6.5M525.7,506.4v6.5M541.0,506.4v6.5M556.2,506.4v6.5" stroke="#333" stroke-width="0.8" fill="none"/>
<text x="492.8" y="511.0" font-size="9" text-anchor="end" fill="#333" stroke="#333" stroke-width="0.18">10<tspan dy="-3.8" font-size="6.5">-4</tspan></text>
<text x="492.8" y="474.0" font-size="9" text-anchor="end" fill="#333" stroke="#333" stroke-width="0.18">10<tspan dy="-3.8" font-size="6.5">-2</tspan></text>
<text x="492.8" y="437.0" font-size="9" text-anchor="end" fill="#333" stroke="#333" stroke-width="0.18">10<tspan dy="-3.8" font-size="6.5">0</tspan></text>
<text x="492.8" y="399.9" font-size="9" text-anchor="end" fill="#333" stroke="#333" stroke-width="0.18">10<tspan dy="-3.8" font-size="6.5">2</tspan></text>
<text x="492.8" y="362.9" font-size="9" text-anchor="end" fill="#333" stroke="#333" stroke-width="0.18">10<tspan dy="-3.8" font-size="6.5">4</tspan></text>
<text x="470.7" y="426" font-size="8.6" text-anchor="middle" textLength="92" lengthAdjust="spacingAndGlyphs" transform="rotate(-90 470.7 426)" fill="#333" stroke="#333" stroke-width="0.22" >dsGreen Intensity (A.U)</text>
<text x="514.2" y="521.5" font-size="8.4" text-anchor="end" transform="rotate(-45 514.2 521.5)" fill="#333" stroke="#333" stroke-width="0.22" >ROI 1</text>
<text x="529.4000000000001" y="521.5" font-size="8.4" text-anchor="end" transform="rotate(-45 529.4000000000001 521.5)" fill="#333" stroke="#333" stroke-width="0.22" >ROI 2</text>
<text x="544.7" y="521.5" font-size="8.4" text-anchor="end" transform="rotate(-45 544.7 521.5)" fill="#333" stroke="#333" stroke-width="0.22" >ROI 3</text>
<text x="559.9000000000001" y="521.5" font-size="8.4" text-anchor="end" transform="rotate(-45 559.9000000000001 521.5)" fill="#333" stroke="#333" stroke-width="0.22" >ROI 4</text>
<polygon points="506.4,365.3 506.4,367.3 507.8,368.3 507.1,372.0 506.0,376.0 505.5,380.0 506.0,384.0 507.1,388.0 508.1,390.8 513.1,390.8 514.1,388.0 515.2,384.0 515.7,380.0 515.2,376.0 514.1,372.0 513.4,368.3 514.8,367.3 514.8,365.3" fill="#7f40a2"/>
<polygon points="524.6,365.3 524.2,368.0 523.0,372.0 522.0,376.0 521.2,380.0 521.4,384.0 522.6,388.0 523.8,390.5 527.8,390.5 529.0,388.0 530.2,384.0 530.4,380.0 529.6,376.0 528.6,372.0 527.4,368.0 527.0,365.3" fill="#7fd9dc"/>
<polygon points="537.8,389.3 538.3,395.0 538.5,402.0 537.9,410.0 536.7,420.0 536.0,433.0 536.7,445.0 538.5,455.0 539.6,465.0 540.1,475.0 540.5,485.6 541.7,485.6 542.1,475.0 542.6,465.0 543.7,455.0 545.5,445.0 546.2,433.0 545.5,420.0 544.3,410.0 543.7,402.0 543.9,395.0 544.4,389.3" fill="#ea8130"/>
<polygon points="551.1,389.3 551.6,400.0 552.3,410.0 551.5,420.0 550.8,431.0 551.3,442.0 552.1,450.0 553.5,460.0 554.7,470.0 555.2,478.0 555.5,483.3 556.7,483.3 557.0,478.0 557.5,470.0 558.7,460.0 560.1,450.0 560.9,442.0 561.4,431.0 560.7,420.0 559.9,410.0 560.6,400.0 561.1,389.3" fill="#5660b0"/>
<circle cx="541.1" cy="488.9" r="0.8" fill="#ea8130"/><circle cx="556.1" cy="489.3" r="0.8" fill="#5660b0"/>
<line x1="504.2" y1="375.4" x2="516.9" y2="375.4" stroke="#222" stroke-width="1.1"/>
<line x1="519.9" y1="377.9" x2="531.2" y2="377.9" stroke="#222" stroke-width="1.1"/>
<line x1="535.1" y1="409.4" x2="547.8" y2="409.4" stroke="#222" stroke-width="1.1"/>
<line x1="550.0" y1="406.2" x2="562.2" y2="406.2" stroke="#222" stroke-width="1.1"/>
<path d="M617.8,360.0 V506.7 H683.6" fill="none" stroke="#333" stroke-width="1"/>
<path d="M617.8,506.70h-5.5M617.8,501.18h-2.5M617.8,497.95h-2.5M617.8,495.66h-2.5M617.8,493.88h-2.5M617.8,492.43h-2.5M617.8,491.20h-2.5M617.8,490.14h-2.5M617.8,489.20h-2.5M617.8,488.36h-3.5M617.8,482.84h-2.5M617.8,479.61h-2.5M617.8,477.32h-2.5M617.8,475.55h-2.5M617.8,474.09h-2.5M617.8,472.87h-2.5M617.8,471.80h-2.5M617.8,470.86h-2.5M617.8,470.02h-5.5M617.8,464.50h-2.5M617.8,461.28h-2.5M617.8,458.98h-2.5M617.8,457.21h-2.5M617.8,455.76h-2.5M617.8,454.53h-2.5M617.8,453.46h-2.5M617.8,452.53h-2.5M617.8,451.69h-3.5M617.8,446.17h-2.5M617.8,442.94h-2.5M617.8,440.65h-2.5M617.8,438.87h-2.5M617.8,437.42h-2.5M617.8,436.19h-2.5M617.8,435.13h-2.5M617.8,434.19h-2.5M617.8,433.35h-5.5M617.8,427.83h-2.5M617.8,424.60h-2.5M617.8,422.31h-2.5M617.8,420.53h-2.5M617.8,419.08h-2.5M617.8,417.85h-2.5M617.8,416.79h-2.5M617.8,415.85h-2.5M617.8,415.01h-3.5M617.8,409.49h-2.5M617.8,406.26h-2.5M617.8,403.97h-2.5M617.8,402.20h-2.5M617.8,400.74h-2.5M617.8,399.52h-2.5M617.8,398.45h-2.5M617.8,397.51h-2.5M617.8,396.68h-5.5M617.8,391.15h-2.5M617.8,387.93h-2.5M617.8,385.63h-2.5M617.8,383.86h-2.5M617.8,382.41h-2.5M617.8,381.18h-2.5M617.8,380.11h-2.5M617.8,379.18h-2.5M617.8,378.34h-3.5M617.8,372.82h-2.5M617.8,369.59h-2.5M617.8,367.30h-2.5M617.8,365.52h-2.5M617.8,364.07h-2.5M617.8,362.84h-2.5M617.8,361.78h-2.5M617.8,360.84h-2.5M617.8,360.00h-5.5M628.0,506.7v6.5M642.9,506.7v6.5M658.0,506.7v6.5M672.7,506.7v6.5" stroke="#333" stroke-width="0.8" fill="none"/>
<text x="610.0" y="511.3" font-size="9" text-anchor="end" fill="#333" stroke="#333" stroke-width="0.18">10<tspan dy="-3.8" font-size="6.5">-4</tspan></text>
<text x="610.0" y="474.6" font-size="9" text-anchor="end" fill="#333" stroke="#333" stroke-width="0.18">10<tspan dy="-3.8" font-size="6.5">-2</tspan></text>
<text x="610.0" y="438.0" font-size="9" text-anchor="end" fill="#333" stroke="#333" stroke-width="0.18">10<tspan dy="-3.8" font-size="6.5">0</tspan></text>
<text x="610.0" y="401.3" font-size="9" text-anchor="end" fill="#333" stroke="#333" stroke-width="0.18">10<tspan dy="-3.8" font-size="6.5">2</tspan></text>
<text x="610.0" y="364.6" font-size="9" text-anchor="end" fill="#333" stroke="#333" stroke-width="0.18">10<tspan dy="-3.8" font-size="6.5">4</tspan></text>
<text x="589" y="426.3" font-size="8.6" text-anchor="middle" textLength="122" lengthAdjust="spacingAndGlyphs" transform="rotate(-90 589 426.3)" fill="#333" stroke="#333" stroke-width="0.22" >LactC2-mCherry Intensity (A.U)</text>
<text x="631.7" y="521.5" font-size="8.4" text-anchor="end" transform="rotate(-45 631.7 521.5)" fill="#333" stroke="#333" stroke-width="0.22" >ROI 1</text>
<text x="646.6" y="521.5" font-size="8.4" text-anchor="end" transform="rotate(-45 646.6 521.5)" fill="#333" stroke="#333" stroke-width="0.22" >ROI 2</text>
<text x="661.7" y="521.5" font-size="8.4" text-anchor="end" transform="rotate(-45 661.7 521.5)" fill="#333" stroke="#333" stroke-width="0.22" >ROI 3</text>
<text x="676.4000000000001" y="521.5" font-size="8.4" text-anchor="end" transform="rotate(-45 676.4000000000001 521.5)" fill="#333" stroke="#333" stroke-width="0.22" >ROI 4</text>
<polygon points="624.7,402.1 623.7,410.0 622.9,418.0 622.6,425.0 623.3,435.0 624.7,445.0 625.9,456.0 626.6,470.0 627.0,485.1 628.4,485.1 628.8,470.0 629.5,456.0 630.7,445.0 632.1,435.0 632.8,425.0 632.5,418.0 631.7,410.0 630.7,402.1" fill="#7f40a2"/>
<polygon points="642.5,367.7 642.5,369.0 642.0,371.0 641.2,375.0 640.0,380.0 638.5,386.0 637.9,391.3 638.4,397.0 638.8,403.3 647.2,403.3 647.6,397.0 648.1,391.3 647.5,386.0 646.0,380.0 644.8,375.0 644.0,371.0 643.5,369.0 643.5,367.7" fill="#7fd9dc"/>
<polygon points="654.9,402.1 653.5,410.0 652.6,418.0 652.3,425.0 653.1,435.0 654.5,445.0 655.7,456.0 656.5,470.0 657.0,485.1 658.4,485.1 658.9,470.0 659.7,456.0 660.9,445.0 662.3,435.0 663.1,425.0 662.8,418.0 661.9,410.0 660.5,402.1" fill="#ea8130"/>
<polygon points="672.2,367.2 671.7,372.0 670.6,378.0 669.4,384.0 668.2,390.0 667.9,394.0 668.2,400.0 668.4,403.3 677.6,403.3 677.8,400.0 678.1,394.0 677.8,390.0 676.6,384.0 675.4,378.0 674.3,372.0 673.8,367.2" fill="#5660b0"/>
<line x1="621.7" y1="420.1" x2="633.8" y2="420.1" stroke="#222" stroke-width="1.1"/>
<line x1="636.7" y1="387.2" x2="649.2" y2="387.2" stroke="#222" stroke-width="1.1"/>
<line x1="651.6" y1="420.1" x2="664.3" y2="420.1" stroke="#222" stroke-width="1.1"/>
<line x1="666.7" y1="386.6" x2="678.7" y2="386.6" stroke="#222" stroke-width="1.1"/></svg>
</body></html>
